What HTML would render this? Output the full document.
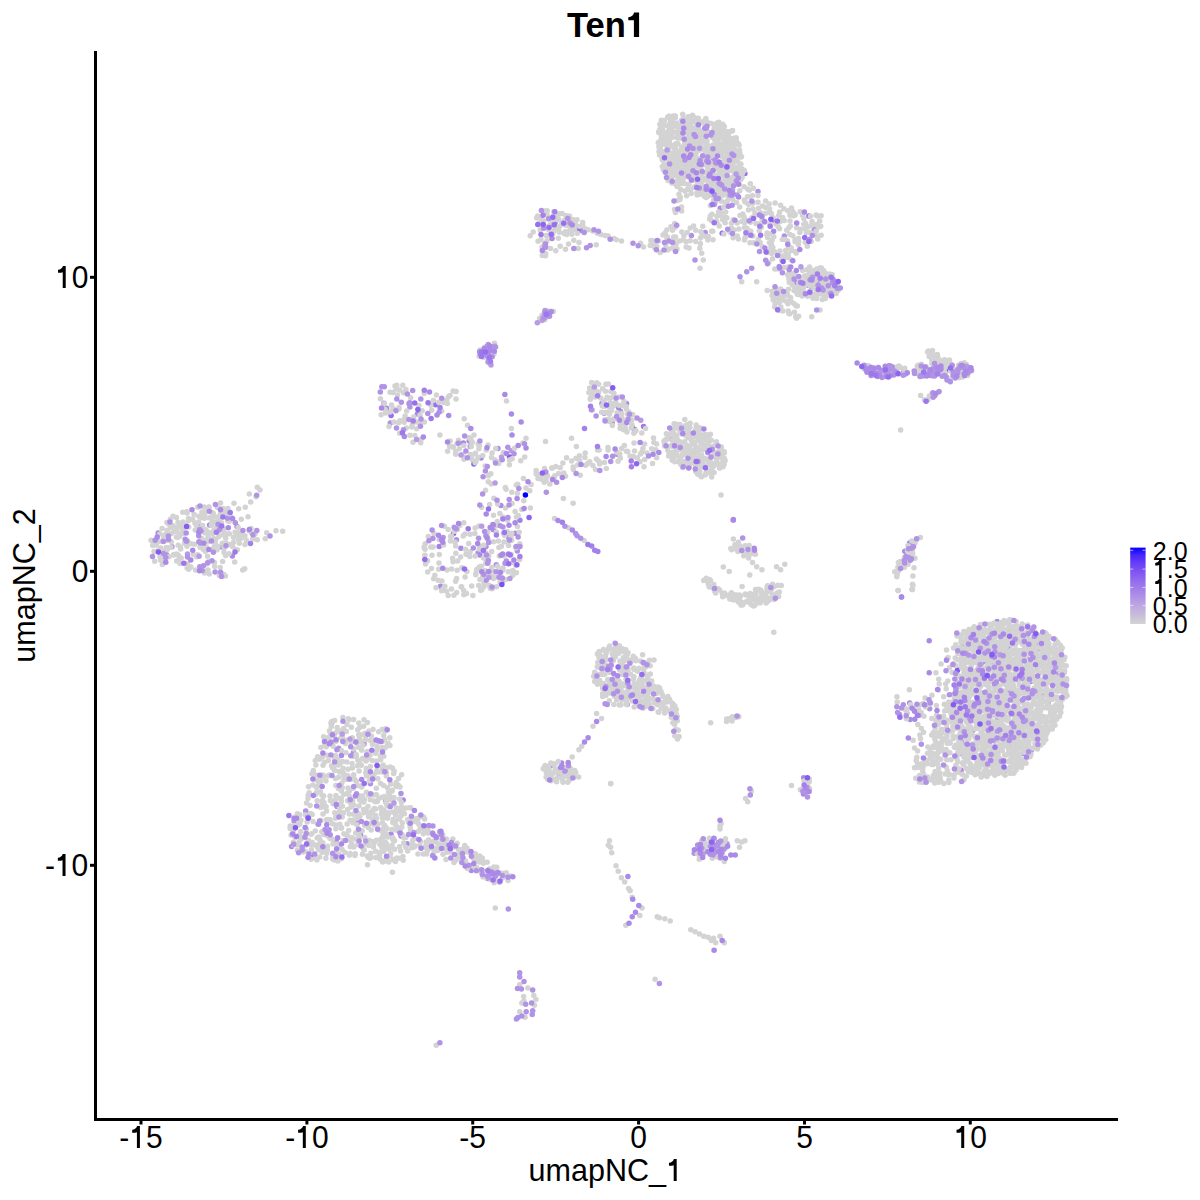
<!DOCTYPE html>
<html><head><meta charset="utf-8"><style>
html,body{margin:0;padding:0;background:#fff;width:1200px;height:1200px;overflow:hidden}
svg{display:block}
text{font-family:"Liberation Sans",sans-serif;fill:#000}
.one{fill-opacity:0}
</style></head><body>
<svg width="1200" height="1200" viewBox="0 0 1200 1200">
<rect width="1200" height="1200" fill="#fff"/>
<g fill="#b69ce3"><circle cx="499.6" cy="882.1" r="2.75"/><circle cx="172.0" cy="546.7" r="2.75"/><circle cx="501.5" cy="457.0" r="2.75"/><circle cx="511.2" cy="450.8" r="2.75"/><circle cx="707.9" cy="195.8" r="2.75"/><circle cx="905.6" cy="374.1" r="2.75"/><circle cx="968.9" cy="367.6" r="2.75"/></g><g fill="#b093e5"><circle cx="971.7" cy="732.0" r="2.75"/><circle cx="975.7" cy="674.3" r="2.75"/><circle cx="981.5" cy="633.9" r="2.75"/><circle cx="981.6" cy="698.1" r="2.75"/><circle cx="990.3" cy="652.2" r="2.75"/><circle cx="988.9" cy="708.5" r="2.75"/><circle cx="992.7" cy="664.6" r="2.75"/><circle cx="997.2" cy="652.3" r="2.75"/><circle cx="1003.8" cy="691.5" r="2.75"/><circle cx="1008.5" cy="631.5" r="2.75"/><circle cx="1010.4" cy="694.3" r="2.75"/><circle cx="1033.7" cy="690.0" r="2.75"/><circle cx="1031.3" cy="750.4" r="2.75"/><circle cx="1056.4" cy="673.6" r="2.75"/><circle cx="903.3" cy="704.8" r="2.75"/><circle cx="906.8" cy="713.1" r="2.75"/><circle cx="929.7" cy="708.7" r="2.75"/><circle cx="962.8" cy="644.2" r="2.75"/><circle cx="957.7" cy="669.8" r="2.75"/><circle cx="963.3" cy="693.2" r="2.75"/><circle cx="963.1" cy="739.3" r="2.75"/><circle cx="965.9" cy="672.9" r="2.75"/><circle cx="974.5" cy="672.2" r="2.75"/><circle cx="972.9" cy="730.2" r="2.75"/><circle cx="982.6" cy="662.2" r="2.75"/><circle cx="994.6" cy="686.1" r="2.75"/><circle cx="992.9" cy="710.4" r="2.75"/><circle cx="1002.5" cy="668.5" r="2.75"/><circle cx="1009.3" cy="691.1" r="2.75"/><circle cx="1023.5" cy="634.9" r="2.75"/><circle cx="1031.0" cy="681.5" r="2.75"/><circle cx="1035.6" cy="643.5" r="2.75"/><circle cx="294.2" cy="821.3" r="2.75"/><circle cx="338.6" cy="748.3" r="2.75"/><circle cx="353.5" cy="752.6" r="2.75"/><circle cx="357.5" cy="823.0" r="2.75"/><circle cx="364.1" cy="743.9" r="2.75"/><circle cx="370.4" cy="783.7" r="2.75"/><circle cx="383.1" cy="770.2" r="2.75"/><circle cx="385.6" cy="801.2" r="2.75"/><circle cx="401.0" cy="836.1" r="2.75"/><circle cx="488.1" cy="870.9" r="2.75"/><circle cx="305.7" cy="810.9" r="2.75"/><circle cx="331.5" cy="723.2" r="2.75"/><circle cx="487.5" cy="878.5" r="2.75"/><circle cx="166.6" cy="554.7" r="2.75"/><circle cx="197.3" cy="524.5" r="2.75"/><circle cx="199.8" cy="566.7" r="2.75"/><circle cx="215.1" cy="571.9" r="2.75"/><circle cx="221.6" cy="547.0" r="2.75"/><circle cx="225.2" cy="513.3" r="2.75"/><circle cx="390.3" cy="423.0" r="2.75"/><circle cx="401.3" cy="402.3" r="2.75"/><circle cx="412.7" cy="390.4" r="2.75"/><circle cx="409.9" cy="407.1" r="2.75"/><circle cx="469.1" cy="441.1" r="2.75"/><circle cx="507.8" cy="447.2" r="2.75"/><circle cx="514.0" cy="453.8" r="2.75"/><circle cx="456.5" cy="539.7" r="2.75"/><circle cx="502.0" cy="581.9" r="2.75"/><circle cx="508.5" cy="537.2" r="2.75"/><circle cx="478.6" cy="538.2" r="2.75"/><circle cx="478.0" cy="553.0" r="2.75"/><circle cx="486.0" cy="546.8" r="2.75"/><circle cx="496.3" cy="564.7" r="2.75"/><circle cx="506.3" cy="560.9" r="2.75"/><circle cx="517.3" cy="550.9" r="2.75"/><circle cx="616.9" cy="454.3" r="2.75"/><circle cx="601.9" cy="403.4" r="2.75"/><circle cx="612.2" cy="422.4" r="2.75"/><circle cx="620.4" cy="411.3" r="2.75"/><circle cx="634.7" cy="429.4" r="2.75"/><circle cx="581.1" cy="230.5" r="2.75"/><circle cx="714.5" cy="182.1" r="2.75"/><circle cx="720.4" cy="169.4" r="2.75"/><circle cx="732.5" cy="194.0" r="2.75"/><circle cx="758.0" cy="191.6" r="2.75"/><circle cx="784.3" cy="235.9" r="2.75"/><circle cx="814.3" cy="229.3" r="2.75"/><circle cx="691.4" cy="235.4" r="2.75"/><circle cx="705.2" cy="232.5" r="2.75"/><circle cx="820.0" cy="279.8" r="2.75"/><circle cx="818.8" cy="283.5" r="2.75"/><circle cx="827.1" cy="292.5" r="2.75"/><circle cx="813.1" cy="274.8" r="2.75"/><circle cx="811.7" cy="288.0" r="2.75"/><circle cx="823.9" cy="273.9" r="2.75"/><circle cx="827.4" cy="277.7" r="2.75"/><circle cx="827.1" cy="287.3" r="2.75"/><circle cx="825.9" cy="295.6" r="2.75"/><circle cx="881.7" cy="375.3" r="2.75"/><circle cx="903.7" cy="371.2" r="2.75"/><circle cx="922.2" cy="372.7" r="2.75"/><circle cx="925.1" cy="373.7" r="2.75"/><circle cx="930.3" cy="375.4" r="2.75"/><circle cx="945.5" cy="371.7" r="2.75"/><circle cx="947.1" cy="367.3" r="2.75"/><circle cx="962.1" cy="371.0" r="2.75"/><circle cx="914.0" cy="542.4" r="2.75"/><circle cx="911.8" cy="557.2" r="2.75"/><circle cx="627.2" cy="704.4" r="2.75"/><circle cx="551.3" cy="765.2" r="2.75"/><circle cx="563.6" cy="767.4" r="2.75"/><circle cx="566.9" cy="768.6" r="2.75"/><circle cx="694.2" cy="853.2" r="2.75"/><circle cx="710.3" cy="842.8" r="2.75"/><circle cx="726.9" cy="843.8" r="2.75"/><circle cx="489.6" cy="362.7" r="2.75"/></g><g fill="#aa89e7"><circle cx="964.5" cy="742.5" r="2.75"/><circle cx="989.2" cy="694.7" r="2.75"/><circle cx="997.1" cy="621.4" r="2.75"/><circle cx="1004.0" cy="772.0" r="2.75"/><circle cx="1008.0" cy="647.6" r="2.75"/><circle cx="1022.7" cy="753.4" r="2.75"/><circle cx="1037.0" cy="650.0" r="2.75"/><circle cx="1042.8" cy="695.5" r="2.75"/><circle cx="1048.2" cy="704.1" r="2.75"/><circle cx="961.1" cy="770.3" r="2.75"/><circle cx="909.7" cy="703.1" r="2.75"/><circle cx="910.2" cy="719.5" r="2.75"/><circle cx="969.6" cy="633.1" r="2.75"/><circle cx="972.7" cy="633.6" r="2.75"/><circle cx="988.0" cy="661.6" r="2.75"/><circle cx="994.9" cy="731.4" r="2.75"/><circle cx="1002.0" cy="706.7" r="2.75"/><circle cx="1001.4" cy="731.0" r="2.75"/><circle cx="1025.4" cy="648.0" r="2.75"/><circle cx="1025.2" cy="680.1" r="2.75"/><circle cx="291.6" cy="846.4" r="2.75"/><circle cx="337.0" cy="806.5" r="2.75"/><circle cx="336.0" cy="841.0" r="2.75"/><circle cx="389.1" cy="805.8" r="2.75"/><circle cx="391.0" cy="834.1" r="2.75"/><circle cx="403.2" cy="800.0" r="2.75"/><circle cx="407.0" cy="843.7" r="2.75"/><circle cx="471.3" cy="870.6" r="2.75"/><circle cx="158.2" cy="533.0" r="2.75"/><circle cx="209.6" cy="524.9" r="2.75"/><circle cx="232.4" cy="556.0" r="2.75"/><circle cx="237.0" cy="526.6" r="2.75"/><circle cx="383.9" cy="403.3" r="2.75"/><circle cx="386.6" cy="408.2" r="2.75"/><circle cx="417.4" cy="414.1" r="2.75"/><circle cx="463.4" cy="442.9" r="2.75"/><circle cx="470.3" cy="446.5" r="2.75"/><circle cx="481.1" cy="457.9" r="2.75"/><circle cx="497.9" cy="448.6" r="2.75"/><circle cx="500.9" cy="505.6" r="2.75"/><circle cx="517.1" cy="498.6" r="2.75"/><circle cx="440.5" cy="586.3" r="2.75"/><circle cx="460.9" cy="548.2" r="2.75"/><circle cx="479.9" cy="555.0" r="2.75"/><circle cx="493.3" cy="529.7" r="2.75"/><circle cx="515.2" cy="533.2" r="2.75"/><circle cx="604.2" cy="413.2" r="2.75"/><circle cx="618.5" cy="407.6" r="2.75"/><circle cx="626.5" cy="403.4" r="2.75"/><circle cx="545.8" cy="247.2" r="2.75"/><circle cx="555.2" cy="222.6" r="2.75"/><circle cx="683.2" cy="172.0" r="2.75"/><circle cx="711.8" cy="158.3" r="2.75"/><circle cx="713.3" cy="132.9" r="2.75"/><circle cx="742.4" cy="169.8" r="2.75"/><circle cx="690.5" cy="166.5" r="2.75"/><circle cx="708.9" cy="151.6" r="2.75"/><circle cx="720.3" cy="208.2" r="2.75"/><circle cx="772.9" cy="220.3" r="2.75"/><circle cx="773.6" cy="231.3" r="2.75"/><circle cx="795.6" cy="282.4" r="2.75"/><circle cx="808.1" cy="285.3" r="2.75"/><circle cx="821.5" cy="286.6" r="2.75"/><circle cx="833.7" cy="281.1" r="2.75"/><circle cx="881.6" cy="370.3" r="2.75"/><circle cx="895.8" cy="371.1" r="2.75"/><circle cx="946.0" cy="370.7" r="2.75"/><circle cx="946.4" cy="377.0" r="2.75"/><circle cx="754.2" cy="548.3" r="2.75"/><circle cx="904.8" cy="551.3" r="2.75"/><circle cx="909.6" cy="543.0" r="2.75"/><circle cx="559.2" cy="775.4" r="2.75"/><circle cx="561.6" cy="763.0" r="2.75"/><circle cx="803.7" cy="777.8" r="2.75"/><circle cx="803.5" cy="794.1" r="2.75"/><circle cx="544.9" cy="318.0" r="2.75"/></g><g fill="#a480ea"><circle cx="997.3" cy="717.6" r="2.75"/><circle cx="977.2" cy="670.2" r="2.75"/><circle cx="995.2" cy="726.3" r="2.75"/><circle cx="1008.6" cy="745.5" r="2.75"/><circle cx="360.5" cy="835.1" r="2.75"/><circle cx="495.6" cy="872.9" r="2.75"/><circle cx="519.9" cy="520.2" r="2.75"/><circle cx="439.2" cy="546.5" r="2.75"/><circle cx="632.5" cy="427.5" r="2.75"/></g><g fill="#9d77ec"><circle cx="1003.6" cy="666.1" r="2.75"/><circle cx="643.6" cy="426.5" r="2.75"/><circle cx="671.4" cy="438.4" r="2.75"/><circle cx="808.8" cy="216.0" r="2.75"/><circle cx="888.9" cy="373.3" r="2.75"/></g><g fill="#966eee"><circle cx="1001.2" cy="730.5" r="2.75"/><circle cx="1020.3" cy="662.3" r="2.75"/><circle cx="391.1" cy="415.4" r="2.75"/><circle cx="435.4" cy="404.7" r="2.75"/><circle cx="578.1" cy="229.7" r="2.75"/><circle cx="744.9" cy="173.5" r="2.75"/><circle cx="722.2" cy="233.2" r="2.75"/><circle cx="941.9" cy="370.5" r="2.75"/></g><g fill="#8e65f0"><circle cx="473.9" cy="464.0" r="2.75"/></g><g fill="#855bf2"><circle cx="959.8" cy="753.6" r="2.75"/><circle cx="957.3" cy="670.6" r="2.75"/><circle cx="313.8" cy="856.7" r="2.75"/><circle cx="509.5" cy="456.9" r="2.75"/><circle cx="453.5" cy="533.5" r="2.75"/><circle cx="947.8" cy="369.8" r="2.75"/><circle cx="719.7" cy="845.5" r="2.75"/></g>
<g fill="#d3d3d3"><circle cx="952.1" cy="702.8" r="2.75"/><circle cx="952.9" cy="704.7" r="2.75"/><circle cx="952.6" cy="709.6" r="2.75"/><circle cx="951.7" cy="710.4" r="2.75"/><circle cx="955.1" cy="693.2" r="2.75"/><circle cx="954.9" cy="695.4" r="2.75"/><circle cx="954.3" cy="699.1" r="2.75"/><circle cx="953.5" cy="706.3" r="2.75"/><circle cx="955.4" cy="708.5" r="2.75"/><circle cx="954.3" cy="711.0" r="2.75"/><circle cx="955.0" cy="714.8" r="2.75"/><circle cx="954.4" cy="717.2" r="2.75"/><circle cx="953.8" cy="720.6" r="2.75"/><circle cx="958.7" cy="675.5" r="2.75"/><circle cx="957.3" cy="681.9" r="2.75"/><circle cx="956.1" cy="686.9" r="2.75"/><circle cx="958.9" cy="693.8" r="2.75"/><circle cx="956.3" cy="699.1" r="2.75"/><circle cx="958.1" cy="701.8" r="2.75"/><circle cx="958.9" cy="706.4" r="2.75"/><circle cx="957.5" cy="712.3" r="2.75"/><circle cx="957.7" cy="715.0" r="2.75"/><circle cx="957.2" cy="719.3" r="2.75"/><circle cx="956.2" cy="724.5" r="2.75"/><circle cx="956.5" cy="727.6" r="2.75"/><circle cx="956.2" cy="728.3" r="2.75"/><circle cx="957.6" cy="736.4" r="2.75"/><circle cx="959.0" cy="740.8" r="2.75"/><circle cx="960.8" cy="635.0" r="2.75"/><circle cx="961.1" cy="638.2" r="2.75"/><circle cx="961.6" cy="640.3" r="2.75"/><circle cx="961.0" cy="642.1" r="2.75"/><circle cx="960.7" cy="646.9" r="2.75"/><circle cx="961.2" cy="648.7" r="2.75"/><circle cx="961.5" cy="653.6" r="2.75"/><circle cx="961.9" cy="656.8" r="2.75"/><circle cx="961.1" cy="661.8" r="2.75"/><circle cx="961.1" cy="665.0" r="2.75"/><circle cx="961.8" cy="668.1" r="2.75"/><circle cx="960.2" cy="676.7" r="2.75"/><circle cx="960.0" cy="682.6" r="2.75"/><circle cx="961.0" cy="684.6" r="2.75"/><circle cx="959.1" cy="686.8" r="2.75"/><circle cx="961.7" cy="691.9" r="2.75"/><circle cx="959.6" cy="696.2" r="2.75"/><circle cx="959.4" cy="700.7" r="2.75"/><circle cx="960.8" cy="704.4" r="2.75"/><circle cx="960.9" cy="708.0" r="2.75"/><circle cx="960.8" cy="712.6" r="2.75"/><circle cx="961.7" cy="714.4" r="2.75"/><circle cx="961.0" cy="718.2" r="2.75"/><circle cx="960.8" cy="721.7" r="2.75"/><circle cx="961.8" cy="727.8" r="2.75"/><circle cx="961.2" cy="730.2" r="2.75"/><circle cx="960.3" cy="732.8" r="2.75"/><circle cx="960.6" cy="743.0" r="2.75"/><circle cx="961.6" cy="744.9" r="2.75"/><circle cx="959.1" cy="747.1" r="2.75"/><circle cx="959.5" cy="749.9" r="2.75"/><circle cx="960.5" cy="752.2" r="2.75"/><circle cx="963.9" cy="631.5" r="2.75"/><circle cx="964.9" cy="633.9" r="2.75"/><circle cx="962.0" cy="640.3" r="2.75"/><circle cx="964.3" cy="642.3" r="2.75"/><circle cx="962.2" cy="656.0" r="2.75"/><circle cx="963.5" cy="656.5" r="2.75"/><circle cx="962.8" cy="661.6" r="2.75"/><circle cx="963.6" cy="662.7" r="2.75"/><circle cx="964.1" cy="667.7" r="2.75"/><circle cx="964.7" cy="669.6" r="2.75"/><circle cx="964.0" cy="672.4" r="2.75"/><circle cx="964.5" cy="675.5" r="2.75"/><circle cx="962.9" cy="678.5" r="2.75"/><circle cx="964.6" cy="682.6" r="2.75"/><circle cx="964.1" cy="686.9" r="2.75"/><circle cx="964.7" cy="692.1" r="2.75"/><circle cx="962.0" cy="702.7" r="2.75"/><circle cx="963.1" cy="706.8" r="2.75"/><circle cx="962.9" cy="708.3" r="2.75"/><circle cx="962.4" cy="712.0" r="2.75"/><circle cx="964.8" cy="715.1" r="2.75"/><circle cx="962.4" cy="717.8" r="2.75"/><circle cx="962.0" cy="726.2" r="2.75"/><circle cx="963.3" cy="730.3" r="2.75"/><circle cx="963.8" cy="732.9" r="2.75"/><circle cx="964.7" cy="734.7" r="2.75"/><circle cx="963.6" cy="737.9" r="2.75"/><circle cx="963.2" cy="749.8" r="2.75"/><circle cx="964.1" cy="754.4" r="2.75"/><circle cx="963.9" cy="757.0" r="2.75"/><circle cx="963.9" cy="762.2" r="2.75"/><circle cx="967.1" cy="632.1" r="2.75"/><circle cx="967.2" cy="633.8" r="2.75"/><circle cx="966.6" cy="638.2" r="2.75"/><circle cx="966.5" cy="639.6" r="2.75"/><circle cx="966.5" cy="643.7" r="2.75"/><circle cx="966.0" cy="644.8" r="2.75"/><circle cx="965.8" cy="649.3" r="2.75"/><circle cx="966.4" cy="651.0" r="2.75"/><circle cx="967.0" cy="655.0" r="2.75"/><circle cx="965.1" cy="657.0" r="2.75"/><circle cx="965.5" cy="660.7" r="2.75"/><circle cx="966.5" cy="662.6" r="2.75"/><circle cx="965.0" cy="667.8" r="2.75"/><circle cx="965.9" cy="669.7" r="2.75"/><circle cx="966.8" cy="671.6" r="2.75"/><circle cx="967.1" cy="674.5" r="2.75"/><circle cx="966.6" cy="680.6" r="2.75"/><circle cx="967.8" cy="684.2" r="2.75"/><circle cx="966.3" cy="689.2" r="2.75"/><circle cx="965.3" cy="689.4" r="2.75"/><circle cx="965.2" cy="692.4" r="2.75"/><circle cx="966.4" cy="696.4" r="2.75"/><circle cx="965.0" cy="700.4" r="2.75"/><circle cx="967.6" cy="708.7" r="2.75"/><circle cx="966.6" cy="714.0" r="2.75"/><circle cx="965.3" cy="719.1" r="2.75"/><circle cx="966.6" cy="721.8" r="2.75"/><circle cx="967.3" cy="722.2" r="2.75"/><circle cx="965.5" cy="729.1" r="2.75"/><circle cx="967.0" cy="733.7" r="2.75"/><circle cx="967.7" cy="736.1" r="2.75"/><circle cx="967.7" cy="738.6" r="2.75"/><circle cx="966.4" cy="741.2" r="2.75"/><circle cx="965.5" cy="747.8" r="2.75"/><circle cx="966.2" cy="749.5" r="2.75"/><circle cx="965.2" cy="753.5" r="2.75"/><circle cx="967.3" cy="755.7" r="2.75"/><circle cx="965.5" cy="760.5" r="2.75"/><circle cx="965.3" cy="761.7" r="2.75"/><circle cx="966.0" cy="768.3" r="2.75"/><circle cx="969.1" cy="629.5" r="2.75"/><circle cx="970.7" cy="634.2" r="2.75"/><circle cx="968.8" cy="637.4" r="2.75"/><circle cx="969.0" cy="638.5" r="2.75"/><circle cx="970.4" cy="647.3" r="2.75"/><circle cx="968.6" cy="648.9" r="2.75"/><circle cx="968.9" cy="658.3" r="2.75"/><circle cx="970.0" cy="662.1" r="2.75"/><circle cx="970.7" cy="667.7" r="2.75"/><circle cx="968.7" cy="669.0" r="2.75"/><circle cx="968.6" cy="672.7" r="2.75"/><circle cx="970.8" cy="676.7" r="2.75"/><circle cx="969.9" cy="680.3" r="2.75"/><circle cx="970.1" cy="682.1" r="2.75"/><circle cx="969.1" cy="689.2" r="2.75"/><circle cx="968.0" cy="692.3" r="2.75"/><circle cx="969.0" cy="693.0" r="2.75"/><circle cx="969.5" cy="696.7" r="2.75"/><circle cx="968.6" cy="700.7" r="2.75"/><circle cx="969.2" cy="703.4" r="2.75"/><circle cx="970.1" cy="704.9" r="2.75"/><circle cx="970.2" cy="707.9" r="2.75"/><circle cx="970.0" cy="713.1" r="2.75"/><circle cx="969.8" cy="715.6" r="2.75"/><circle cx="969.1" cy="719.9" r="2.75"/><circle cx="968.3" cy="724.4" r="2.75"/><circle cx="970.6" cy="727.1" r="2.75"/><circle cx="969.8" cy="729.5" r="2.75"/><circle cx="970.6" cy="732.9" r="2.75"/><circle cx="968.5" cy="735.0" r="2.75"/><circle cx="968.7" cy="739.0" r="2.75"/><circle cx="969.5" cy="745.9" r="2.75"/><circle cx="970.1" cy="750.9" r="2.75"/><circle cx="969.7" cy="754.1" r="2.75"/><circle cx="968.7" cy="757.1" r="2.75"/><circle cx="968.2" cy="759.3" r="2.75"/><circle cx="970.1" cy="763.8" r="2.75"/><circle cx="970.9" cy="765.2" r="2.75"/><circle cx="968.2" cy="769.3" r="2.75"/><circle cx="968.3" cy="771.3" r="2.75"/><circle cx="973.6" cy="628.1" r="2.75"/><circle cx="971.5" cy="632.2" r="2.75"/><circle cx="972.6" cy="638.6" r="2.75"/><circle cx="972.8" cy="641.7" r="2.75"/><circle cx="973.9" cy="646.6" r="2.75"/><circle cx="973.0" cy="647.8" r="2.75"/><circle cx="972.8" cy="650.6" r="2.75"/><circle cx="972.2" cy="656.0" r="2.75"/><circle cx="971.8" cy="656.4" r="2.75"/><circle cx="973.0" cy="660.9" r="2.75"/><circle cx="972.6" cy="663.2" r="2.75"/><circle cx="971.2" cy="665.4" r="2.75"/><circle cx="973.2" cy="672.7" r="2.75"/><circle cx="971.6" cy="675.2" r="2.75"/><circle cx="971.9" cy="679.9" r="2.75"/><circle cx="971.4" cy="682.4" r="2.75"/><circle cx="971.9" cy="685.9" r="2.75"/><circle cx="971.7" cy="689.1" r="2.75"/><circle cx="973.0" cy="691.1" r="2.75"/><circle cx="973.4" cy="694.1" r="2.75"/><circle cx="972.8" cy="702.3" r="2.75"/><circle cx="973.3" cy="706.3" r="2.75"/><circle cx="971.3" cy="707.7" r="2.75"/><circle cx="971.5" cy="710.9" r="2.75"/><circle cx="973.9" cy="713.5" r="2.75"/><circle cx="971.7" cy="720.7" r="2.75"/><circle cx="971.7" cy="735.0" r="2.75"/><circle cx="972.3" cy="743.9" r="2.75"/><circle cx="973.5" cy="750.6" r="2.75"/><circle cx="973.5" cy="754.0" r="2.75"/><circle cx="971.8" cy="757.5" r="2.75"/><circle cx="971.1" cy="766.6" r="2.75"/><circle cx="972.2" cy="770.0" r="2.75"/><circle cx="971.5" cy="772.5" r="2.75"/><circle cx="974.2" cy="626.7" r="2.75"/><circle cx="976.7" cy="630.2" r="2.75"/><circle cx="975.6" cy="632.5" r="2.75"/><circle cx="975.1" cy="635.9" r="2.75"/><circle cx="976.5" cy="642.7" r="2.75"/><circle cx="975.5" cy="646.2" r="2.75"/><circle cx="975.6" cy="649.0" r="2.75"/><circle cx="976.4" cy="650.4" r="2.75"/><circle cx="974.5" cy="655.6" r="2.75"/><circle cx="974.4" cy="657.4" r="2.75"/><circle cx="974.7" cy="662.3" r="2.75"/><circle cx="976.8" cy="662.7" r="2.75"/><circle cx="975.4" cy="670.9" r="2.75"/><circle cx="974.5" cy="675.6" r="2.75"/><circle cx="974.9" cy="677.9" r="2.75"/><circle cx="975.9" cy="683.9" r="2.75"/><circle cx="976.8" cy="689.2" r="2.75"/><circle cx="974.3" cy="692.1" r="2.75"/><circle cx="975.9" cy="692.3" r="2.75"/><circle cx="975.1" cy="706.7" r="2.75"/><circle cx="976.8" cy="708.0" r="2.75"/><circle cx="976.8" cy="710.3" r="2.75"/><circle cx="975.1" cy="714.8" r="2.75"/><circle cx="974.9" cy="720.3" r="2.75"/><circle cx="975.9" cy="722.3" r="2.75"/><circle cx="976.5" cy="726.8" r="2.75"/><circle cx="974.9" cy="728.9" r="2.75"/><circle cx="975.1" cy="736.6" r="2.75"/><circle cx="975.0" cy="737.5" r="2.75"/><circle cx="976.3" cy="741.4" r="2.75"/><circle cx="975.5" cy="746.0" r="2.75"/><circle cx="975.3" cy="746.7" r="2.75"/><circle cx="976.9" cy="749.2" r="2.75"/><circle cx="975.1" cy="752.2" r="2.75"/><circle cx="976.4" cy="756.5" r="2.75"/><circle cx="976.9" cy="763.8" r="2.75"/><circle cx="975.9" cy="765.8" r="2.75"/><circle cx="974.1" cy="768.9" r="2.75"/><circle cx="976.8" cy="772.0" r="2.75"/><circle cx="975.1" cy="774.8" r="2.75"/><circle cx="977.1" cy="634.2" r="2.75"/><circle cx="978.2" cy="636.6" r="2.75"/><circle cx="977.0" cy="641.1" r="2.75"/><circle cx="978.9" cy="643.8" r="2.75"/><circle cx="979.1" cy="645.5" r="2.75"/><circle cx="979.2" cy="648.6" r="2.75"/><circle cx="978.5" cy="657.9" r="2.75"/><circle cx="977.5" cy="660.0" r="2.75"/><circle cx="979.5" cy="664.1" r="2.75"/><circle cx="978.2" cy="667.8" r="2.75"/><circle cx="978.3" cy="672.6" r="2.75"/><circle cx="979.2" cy="677.0" r="2.75"/><circle cx="977.7" cy="679.5" r="2.75"/><circle cx="977.0" cy="682.5" r="2.75"/><circle cx="977.7" cy="688.5" r="2.75"/><circle cx="978.5" cy="689.3" r="2.75"/><circle cx="979.5" cy="696.6" r="2.75"/><circle cx="979.9" cy="698.6" r="2.75"/><circle cx="978.0" cy="701.3" r="2.75"/><circle cx="977.6" cy="706.8" r="2.75"/><circle cx="978.3" cy="708.9" r="2.75"/><circle cx="979.2" cy="714.5" r="2.75"/><circle cx="977.4" cy="717.4" r="2.75"/><circle cx="977.9" cy="721.5" r="2.75"/><circle cx="978.0" cy="725.4" r="2.75"/><circle cx="977.8" cy="728.2" r="2.75"/><circle cx="977.0" cy="736.3" r="2.75"/><circle cx="977.9" cy="744.1" r="2.75"/><circle cx="977.3" cy="748.9" r="2.75"/><circle cx="979.7" cy="755.6" r="2.75"/><circle cx="978.7" cy="759.6" r="2.75"/><circle cx="977.1" cy="761.4" r="2.75"/><circle cx="978.2" cy="765.5" r="2.75"/><circle cx="979.3" cy="768.1" r="2.75"/><circle cx="977.7" cy="772.9" r="2.75"/><circle cx="979.3" cy="773.3" r="2.75"/><circle cx="980.5" cy="624.6" r="2.75"/><circle cx="980.5" cy="628.5" r="2.75"/><circle cx="980.1" cy="631.5" r="2.75"/><circle cx="980.0" cy="636.0" r="2.75"/><circle cx="982.6" cy="639.2" r="2.75"/><circle cx="982.7" cy="642.4" r="2.75"/><circle cx="981.6" cy="646.1" r="2.75"/><circle cx="981.6" cy="650.4" r="2.75"/><circle cx="982.1" cy="650.6" r="2.75"/><circle cx="982.5" cy="654.7" r="2.75"/><circle cx="981.0" cy="656.8" r="2.75"/><circle cx="980.8" cy="660.5" r="2.75"/><circle cx="980.5" cy="665.3" r="2.75"/><circle cx="982.8" cy="668.1" r="2.75"/><circle cx="980.1" cy="673.5" r="2.75"/><circle cx="980.7" cy="676.4" r="2.75"/><circle cx="981.9" cy="678.8" r="2.75"/><circle cx="982.0" cy="681.1" r="2.75"/><circle cx="980.6" cy="686.4" r="2.75"/><circle cx="980.2" cy="691.9" r="2.75"/><circle cx="982.8" cy="693.2" r="2.75"/><circle cx="981.6" cy="700.2" r="2.75"/><circle cx="981.1" cy="701.5" r="2.75"/><circle cx="981.7" cy="705.8" r="2.75"/><circle cx="980.4" cy="711.6" r="2.75"/><circle cx="980.6" cy="718.5" r="2.75"/><circle cx="982.9" cy="719.9" r="2.75"/><circle cx="981.6" cy="725.3" r="2.75"/><circle cx="981.0" cy="732.6" r="2.75"/><circle cx="982.9" cy="734.8" r="2.75"/><circle cx="981.0" cy="737.4" r="2.75"/><circle cx="980.2" cy="740.9" r="2.75"/><circle cx="982.1" cy="743.9" r="2.75"/><circle cx="982.2" cy="746.8" r="2.75"/><circle cx="982.3" cy="750.6" r="2.75"/><circle cx="982.9" cy="754.7" r="2.75"/><circle cx="982.5" cy="757.1" r="2.75"/><circle cx="982.0" cy="760.2" r="2.75"/><circle cx="981.6" cy="764.3" r="2.75"/><circle cx="980.4" cy="774.2" r="2.75"/><circle cx="981.2" cy="776.9" r="2.75"/><circle cx="984.9" cy="629.4" r="2.75"/><circle cx="983.3" cy="634.9" r="2.75"/><circle cx="984.0" cy="637.4" r="2.75"/><circle cx="985.8" cy="643.4" r="2.75"/><circle cx="983.0" cy="646.9" r="2.75"/><circle cx="984.2" cy="647.7" r="2.75"/><circle cx="985.2" cy="656.3" r="2.75"/><circle cx="984.4" cy="658.3" r="2.75"/><circle cx="983.9" cy="659.6" r="2.75"/><circle cx="985.7" cy="671.1" r="2.75"/><circle cx="985.4" cy="675.3" r="2.75"/><circle cx="983.9" cy="677.4" r="2.75"/><circle cx="983.8" cy="680.5" r="2.75"/><circle cx="985.5" cy="684.5" r="2.75"/><circle cx="985.6" cy="692.4" r="2.75"/><circle cx="983.8" cy="695.9" r="2.75"/><circle cx="984.7" cy="698.4" r="2.75"/><circle cx="983.2" cy="703.0" r="2.75"/><circle cx="985.7" cy="705.5" r="2.75"/><circle cx="984.1" cy="709.7" r="2.75"/><circle cx="983.7" cy="710.6" r="2.75"/><circle cx="984.6" cy="716.1" r="2.75"/><circle cx="985.3" cy="717.3" r="2.75"/><circle cx="983.6" cy="721.2" r="2.75"/><circle cx="983.4" cy="723.7" r="2.75"/><circle cx="985.1" cy="728.0" r="2.75"/><circle cx="983.4" cy="729.8" r="2.75"/><circle cx="984.4" cy="736.5" r="2.75"/><circle cx="983.3" cy="739.7" r="2.75"/><circle cx="983.0" cy="740.7" r="2.75"/><circle cx="985.2" cy="744.1" r="2.75"/><circle cx="982.9" cy="747.4" r="2.75"/><circle cx="985.2" cy="751.3" r="2.75"/><circle cx="983.5" cy="754.2" r="2.75"/><circle cx="983.2" cy="757.5" r="2.75"/><circle cx="983.7" cy="760.7" r="2.75"/><circle cx="985.8" cy="762.2" r="2.75"/><circle cx="985.4" cy="767.0" r="2.75"/><circle cx="984.2" cy="771.4" r="2.75"/><circle cx="983.2" cy="775.6" r="2.75"/><circle cx="988.9" cy="624.3" r="2.75"/><circle cx="986.2" cy="631.8" r="2.75"/><circle cx="988.1" cy="632.7" r="2.75"/><circle cx="987.5" cy="639.7" r="2.75"/><circle cx="986.5" cy="645.0" r="2.75"/><circle cx="988.7" cy="653.6" r="2.75"/><circle cx="987.4" cy="657.7" r="2.75"/><circle cx="987.3" cy="659.7" r="2.75"/><circle cx="988.0" cy="664.4" r="2.75"/><circle cx="987.0" cy="666.9" r="2.75"/><circle cx="988.6" cy="670.9" r="2.75"/><circle cx="987.9" cy="672.0" r="2.75"/><circle cx="987.8" cy="683.1" r="2.75"/><circle cx="987.6" cy="685.2" r="2.75"/><circle cx="988.9" cy="687.7" r="2.75"/><circle cx="987.6" cy="691.2" r="2.75"/><circle cx="987.6" cy="695.7" r="2.75"/><circle cx="986.4" cy="700.4" r="2.75"/><circle cx="988.7" cy="701.7" r="2.75"/><circle cx="987.6" cy="706.5" r="2.75"/><circle cx="986.4" cy="709.6" r="2.75"/><circle cx="988.4" cy="712.5" r="2.75"/><circle cx="987.0" cy="715.8" r="2.75"/><circle cx="987.3" cy="721.5" r="2.75"/><circle cx="987.9" cy="726.2" r="2.75"/><circle cx="987.4" cy="734.5" r="2.75"/><circle cx="986.9" cy="738.2" r="2.75"/><circle cx="987.7" cy="740.4" r="2.75"/><circle cx="987.2" cy="746.7" r="2.75"/><circle cx="987.5" cy="752.6" r="2.75"/><circle cx="987.5" cy="756.1" r="2.75"/><circle cx="986.6" cy="760.4" r="2.75"/><circle cx="986.2" cy="768.8" r="2.75"/><circle cx="986.6" cy="771.8" r="2.75"/><circle cx="988.5" cy="774.0" r="2.75"/><circle cx="987.0" cy="776.6" r="2.75"/><circle cx="991.8" cy="626.2" r="2.75"/><circle cx="990.1" cy="628.9" r="2.75"/><circle cx="988.9" cy="630.7" r="2.75"/><circle cx="991.8" cy="633.5" r="2.75"/><circle cx="990.2" cy="637.7" r="2.75"/><circle cx="989.3" cy="640.3" r="2.75"/><circle cx="991.5" cy="641.7" r="2.75"/><circle cx="991.3" cy="645.0" r="2.75"/><circle cx="989.7" cy="648.1" r="2.75"/><circle cx="989.9" cy="656.2" r="2.75"/><circle cx="990.1" cy="657.5" r="2.75"/><circle cx="990.3" cy="661.0" r="2.75"/><circle cx="989.6" cy="665.4" r="2.75"/><circle cx="991.3" cy="666.2" r="2.75"/><circle cx="990.9" cy="668.7" r="2.75"/><circle cx="989.0" cy="676.4" r="2.75"/><circle cx="991.0" cy="678.7" r="2.75"/><circle cx="990.1" cy="681.8" r="2.75"/><circle cx="989.0" cy="687.0" r="2.75"/><circle cx="989.4" cy="691.7" r="2.75"/><circle cx="991.4" cy="696.6" r="2.75"/><circle cx="990.9" cy="698.8" r="2.75"/><circle cx="990.3" cy="704.0" r="2.75"/><circle cx="989.5" cy="712.4" r="2.75"/><circle cx="989.1" cy="714.0" r="2.75"/><circle cx="990.3" cy="716.9" r="2.75"/><circle cx="989.5" cy="720.7" r="2.75"/><circle cx="990.2" cy="722.2" r="2.75"/><circle cx="991.4" cy="726.3" r="2.75"/><circle cx="989.9" cy="730.5" r="2.75"/><circle cx="989.6" cy="733.9" r="2.75"/><circle cx="989.7" cy="736.9" r="2.75"/><circle cx="989.2" cy="742.9" r="2.75"/><circle cx="989.4" cy="745.6" r="2.75"/><circle cx="990.2" cy="746.4" r="2.75"/><circle cx="990.8" cy="751.6" r="2.75"/><circle cx="990.9" cy="754.9" r="2.75"/><circle cx="989.7" cy="757.8" r="2.75"/><circle cx="989.1" cy="762.4" r="2.75"/><circle cx="991.2" cy="766.0" r="2.75"/><circle cx="991.3" cy="771.5" r="2.75"/><circle cx="989.9" cy="773.3" r="2.75"/><circle cx="994.0" cy="622.9" r="2.75"/><circle cx="992.5" cy="624.1" r="2.75"/><circle cx="992.7" cy="631.8" r="2.75"/><circle cx="994.5" cy="633.6" r="2.75"/><circle cx="992.8" cy="638.1" r="2.75"/><circle cx="992.2" cy="639.0" r="2.75"/><circle cx="992.7" cy="644.3" r="2.75"/><circle cx="994.8" cy="644.9" r="2.75"/><circle cx="992.9" cy="650.3" r="2.75"/><circle cx="993.1" cy="660.8" r="2.75"/><circle cx="992.6" cy="666.6" r="2.75"/><circle cx="994.7" cy="670.2" r="2.75"/><circle cx="994.0" cy="672.7" r="2.75"/><circle cx="992.9" cy="676.3" r="2.75"/><circle cx="992.2" cy="680.0" r="2.75"/><circle cx="992.5" cy="681.0" r="2.75"/><circle cx="994.0" cy="686.5" r="2.75"/><circle cx="993.5" cy="691.3" r="2.75"/><circle cx="992.6" cy="694.4" r="2.75"/><circle cx="993.9" cy="697.4" r="2.75"/><circle cx="993.7" cy="699.2" r="2.75"/><circle cx="992.2" cy="703.2" r="2.75"/><circle cx="992.6" cy="705.4" r="2.75"/><circle cx="994.1" cy="714.9" r="2.75"/><circle cx="993.2" cy="721.8" r="2.75"/><circle cx="992.9" cy="723.1" r="2.75"/><circle cx="993.5" cy="727.8" r="2.75"/><circle cx="994.2" cy="729.3" r="2.75"/><circle cx="994.3" cy="733.2" r="2.75"/><circle cx="992.4" cy="734.8" r="2.75"/><circle cx="994.7" cy="740.0" r="2.75"/><circle cx="994.9" cy="747.3" r="2.75"/><circle cx="994.6" cy="749.4" r="2.75"/><circle cx="994.1" cy="753.9" r="2.75"/><circle cx="992.3" cy="755.6" r="2.75"/><circle cx="993.5" cy="760.2" r="2.75"/><circle cx="994.5" cy="763.3" r="2.75"/><circle cx="993.0" cy="766.8" r="2.75"/><circle cx="993.7" cy="769.5" r="2.75"/><circle cx="993.3" cy="772.1" r="2.75"/><circle cx="994.8" cy="775.3" r="2.75"/><circle cx="997.3" cy="624.2" r="2.75"/><circle cx="997.6" cy="627.1" r="2.75"/><circle cx="995.6" cy="630.3" r="2.75"/><circle cx="996.9" cy="634.9" r="2.75"/><circle cx="996.0" cy="636.3" r="2.75"/><circle cx="994.9" cy="641.2" r="2.75"/><circle cx="995.9" cy="642.2" r="2.75"/><circle cx="995.4" cy="650.0" r="2.75"/><circle cx="997.5" cy="655.7" r="2.75"/><circle cx="997.2" cy="659.3" r="2.75"/><circle cx="996.2" cy="662.2" r="2.75"/><circle cx="996.2" cy="663.4" r="2.75"/><circle cx="997.7" cy="666.8" r="2.75"/><circle cx="995.8" cy="669.1" r="2.75"/><circle cx="995.3" cy="674.0" r="2.75"/><circle cx="997.0" cy="675.2" r="2.75"/><circle cx="995.7" cy="678.7" r="2.75"/><circle cx="996.5" cy="680.4" r="2.75"/><circle cx="996.6" cy="683.6" r="2.75"/><circle cx="996.4" cy="688.5" r="2.75"/><circle cx="997.4" cy="691.3" r="2.75"/><circle cx="995.2" cy="700.9" r="2.75"/><circle cx="997.3" cy="702.0" r="2.75"/><circle cx="996.9" cy="705.5" r="2.75"/><circle cx="997.3" cy="707.8" r="2.75"/><circle cx="997.7" cy="711.3" r="2.75"/><circle cx="995.8" cy="716.1" r="2.75"/><circle cx="996.5" cy="722.1" r="2.75"/><circle cx="995.4" cy="722.7" r="2.75"/><circle cx="997.8" cy="725.3" r="2.75"/><circle cx="997.4" cy="729.8" r="2.75"/><circle cx="995.3" cy="737.1" r="2.75"/><circle cx="997.5" cy="740.3" r="2.75"/><circle cx="995.2" cy="745.6" r="2.75"/><circle cx="997.2" cy="746.5" r="2.75"/><circle cx="995.8" cy="749.2" r="2.75"/><circle cx="996.1" cy="753.7" r="2.75"/><circle cx="996.9" cy="758.6" r="2.75"/><circle cx="995.9" cy="761.6" r="2.75"/><circle cx="996.9" cy="765.0" r="2.75"/><circle cx="996.0" cy="772.0" r="2.75"/><circle cx="995.6" cy="774.3" r="2.75"/><circle cx="1000.1" cy="625.3" r="2.75"/><circle cx="1000.1" cy="629.1" r="2.75"/><circle cx="999.3" cy="630.2" r="2.75"/><circle cx="1000.4" cy="636.5" r="2.75"/><circle cx="1000.4" cy="641.0" r="2.75"/><circle cx="999.3" cy="642.4" r="2.75"/><circle cx="999.4" cy="646.5" r="2.75"/><circle cx="998.0" cy="649.9" r="2.75"/><circle cx="999.6" cy="653.4" r="2.75"/><circle cx="1000.3" cy="659.1" r="2.75"/><circle cx="999.9" cy="661.3" r="2.75"/><circle cx="1000.4" cy="665.9" r="2.75"/><circle cx="1000.0" cy="671.4" r="2.75"/><circle cx="1000.3" cy="675.9" r="2.75"/><circle cx="998.2" cy="685.6" r="2.75"/><circle cx="999.6" cy="688.3" r="2.75"/><circle cx="999.0" cy="690.2" r="2.75"/><circle cx="1000.6" cy="694.4" r="2.75"/><circle cx="999.7" cy="696.0" r="2.75"/><circle cx="998.4" cy="700.2" r="2.75"/><circle cx="1000.5" cy="702.9" r="2.75"/><circle cx="999.6" cy="708.5" r="2.75"/><circle cx="998.1" cy="712.4" r="2.75"/><circle cx="999.4" cy="713.5" r="2.75"/><circle cx="999.7" cy="717.3" r="2.75"/><circle cx="1000.4" cy="722.6" r="2.75"/><circle cx="998.8" cy="727.7" r="2.75"/><circle cx="999.6" cy="732.1" r="2.75"/><circle cx="1000.2" cy="735.5" r="2.75"/><circle cx="999.0" cy="737.8" r="2.75"/><circle cx="998.2" cy="740.2" r="2.75"/><circle cx="1000.4" cy="745.0" r="2.75"/><circle cx="998.1" cy="746.7" r="2.75"/><circle cx="998.9" cy="749.8" r="2.75"/><circle cx="998.1" cy="754.3" r="2.75"/><circle cx="1000.2" cy="758.8" r="2.75"/><circle cx="999.5" cy="762.2" r="2.75"/><circle cx="999.7" cy="765.5" r="2.75"/><circle cx="998.6" cy="768.2" r="2.75"/><circle cx="999.4" cy="772.6" r="2.75"/><circle cx="998.2" cy="773.5" r="2.75"/><circle cx="1001.1" cy="622.4" r="2.75"/><circle cx="1001.8" cy="627.4" r="2.75"/><circle cx="1001.6" cy="629.5" r="2.75"/><circle cx="1002.1" cy="632.7" r="2.75"/><circle cx="1001.0" cy="636.7" r="2.75"/><circle cx="1002.3" cy="641.8" r="2.75"/><circle cx="1002.8" cy="645.4" r="2.75"/><circle cx="1002.3" cy="649.8" r="2.75"/><circle cx="1002.9" cy="651.8" r="2.75"/><circle cx="1001.5" cy="658.1" r="2.75"/><circle cx="1002.9" cy="660.9" r="2.75"/><circle cx="1003.4" cy="664.9" r="2.75"/><circle cx="1002.2" cy="671.4" r="2.75"/><circle cx="1002.7" cy="678.5" r="2.75"/><circle cx="1002.9" cy="683.8" r="2.75"/><circle cx="1001.5" cy="693.4" r="2.75"/><circle cx="1002.0" cy="697.1" r="2.75"/><circle cx="1001.2" cy="698.6" r="2.75"/><circle cx="1001.2" cy="703.7" r="2.75"/><circle cx="1003.1" cy="705.9" r="2.75"/><circle cx="1001.1" cy="710.2" r="2.75"/><circle cx="1001.9" cy="713.0" r="2.75"/><circle cx="1000.9" cy="713.6" r="2.75"/><circle cx="1001.9" cy="717.9" r="2.75"/><circle cx="1002.1" cy="720.6" r="2.75"/><circle cx="1001.4" cy="724.3" r="2.75"/><circle cx="1003.8" cy="726.0" r="2.75"/><circle cx="1003.8" cy="732.4" r="2.75"/><circle cx="1002.3" cy="736.2" r="2.75"/><circle cx="1003.3" cy="738.2" r="2.75"/><circle cx="1003.8" cy="742.4" r="2.75"/><circle cx="1001.4" cy="745.5" r="2.75"/><circle cx="1001.2" cy="748.0" r="2.75"/><circle cx="1002.3" cy="750.8" r="2.75"/><circle cx="1002.1" cy="765.4" r="2.75"/><circle cx="1000.9" cy="769.2" r="2.75"/><circle cx="1002.1" cy="771.9" r="2.75"/><circle cx="1002.6" cy="773.1" r="2.75"/><circle cx="1004.2" cy="620.4" r="2.75"/><circle cx="1006.7" cy="623.1" r="2.75"/><circle cx="1004.2" cy="623.7" r="2.75"/><circle cx="1006.6" cy="629.3" r="2.75"/><circle cx="1006.1" cy="634.7" r="2.75"/><circle cx="1006.2" cy="636.0" r="2.75"/><circle cx="1005.0" cy="639.8" r="2.75"/><circle cx="1006.5" cy="643.5" r="2.75"/><circle cx="1006.2" cy="647.1" r="2.75"/><circle cx="1004.6" cy="650.2" r="2.75"/><circle cx="1004.1" cy="653.3" r="2.75"/><circle cx="1004.2" cy="654.9" r="2.75"/><circle cx="1005.5" cy="658.2" r="2.75"/><circle cx="1004.6" cy="665.1" r="2.75"/><circle cx="1004.3" cy="667.3" r="2.75"/><circle cx="1006.6" cy="668.9" r="2.75"/><circle cx="1004.1" cy="673.5" r="2.75"/><circle cx="1004.9" cy="679.0" r="2.75"/><circle cx="1006.4" cy="682.0" r="2.75"/><circle cx="1005.7" cy="684.8" r="2.75"/><circle cx="1005.0" cy="691.1" r="2.75"/><circle cx="1006.5" cy="694.5" r="2.75"/><circle cx="1006.3" cy="696.8" r="2.75"/><circle cx="1004.6" cy="698.8" r="2.75"/><circle cx="1004.5" cy="701.3" r="2.75"/><circle cx="1003.9" cy="705.0" r="2.75"/><circle cx="1004.8" cy="709.3" r="2.75"/><circle cx="1004.9" cy="711.7" r="2.75"/><circle cx="1004.9" cy="715.1" r="2.75"/><circle cx="1004.9" cy="716.9" r="2.75"/><circle cx="1006.4" cy="719.9" r="2.75"/><circle cx="1004.6" cy="728.1" r="2.75"/><circle cx="1006.1" cy="731.0" r="2.75"/><circle cx="1004.1" cy="733.6" r="2.75"/><circle cx="1005.2" cy="742.9" r="2.75"/><circle cx="1004.9" cy="746.1" r="2.75"/><circle cx="1004.7" cy="754.9" r="2.75"/><circle cx="1006.0" cy="755.1" r="2.75"/><circle cx="1004.4" cy="760.4" r="2.75"/><circle cx="1004.3" cy="762.1" r="2.75"/><circle cx="1006.7" cy="769.7" r="2.75"/><circle cx="1005.1" cy="775.2" r="2.75"/><circle cx="1009.6" cy="619.8" r="2.75"/><circle cx="1009.0" cy="622.9" r="2.75"/><circle cx="1009.1" cy="624.4" r="2.75"/><circle cx="1009.7" cy="627.3" r="2.75"/><circle cx="1008.7" cy="633.4" r="2.75"/><circle cx="1007.8" cy="635.9" r="2.75"/><circle cx="1008.2" cy="641.1" r="2.75"/><circle cx="1008.3" cy="643.7" r="2.75"/><circle cx="1009.0" cy="651.6" r="2.75"/><circle cx="1007.5" cy="653.8" r="2.75"/><circle cx="1009.6" cy="656.5" r="2.75"/><circle cx="1007.9" cy="660.8" r="2.75"/><circle cx="1009.3" cy="663.0" r="2.75"/><circle cx="1007.7" cy="665.4" r="2.75"/><circle cx="1008.4" cy="669.6" r="2.75"/><circle cx="1006.9" cy="673.7" r="2.75"/><circle cx="1008.6" cy="675.9" r="2.75"/><circle cx="1009.8" cy="680.2" r="2.75"/><circle cx="1008.5" cy="680.4" r="2.75"/><circle cx="1008.0" cy="686.1" r="2.75"/><circle cx="1007.8" cy="688.2" r="2.75"/><circle cx="1007.0" cy="694.9" r="2.75"/><circle cx="1006.9" cy="695.9" r="2.75"/><circle cx="1007.3" cy="701.4" r="2.75"/><circle cx="1008.2" cy="706.9" r="2.75"/><circle cx="1008.4" cy="709.3" r="2.75"/><circle cx="1008.6" cy="710.9" r="2.75"/><circle cx="1008.4" cy="717.4" r="2.75"/><circle cx="1008.1" cy="721.0" r="2.75"/><circle cx="1008.3" cy="727.7" r="2.75"/><circle cx="1008.2" cy="730.6" r="2.75"/><circle cx="1008.8" cy="735.9" r="2.75"/><circle cx="1007.5" cy="738.8" r="2.75"/><circle cx="1007.8" cy="744.0" r="2.75"/><circle cx="1008.6" cy="748.5" r="2.75"/><circle cx="1008.8" cy="751.7" r="2.75"/><circle cx="1008.6" cy="753.1" r="2.75"/><circle cx="1009.0" cy="761.1" r="2.75"/><circle cx="1007.9" cy="761.6" r="2.75"/><circle cx="1009.5" cy="769.9" r="2.75"/><circle cx="1008.4" cy="770.6" r="2.75"/><circle cx="1011.3" cy="620.3" r="2.75"/><circle cx="1010.1" cy="626.1" r="2.75"/><circle cx="1011.1" cy="627.0" r="2.75"/><circle cx="1012.1" cy="630.9" r="2.75"/><circle cx="1011.5" cy="633.3" r="2.75"/><circle cx="1011.4" cy="640.4" r="2.75"/><circle cx="1012.4" cy="643.7" r="2.75"/><circle cx="1011.5" cy="644.4" r="2.75"/><circle cx="1011.5" cy="649.7" r="2.75"/><circle cx="1011.5" cy="653.3" r="2.75"/><circle cx="1009.8" cy="655.5" r="2.75"/><circle cx="1010.0" cy="658.2" r="2.75"/><circle cx="1011.8" cy="660.6" r="2.75"/><circle cx="1012.8" cy="663.1" r="2.75"/><circle cx="1012.3" cy="666.0" r="2.75"/><circle cx="1011.2" cy="668.4" r="2.75"/><circle cx="1009.9" cy="674.1" r="2.75"/><circle cx="1010.7" cy="676.9" r="2.75"/><circle cx="1012.3" cy="677.8" r="2.75"/><circle cx="1010.2" cy="681.7" r="2.75"/><circle cx="1010.7" cy="687.7" r="2.75"/><circle cx="1012.1" cy="692.2" r="2.75"/><circle cx="1009.9" cy="697.0" r="2.75"/><circle cx="1010.7" cy="707.2" r="2.75"/><circle cx="1009.9" cy="709.2" r="2.75"/><circle cx="1011.7" cy="721.9" r="2.75"/><circle cx="1012.1" cy="724.3" r="2.75"/><circle cx="1011.4" cy="727.8" r="2.75"/><circle cx="1010.5" cy="736.2" r="2.75"/><circle cx="1012.1" cy="740.0" r="2.75"/><circle cx="1012.7" cy="743.7" r="2.75"/><circle cx="1012.7" cy="747.8" r="2.75"/><circle cx="1010.0" cy="750.0" r="2.75"/><circle cx="1011.4" cy="752.5" r="2.75"/><circle cx="1011.1" cy="756.0" r="2.75"/><circle cx="1011.0" cy="759.0" r="2.75"/><circle cx="1010.8" cy="761.5" r="2.75"/><circle cx="1010.3" cy="766.8" r="2.75"/><circle cx="1010.3" cy="767.2" r="2.75"/><circle cx="1010.2" cy="773.6" r="2.75"/><circle cx="1015.1" cy="626.2" r="2.75"/><circle cx="1013.4" cy="630.6" r="2.75"/><circle cx="1015.5" cy="634.8" r="2.75"/><circle cx="1015.0" cy="637.2" r="2.75"/><circle cx="1015.5" cy="644.4" r="2.75"/><circle cx="1015.6" cy="649.5" r="2.75"/><circle cx="1015.0" cy="652.4" r="2.75"/><circle cx="1013.9" cy="653.6" r="2.75"/><circle cx="1014.6" cy="659.0" r="2.75"/><circle cx="1015.1" cy="661.1" r="2.75"/><circle cx="1014.8" cy="664.0" r="2.75"/><circle cx="1014.0" cy="665.6" r="2.75"/><circle cx="1014.2" cy="669.1" r="2.75"/><circle cx="1015.6" cy="672.2" r="2.75"/><circle cx="1014.1" cy="675.3" r="2.75"/><circle cx="1015.3" cy="677.5" r="2.75"/><circle cx="1012.8" cy="680.7" r="2.75"/><circle cx="1013.2" cy="684.4" r="2.75"/><circle cx="1014.1" cy="688.1" r="2.75"/><circle cx="1015.6" cy="692.3" r="2.75"/><circle cx="1012.9" cy="694.9" r="2.75"/><circle cx="1013.2" cy="696.7" r="2.75"/><circle cx="1013.2" cy="700.4" r="2.75"/><circle cx="1014.8" cy="703.8" r="2.75"/><circle cx="1015.1" cy="706.9" r="2.75"/><circle cx="1014.8" cy="709.0" r="2.75"/><circle cx="1014.0" cy="710.9" r="2.75"/><circle cx="1015.5" cy="714.6" r="2.75"/><circle cx="1014.7" cy="718.5" r="2.75"/><circle cx="1015.4" cy="720.2" r="2.75"/><circle cx="1015.0" cy="723.1" r="2.75"/><circle cx="1015.7" cy="726.7" r="2.75"/><circle cx="1014.2" cy="729.8" r="2.75"/><circle cx="1013.3" cy="736.6" r="2.75"/><circle cx="1014.4" cy="740.3" r="2.75"/><circle cx="1013.6" cy="745.2" r="2.75"/><circle cx="1015.2" cy="748.0" r="2.75"/><circle cx="1015.4" cy="749.5" r="2.75"/><circle cx="1013.0" cy="756.6" r="2.75"/><circle cx="1015.5" cy="758.6" r="2.75"/><circle cx="1014.5" cy="763.4" r="2.75"/><circle cx="1014.6" cy="765.7" r="2.75"/><circle cx="1014.3" cy="767.9" r="2.75"/><circle cx="1014.0" cy="772.9" r="2.75"/><circle cx="1013.3" cy="773.2" r="2.75"/><circle cx="1016.1" cy="621.6" r="2.75"/><circle cx="1017.5" cy="626.2" r="2.75"/><circle cx="1017.3" cy="629.7" r="2.75"/><circle cx="1016.2" cy="632.6" r="2.75"/><circle cx="1017.3" cy="638.0" r="2.75"/><circle cx="1016.1" cy="641.4" r="2.75"/><circle cx="1016.4" cy="642.6" r="2.75"/><circle cx="1018.3" cy="650.4" r="2.75"/><circle cx="1016.9" cy="652.7" r="2.75"/><circle cx="1018.3" cy="654.5" r="2.75"/><circle cx="1016.3" cy="658.6" r="2.75"/><circle cx="1017.4" cy="661.4" r="2.75"/><circle cx="1017.7" cy="664.2" r="2.75"/><circle cx="1015.9" cy="667.1" r="2.75"/><circle cx="1018.5" cy="673.5" r="2.75"/><circle cx="1017.8" cy="677.2" r="2.75"/><circle cx="1018.4" cy="680.7" r="2.75"/><circle cx="1016.1" cy="691.3" r="2.75"/><circle cx="1017.4" cy="695.1" r="2.75"/><circle cx="1018.2" cy="695.6" r="2.75"/><circle cx="1016.9" cy="699.4" r="2.75"/><circle cx="1017.9" cy="703.4" r="2.75"/><circle cx="1017.9" cy="706.8" r="2.75"/><circle cx="1016.8" cy="707.4" r="2.75"/><circle cx="1018.4" cy="711.8" r="2.75"/><circle cx="1018.3" cy="715.3" r="2.75"/><circle cx="1016.6" cy="718.5" r="2.75"/><circle cx="1016.1" cy="721.4" r="2.75"/><circle cx="1018.3" cy="724.1" r="2.75"/><circle cx="1016.4" cy="725.9" r="2.75"/><circle cx="1017.0" cy="728.2" r="2.75"/><circle cx="1016.1" cy="733.8" r="2.75"/><circle cx="1017.7" cy="734.7" r="2.75"/><circle cx="1016.2" cy="738.2" r="2.75"/><circle cx="1015.8" cy="741.3" r="2.75"/><circle cx="1016.0" cy="744.2" r="2.75"/><circle cx="1017.4" cy="746.5" r="2.75"/><circle cx="1016.7" cy="749.9" r="2.75"/><circle cx="1016.4" cy="752.7" r="2.75"/><circle cx="1017.3" cy="756.6" r="2.75"/><circle cx="1018.3" cy="760.7" r="2.75"/><circle cx="1015.9" cy="762.6" r="2.75"/><circle cx="1016.1" cy="770.0" r="2.75"/><circle cx="1021.4" cy="626.3" r="2.75"/><circle cx="1019.5" cy="631.7" r="2.75"/><circle cx="1021.4" cy="634.8" r="2.75"/><circle cx="1021.2" cy="637.7" r="2.75"/><circle cx="1018.8" cy="640.3" r="2.75"/><circle cx="1021.8" cy="642.9" r="2.75"/><circle cx="1020.9" cy="650.4" r="2.75"/><circle cx="1021.7" cy="651.1" r="2.75"/><circle cx="1019.2" cy="656.1" r="2.75"/><circle cx="1020.6" cy="656.5" r="2.75"/><circle cx="1020.0" cy="659.8" r="2.75"/><circle cx="1020.5" cy="662.5" r="2.75"/><circle cx="1021.4" cy="666.5" r="2.75"/><circle cx="1021.1" cy="668.5" r="2.75"/><circle cx="1021.4" cy="675.9" r="2.75"/><circle cx="1019.2" cy="684.9" r="2.75"/><circle cx="1019.1" cy="690.0" r="2.75"/><circle cx="1019.3" cy="694.3" r="2.75"/><circle cx="1021.3" cy="701.2" r="2.75"/><circle cx="1019.8" cy="701.5" r="2.75"/><circle cx="1021.5" cy="709.0" r="2.75"/><circle cx="1021.3" cy="715.0" r="2.75"/><circle cx="1019.0" cy="720.8" r="2.75"/><circle cx="1019.0" cy="722.5" r="2.75"/><circle cx="1018.8" cy="728.7" r="2.75"/><circle cx="1019.6" cy="732.9" r="2.75"/><circle cx="1019.3" cy="736.2" r="2.75"/><circle cx="1019.2" cy="741.5" r="2.75"/><circle cx="1021.2" cy="745.6" r="2.75"/><circle cx="1020.7" cy="747.9" r="2.75"/><circle cx="1019.8" cy="754.1" r="2.75"/><circle cx="1019.5" cy="756.0" r="2.75"/><circle cx="1020.1" cy="758.7" r="2.75"/><circle cx="1019.2" cy="762.9" r="2.75"/><circle cx="1018.9" cy="766.6" r="2.75"/><circle cx="1021.5" cy="767.5" r="2.75"/><circle cx="1022.2" cy="623.9" r="2.75"/><circle cx="1022.3" cy="628.0" r="2.75"/><circle cx="1022.0" cy="631.7" r="2.75"/><circle cx="1022.9" cy="637.2" r="2.75"/><circle cx="1024.2" cy="641.8" r="2.75"/><circle cx="1023.0" cy="644.6" r="2.75"/><circle cx="1024.6" cy="650.0" r="2.75"/><circle cx="1022.6" cy="652.8" r="2.75"/><circle cx="1023.0" cy="658.0" r="2.75"/><circle cx="1022.3" cy="667.6" r="2.75"/><circle cx="1023.3" cy="673.6" r="2.75"/><circle cx="1023.6" cy="677.2" r="2.75"/><circle cx="1023.7" cy="680.6" r="2.75"/><circle cx="1022.8" cy="685.6" r="2.75"/><circle cx="1023.9" cy="688.2" r="2.75"/><circle cx="1023.2" cy="690.4" r="2.75"/><circle cx="1022.7" cy="693.1" r="2.75"/><circle cx="1024.0" cy="698.2" r="2.75"/><circle cx="1024.0" cy="704.0" r="2.75"/><circle cx="1024.6" cy="707.1" r="2.75"/><circle cx="1024.6" cy="711.0" r="2.75"/><circle cx="1023.9" cy="714.8" r="2.75"/><circle cx="1022.7" cy="719.1" r="2.75"/><circle cx="1023.6" cy="721.4" r="2.75"/><circle cx="1022.7" cy="726.1" r="2.75"/><circle cx="1022.7" cy="728.3" r="2.75"/><circle cx="1024.0" cy="732.2" r="2.75"/><circle cx="1024.1" cy="739.3" r="2.75"/><circle cx="1023.3" cy="742.7" r="2.75"/><circle cx="1023.4" cy="748.1" r="2.75"/><circle cx="1022.6" cy="750.4" r="2.75"/><circle cx="1023.8" cy="760.5" r="2.75"/><circle cx="1023.1" cy="762.6" r="2.75"/><circle cx="1022.1" cy="764.4" r="2.75"/><circle cx="1027.7" cy="624.9" r="2.75"/><circle cx="1027.4" cy="631.7" r="2.75"/><circle cx="1027.7" cy="632.7" r="2.75"/><circle cx="1025.7" cy="637.0" r="2.75"/><circle cx="1025.8" cy="639.4" r="2.75"/><circle cx="1027.1" cy="642.6" r="2.75"/><circle cx="1026.1" cy="647.2" r="2.75"/><circle cx="1026.6" cy="651.6" r="2.75"/><circle cx="1026.4" cy="657.0" r="2.75"/><circle cx="1027.5" cy="664.2" r="2.75"/><circle cx="1025.5" cy="666.7" r="2.75"/><circle cx="1025.7" cy="669.4" r="2.75"/><circle cx="1025.6" cy="671.9" r="2.75"/><circle cx="1026.1" cy="675.9" r="2.75"/><circle cx="1026.5" cy="677.9" r="2.75"/><circle cx="1027.0" cy="681.6" r="2.75"/><circle cx="1025.0" cy="683.7" r="2.75"/><circle cx="1026.6" cy="686.5" r="2.75"/><circle cx="1027.1" cy="689.7" r="2.75"/><circle cx="1024.8" cy="692.8" r="2.75"/><circle cx="1027.5" cy="697.2" r="2.75"/><circle cx="1027.4" cy="703.9" r="2.75"/><circle cx="1025.1" cy="706.4" r="2.75"/><circle cx="1025.9" cy="707.5" r="2.75"/><circle cx="1027.3" cy="711.3" r="2.75"/><circle cx="1026.6" cy="713.6" r="2.75"/><circle cx="1027.0" cy="717.5" r="2.75"/><circle cx="1024.9" cy="723.6" r="2.75"/><circle cx="1027.2" cy="727.6" r="2.75"/><circle cx="1025.1" cy="733.4" r="2.75"/><circle cx="1026.1" cy="734.7" r="2.75"/><circle cx="1027.1" cy="737.5" r="2.75"/><circle cx="1026.2" cy="741.9" r="2.75"/><circle cx="1026.8" cy="743.8" r="2.75"/><circle cx="1027.5" cy="747.1" r="2.75"/><circle cx="1027.1" cy="750.1" r="2.75"/><circle cx="1025.0" cy="752.7" r="2.75"/><circle cx="1026.2" cy="758.2" r="2.75"/><circle cx="1026.0" cy="763.3" r="2.75"/><circle cx="1029.7" cy="628.6" r="2.75"/><circle cx="1029.6" cy="632.2" r="2.75"/><circle cx="1028.0" cy="638.3" r="2.75"/><circle cx="1029.5" cy="642.0" r="2.75"/><circle cx="1029.3" cy="645.1" r="2.75"/><circle cx="1030.6" cy="649.4" r="2.75"/><circle cx="1030.4" cy="653.1" r="2.75"/><circle cx="1030.4" cy="662.2" r="2.75"/><circle cx="1028.9" cy="665.3" r="2.75"/><circle cx="1028.4" cy="667.9" r="2.75"/><circle cx="1029.8" cy="669.1" r="2.75"/><circle cx="1029.9" cy="673.8" r="2.75"/><circle cx="1028.5" cy="675.5" r="2.75"/><circle cx="1028.2" cy="680.8" r="2.75"/><circle cx="1028.0" cy="685.7" r="2.75"/><circle cx="1029.4" cy="692.9" r="2.75"/><circle cx="1029.6" cy="706.9" r="2.75"/><circle cx="1028.4" cy="713.1" r="2.75"/><circle cx="1028.1" cy="713.3" r="2.75"/><circle cx="1028.5" cy="718.9" r="2.75"/><circle cx="1029.9" cy="720.8" r="2.75"/><circle cx="1029.4" cy="724.2" r="2.75"/><circle cx="1029.4" cy="729.7" r="2.75"/><circle cx="1029.5" cy="731.4" r="2.75"/><circle cx="1030.3" cy="735.4" r="2.75"/><circle cx="1028.8" cy="741.4" r="2.75"/><circle cx="1028.7" cy="744.0" r="2.75"/><circle cx="1029.9" cy="747.9" r="2.75"/><circle cx="1028.8" cy="752.8" r="2.75"/><circle cx="1030.0" cy="756.7" r="2.75"/><circle cx="1032.3" cy="628.3" r="2.75"/><circle cx="1033.5" cy="638.3" r="2.75"/><circle cx="1032.2" cy="640.6" r="2.75"/><circle cx="1033.4" cy="643.4" r="2.75"/><circle cx="1031.8" cy="645.4" r="2.75"/><circle cx="1031.1" cy="648.9" r="2.75"/><circle cx="1032.7" cy="653.0" r="2.75"/><circle cx="1032.0" cy="655.0" r="2.75"/><circle cx="1032.1" cy="664.1" r="2.75"/><circle cx="1031.6" cy="665.8" r="2.75"/><circle cx="1031.3" cy="669.4" r="2.75"/><circle cx="1031.3" cy="673.9" r="2.75"/><circle cx="1032.7" cy="675.5" r="2.75"/><circle cx="1031.1" cy="677.9" r="2.75"/><circle cx="1031.6" cy="693.4" r="2.75"/><circle cx="1031.3" cy="697.3" r="2.75"/><circle cx="1032.9" cy="703.2" r="2.75"/><circle cx="1031.3" cy="706.4" r="2.75"/><circle cx="1030.8" cy="708.2" r="2.75"/><circle cx="1032.8" cy="712.9" r="2.75"/><circle cx="1030.8" cy="714.0" r="2.75"/><circle cx="1033.5" cy="716.9" r="2.75"/><circle cx="1032.2" cy="721.7" r="2.75"/><circle cx="1031.2" cy="727.0" r="2.75"/><circle cx="1033.2" cy="728.4" r="2.75"/><circle cx="1033.2" cy="731.3" r="2.75"/><circle cx="1032.3" cy="735.3" r="2.75"/><circle cx="1033.0" cy="738.7" r="2.75"/><circle cx="1033.0" cy="748.2" r="2.75"/><circle cx="1030.9" cy="754.4" r="2.75"/><circle cx="1034.8" cy="631.7" r="2.75"/><circle cx="1036.5" cy="635.2" r="2.75"/><circle cx="1034.5" cy="635.5" r="2.75"/><circle cx="1036.6" cy="640.3" r="2.75"/><circle cx="1034.9" cy="642.5" r="2.75"/><circle cx="1035.0" cy="647.3" r="2.75"/><circle cx="1035.8" cy="649.1" r="2.75"/><circle cx="1034.3" cy="653.1" r="2.75"/><circle cx="1034.8" cy="653.4" r="2.75"/><circle cx="1035.0" cy="658.8" r="2.75"/><circle cx="1035.9" cy="660.5" r="2.75"/><circle cx="1034.2" cy="664.5" r="2.75"/><circle cx="1035.5" cy="670.8" r="2.75"/><circle cx="1035.7" cy="676.6" r="2.75"/><circle cx="1035.0" cy="679.6" r="2.75"/><circle cx="1034.2" cy="681.1" r="2.75"/><circle cx="1036.6" cy="684.3" r="2.75"/><circle cx="1034.2" cy="688.0" r="2.75"/><circle cx="1034.4" cy="692.8" r="2.75"/><circle cx="1034.7" cy="697.0" r="2.75"/><circle cx="1033.9" cy="699.6" r="2.75"/><circle cx="1035.0" cy="703.2" r="2.75"/><circle cx="1036.7" cy="704.9" r="2.75"/><circle cx="1036.3" cy="710.8" r="2.75"/><circle cx="1035.1" cy="714.4" r="2.75"/><circle cx="1036.2" cy="718.7" r="2.75"/><circle cx="1035.2" cy="726.7" r="2.75"/><circle cx="1036.7" cy="731.2" r="2.75"/><circle cx="1036.6" cy="735.1" r="2.75"/><circle cx="1035.6" cy="739.2" r="2.75"/><circle cx="1035.0" cy="743.7" r="2.75"/><circle cx="1034.3" cy="748.0" r="2.75"/><circle cx="1037.5" cy="634.7" r="2.75"/><circle cx="1037.7" cy="638.1" r="2.75"/><circle cx="1038.4" cy="640.0" r="2.75"/><circle cx="1038.4" cy="646.9" r="2.75"/><circle cx="1037.0" cy="652.9" r="2.75"/><circle cx="1037.3" cy="655.9" r="2.75"/><circle cx="1037.3" cy="657.4" r="2.75"/><circle cx="1038.2" cy="661.7" r="2.75"/><circle cx="1036.9" cy="664.7" r="2.75"/><circle cx="1038.7" cy="666.4" r="2.75"/><circle cx="1037.0" cy="669.9" r="2.75"/><circle cx="1039.6" cy="672.2" r="2.75"/><circle cx="1037.5" cy="678.1" r="2.75"/><circle cx="1039.2" cy="681.4" r="2.75"/><circle cx="1038.6" cy="685.1" r="2.75"/><circle cx="1039.5" cy="687.0" r="2.75"/><circle cx="1038.5" cy="691.9" r="2.75"/><circle cx="1038.3" cy="693.9" r="2.75"/><circle cx="1039.5" cy="698.2" r="2.75"/><circle cx="1037.0" cy="702.9" r="2.75"/><circle cx="1038.0" cy="709.0" r="2.75"/><circle cx="1038.1" cy="712.9" r="2.75"/><circle cx="1038.0" cy="716.2" r="2.75"/><circle cx="1037.5" cy="718.4" r="2.75"/><circle cx="1037.4" cy="724.7" r="2.75"/><circle cx="1039.0" cy="726.7" r="2.75"/><circle cx="1038.9" cy="729.4" r="2.75"/><circle cx="1039.6" cy="736.0" r="2.75"/><circle cx="1038.0" cy="740.2" r="2.75"/><circle cx="1037.5" cy="748.9" r="2.75"/><circle cx="1041.7" cy="635.3" r="2.75"/><circle cx="1040.6" cy="636.1" r="2.75"/><circle cx="1041.5" cy="639.0" r="2.75"/><circle cx="1040.7" cy="647.7" r="2.75"/><circle cx="1042.6" cy="650.4" r="2.75"/><circle cx="1041.7" cy="654.8" r="2.75"/><circle cx="1042.4" cy="658.4" r="2.75"/><circle cx="1042.7" cy="660.0" r="2.75"/><circle cx="1041.4" cy="663.9" r="2.75"/><circle cx="1042.1" cy="666.7" r="2.75"/><circle cx="1039.9" cy="672.9" r="2.75"/><circle cx="1040.2" cy="680.2" r="2.75"/><circle cx="1042.4" cy="681.9" r="2.75"/><circle cx="1040.4" cy="685.2" r="2.75"/><circle cx="1040.9" cy="689.1" r="2.75"/><circle cx="1042.1" cy="690.9" r="2.75"/><circle cx="1039.8" cy="692.9" r="2.75"/><circle cx="1042.6" cy="697.6" r="2.75"/><circle cx="1041.3" cy="700.4" r="2.75"/><circle cx="1042.4" cy="701.8" r="2.75"/><circle cx="1040.7" cy="704.8" r="2.75"/><circle cx="1040.5" cy="710.9" r="2.75"/><circle cx="1040.3" cy="715.2" r="2.75"/><circle cx="1040.7" cy="716.7" r="2.75"/><circle cx="1040.2" cy="721.8" r="2.75"/><circle cx="1039.8" cy="722.7" r="2.75"/><circle cx="1042.1" cy="727.6" r="2.75"/><circle cx="1041.6" cy="732.4" r="2.75"/><circle cx="1040.8" cy="735.1" r="2.75"/><circle cx="1042.2" cy="738.0" r="2.75"/><circle cx="1040.7" cy="745.3" r="2.75"/><circle cx="1045.1" cy="632.8" r="2.75"/><circle cx="1044.9" cy="637.0" r="2.75"/><circle cx="1044.9" cy="641.2" r="2.75"/><circle cx="1045.0" cy="642.4" r="2.75"/><circle cx="1045.2" cy="646.1" r="2.75"/><circle cx="1043.4" cy="650.0" r="2.75"/><circle cx="1042.9" cy="653.4" r="2.75"/><circle cx="1044.5" cy="654.6" r="2.75"/><circle cx="1043.6" cy="662.9" r="2.75"/><circle cx="1043.5" cy="666.1" r="2.75"/><circle cx="1043.4" cy="670.7" r="2.75"/><circle cx="1044.9" cy="673.9" r="2.75"/><circle cx="1043.6" cy="678.8" r="2.75"/><circle cx="1043.5" cy="682.1" r="2.75"/><circle cx="1045.5" cy="692.6" r="2.75"/><circle cx="1045.0" cy="701.6" r="2.75"/><circle cx="1043.2" cy="707.0" r="2.75"/><circle cx="1044.6" cy="707.8" r="2.75"/><circle cx="1043.6" cy="716.4" r="2.75"/><circle cx="1042.9" cy="721.5" r="2.75"/><circle cx="1045.3" cy="722.9" r="2.75"/><circle cx="1044.7" cy="731.0" r="2.75"/><circle cx="1044.9" cy="733.5" r="2.75"/><circle cx="1043.5" cy="739.9" r="2.75"/><circle cx="1043.4" cy="742.8" r="2.75"/><circle cx="1046.2" cy="633.6" r="2.75"/><circle cx="1048.6" cy="638.2" r="2.75"/><circle cx="1047.1" cy="638.9" r="2.75"/><circle cx="1046.7" cy="650.3" r="2.75"/><circle cx="1046.1" cy="651.9" r="2.75"/><circle cx="1048.2" cy="654.6" r="2.75"/><circle cx="1047.9" cy="657.5" r="2.75"/><circle cx="1047.3" cy="660.0" r="2.75"/><circle cx="1048.6" cy="664.4" r="2.75"/><circle cx="1047.5" cy="667.5" r="2.75"/><circle cx="1048.0" cy="671.2" r="2.75"/><circle cx="1048.1" cy="674.2" r="2.75"/><circle cx="1048.3" cy="676.9" r="2.75"/><circle cx="1047.1" cy="680.1" r="2.75"/><circle cx="1046.0" cy="683.8" r="2.75"/><circle cx="1046.4" cy="687.9" r="2.75"/><circle cx="1048.6" cy="691.5" r="2.75"/><circle cx="1046.9" cy="692.8" r="2.75"/><circle cx="1046.8" cy="695.6" r="2.75"/><circle cx="1047.7" cy="700.4" r="2.75"/><circle cx="1048.2" cy="705.0" r="2.75"/><circle cx="1047.9" cy="708.1" r="2.75"/><circle cx="1046.1" cy="717.2" r="2.75"/><circle cx="1048.1" cy="721.4" r="2.75"/><circle cx="1045.8" cy="722.6" r="2.75"/><circle cx="1046.4" cy="725.4" r="2.75"/><circle cx="1047.0" cy="730.0" r="2.75"/><circle cx="1047.4" cy="732.3" r="2.75"/><circle cx="1046.0" cy="735.0" r="2.75"/><circle cx="1045.8" cy="739.4" r="2.75"/><circle cx="1048.8" cy="636.3" r="2.75"/><circle cx="1048.9" cy="643.5" r="2.75"/><circle cx="1049.3" cy="647.4" r="2.75"/><circle cx="1051.0" cy="651.7" r="2.75"/><circle cx="1050.5" cy="659.3" r="2.75"/><circle cx="1051.2" cy="662.3" r="2.75"/><circle cx="1051.2" cy="665.5" r="2.75"/><circle cx="1051.6" cy="669.0" r="2.75"/><circle cx="1049.7" cy="673.2" r="2.75"/><circle cx="1051.4" cy="680.1" r="2.75"/><circle cx="1049.3" cy="682.6" r="2.75"/><circle cx="1049.8" cy="690.9" r="2.75"/><circle cx="1049.6" cy="697.4" r="2.75"/><circle cx="1049.7" cy="707.1" r="2.75"/><circle cx="1050.9" cy="707.6" r="2.75"/><circle cx="1050.6" cy="711.2" r="2.75"/><circle cx="1050.1" cy="715.0" r="2.75"/><circle cx="1051.6" cy="717.2" r="2.75"/><circle cx="1051.3" cy="722.0" r="2.75"/><circle cx="1048.9" cy="727.3" r="2.75"/><circle cx="1049.8" cy="729.1" r="2.75"/><circle cx="1052.2" cy="648.5" r="2.75"/><circle cx="1052.9" cy="652.8" r="2.75"/><circle cx="1054.1" cy="655.1" r="2.75"/><circle cx="1054.5" cy="658.6" r="2.75"/><circle cx="1054.0" cy="662.1" r="2.75"/><circle cx="1054.0" cy="670.0" r="2.75"/><circle cx="1052.9" cy="675.6" r="2.75"/><circle cx="1052.9" cy="677.4" r="2.75"/><circle cx="1051.8" cy="680.7" r="2.75"/><circle cx="1053.2" cy="689.9" r="2.75"/><circle cx="1051.9" cy="694.5" r="2.75"/><circle cx="1054.6" cy="697.8" r="2.75"/><circle cx="1051.8" cy="699.4" r="2.75"/><circle cx="1053.4" cy="707.0" r="2.75"/><circle cx="1053.8" cy="709.7" r="2.75"/><circle cx="1053.8" cy="712.8" r="2.75"/><circle cx="1054.5" cy="714.2" r="2.75"/><circle cx="1054.5" cy="719.1" r="2.75"/><circle cx="1054.4" cy="721.0" r="2.75"/><circle cx="1052.7" cy="723.5" r="2.75"/><circle cx="1051.9" cy="727.1" r="2.75"/><circle cx="1052.3" cy="728.9" r="2.75"/><circle cx="1055.5" cy="639.6" r="2.75"/><circle cx="1056.2" cy="643.3" r="2.75"/><circle cx="1055.0" cy="645.1" r="2.75"/><circle cx="1056.9" cy="649.7" r="2.75"/><circle cx="1057.4" cy="652.6" r="2.75"/><circle cx="1055.2" cy="653.7" r="2.75"/><circle cx="1057.5" cy="657.3" r="2.75"/><circle cx="1057.5" cy="662.6" r="2.75"/><circle cx="1054.7" cy="669.4" r="2.75"/><circle cx="1054.9" cy="676.5" r="2.75"/><circle cx="1055.5" cy="681.0" r="2.75"/><circle cx="1055.7" cy="683.9" r="2.75"/><circle cx="1055.8" cy="690.8" r="2.75"/><circle cx="1055.9" cy="697.1" r="2.75"/><circle cx="1057.1" cy="699.4" r="2.75"/><circle cx="1056.0" cy="704.8" r="2.75"/><circle cx="1057.0" cy="708.1" r="2.75"/><circle cx="1055.9" cy="710.4" r="2.75"/><circle cx="1056.7" cy="719.0" r="2.75"/><circle cx="1055.8" cy="719.7" r="2.75"/><circle cx="1054.9" cy="725.3" r="2.75"/><circle cx="1057.7" cy="642.3" r="2.75"/><circle cx="1060.3" cy="645.3" r="2.75"/><circle cx="1059.2" cy="649.7" r="2.75"/><circle cx="1058.5" cy="650.4" r="2.75"/><circle cx="1059.4" cy="655.2" r="2.75"/><circle cx="1060.4" cy="659.2" r="2.75"/><circle cx="1058.4" cy="661.5" r="2.75"/><circle cx="1059.6" cy="663.9" r="2.75"/><circle cx="1059.5" cy="667.2" r="2.75"/><circle cx="1059.9" cy="669.0" r="2.75"/><circle cx="1060.3" cy="671.7" r="2.75"/><circle cx="1059.9" cy="676.9" r="2.75"/><circle cx="1059.0" cy="679.3" r="2.75"/><circle cx="1058.0" cy="682.9" r="2.75"/><circle cx="1060.5" cy="686.3" r="2.75"/><circle cx="1058.0" cy="688.2" r="2.75"/><circle cx="1058.0" cy="691.3" r="2.75"/><circle cx="1057.9" cy="697.5" r="2.75"/><circle cx="1059.8" cy="700.1" r="2.75"/><circle cx="1060.6" cy="703.5" r="2.75"/><circle cx="1060.6" cy="707.0" r="2.75"/><circle cx="1060.2" cy="708.4" r="2.75"/><circle cx="1060.1" cy="710.5" r="2.75"/><circle cx="1059.5" cy="716.3" r="2.75"/><circle cx="1062.2" cy="648.1" r="2.75"/><circle cx="1061.1" cy="650.4" r="2.75"/><circle cx="1062.1" cy="657.8" r="2.75"/><circle cx="1061.9" cy="661.3" r="2.75"/><circle cx="1062.7" cy="665.3" r="2.75"/><circle cx="1063.5" cy="671.0" r="2.75"/><circle cx="1061.8" cy="672.2" r="2.75"/><circle cx="1062.3" cy="679.2" r="2.75"/><circle cx="1063.6" cy="681.4" r="2.75"/><circle cx="1061.2" cy="689.0" r="2.75"/><circle cx="1062.1" cy="690.5" r="2.75"/><circle cx="1063.2" cy="692.5" r="2.75"/><circle cx="1062.3" cy="699.5" r="2.75"/><circle cx="1061.5" cy="706.5" r="2.75"/><circle cx="1060.9" cy="707.7" r="2.75"/><circle cx="1060.8" cy="712.5" r="2.75"/><circle cx="1064.8" cy="657.3" r="2.75"/><circle cx="1064.0" cy="659.8" r="2.75"/><circle cx="1066.2" cy="665.8" r="2.75"/><circle cx="1064.6" cy="670.7" r="2.75"/><circle cx="1064.4" cy="672.6" r="2.75"/><circle cx="1066.4" cy="678.4" r="2.75"/><circle cx="1066.2" cy="681.6" r="2.75"/><circle cx="1065.3" cy="687.6" r="2.75"/><circle cx="1065.8" cy="689.9" r="2.75"/><circle cx="1066.0" cy="693.8" r="2.75"/><circle cx="1065.4" cy="696.9" r="2.75"/><circle cx="1066.8" cy="679.6" r="2.75"/><circle cx="1067.0" cy="695.7" r="2.75"/><circle cx="914.5" cy="767.8" r="2.75"/><circle cx="916.2" cy="760.5" r="2.75"/><circle cx="917.6" cy="763.7" r="2.75"/><circle cx="917.0" cy="767.5" r="2.75"/><circle cx="915.7" cy="778.3" r="2.75"/><circle cx="921.4" cy="764.3" r="2.75"/><circle cx="918.8" cy="767.2" r="2.75"/><circle cx="919.5" cy="775.6" r="2.75"/><circle cx="920.5" cy="780.1" r="2.75"/><circle cx="919.3" cy="782.0" r="2.75"/><circle cx="924.8" cy="763.0" r="2.75"/><circle cx="922.5" cy="763.6" r="2.75"/><circle cx="923.1" cy="767.3" r="2.75"/><circle cx="922.6" cy="770.7" r="2.75"/><circle cx="923.5" cy="774.1" r="2.75"/><circle cx="922.6" cy="782.6" r="2.75"/><circle cx="927.8" cy="747.1" r="2.75"/><circle cx="927.5" cy="753.2" r="2.75"/><circle cx="926.3" cy="760.0" r="2.75"/><circle cx="927.3" cy="763.7" r="2.75"/><circle cx="927.7" cy="777.1" r="2.75"/><circle cx="927.9" cy="778.8" r="2.75"/><circle cx="931.7" cy="735.0" r="2.75"/><circle cx="930.2" cy="748.7" r="2.75"/><circle cx="931.1" cy="752.7" r="2.75"/><circle cx="930.0" cy="754.7" r="2.75"/><circle cx="930.4" cy="759.0" r="2.75"/><circle cx="931.7" cy="764.6" r="2.75"/><circle cx="931.2" cy="780.1" r="2.75"/><circle cx="935.2" cy="728.1" r="2.75"/><circle cx="933.4" cy="732.4" r="2.75"/><circle cx="933.4" cy="735.4" r="2.75"/><circle cx="934.8" cy="739.3" r="2.75"/><circle cx="933.2" cy="746.0" r="2.75"/><circle cx="934.4" cy="747.4" r="2.75"/><circle cx="933.7" cy="753.7" r="2.75"/><circle cx="932.1" cy="756.7" r="2.75"/><circle cx="932.8" cy="761.9" r="2.75"/><circle cx="933.3" cy="764.5" r="2.75"/><circle cx="935.1" cy="771.4" r="2.75"/><circle cx="933.4" cy="775.5" r="2.75"/><circle cx="932.9" cy="777.9" r="2.75"/><circle cx="934.8" cy="783.1" r="2.75"/><circle cx="937.9" cy="718.9" r="2.75"/><circle cx="938.0" cy="724.5" r="2.75"/><circle cx="938.0" cy="732.8" r="2.75"/><circle cx="938.7" cy="736.3" r="2.75"/><circle cx="935.8" cy="742.0" r="2.75"/><circle cx="938.2" cy="744.2" r="2.75"/><circle cx="938.2" cy="748.3" r="2.75"/><circle cx="938.2" cy="751.8" r="2.75"/><circle cx="937.1" cy="755.1" r="2.75"/><circle cx="937.5" cy="757.4" r="2.75"/><circle cx="935.6" cy="761.0" r="2.75"/><circle cx="937.5" cy="763.6" r="2.75"/><circle cx="938.7" cy="767.8" r="2.75"/><circle cx="937.8" cy="772.2" r="2.75"/><circle cx="935.8" cy="776.4" r="2.75"/><circle cx="937.6" cy="780.5" r="2.75"/><circle cx="938.9" cy="782.3" r="2.75"/><circle cx="941.6" cy="716.8" r="2.75"/><circle cx="939.1" cy="722.9" r="2.75"/><circle cx="941.3" cy="729.3" r="2.75"/><circle cx="941.6" cy="733.2" r="2.75"/><circle cx="940.4" cy="736.2" r="2.75"/><circle cx="941.6" cy="742.1" r="2.75"/><circle cx="941.2" cy="745.5" r="2.75"/><circle cx="942.3" cy="749.3" r="2.75"/><circle cx="939.3" cy="751.5" r="2.75"/><circle cx="940.8" cy="759.3" r="2.75"/><circle cx="939.9" cy="772.9" r="2.75"/><circle cx="939.4" cy="773.8" r="2.75"/><circle cx="940.1" cy="777.4" r="2.75"/><circle cx="940.6" cy="780.8" r="2.75"/><circle cx="944.6" cy="711.0" r="2.75"/><circle cx="943.6" cy="716.3" r="2.75"/><circle cx="942.4" cy="721.0" r="2.75"/><circle cx="945.3" cy="729.0" r="2.75"/><circle cx="944.6" cy="729.8" r="2.75"/><circle cx="943.0" cy="738.7" r="2.75"/><circle cx="944.1" cy="739.8" r="2.75"/><circle cx="943.5" cy="750.9" r="2.75"/><circle cx="945.2" cy="774.1" r="2.75"/><circle cx="943.9" cy="783.4" r="2.75"/><circle cx="948.5" cy="707.8" r="2.75"/><circle cx="946.7" cy="710.6" r="2.75"/><circle cx="947.2" cy="720.3" r="2.75"/><circle cx="946.9" cy="724.1" r="2.75"/><circle cx="946.6" cy="727.9" r="2.75"/><circle cx="946.8" cy="734.5" r="2.75"/><circle cx="947.0" cy="737.0" r="2.75"/><circle cx="948.6" cy="741.9" r="2.75"/><circle cx="947.2" cy="743.3" r="2.75"/><circle cx="946.1" cy="749.6" r="2.75"/><circle cx="946.7" cy="753.9" r="2.75"/><circle cx="946.8" cy="759.7" r="2.75"/><circle cx="946.2" cy="766.9" r="2.75"/><circle cx="947.4" cy="770.8" r="2.75"/><circle cx="948.5" cy="774.7" r="2.75"/><circle cx="948.8" cy="780.0" r="2.75"/><circle cx="948.8" cy="782.4" r="2.75"/><circle cx="949.4" cy="706.9" r="2.75"/><circle cx="949.5" cy="710.5" r="2.75"/><circle cx="951.0" cy="713.8" r="2.75"/><circle cx="951.8" cy="716.8" r="2.75"/><circle cx="952.1" cy="719.7" r="2.75"/><circle cx="952.1" cy="722.3" r="2.75"/><circle cx="949.3" cy="731.7" r="2.75"/><circle cx="949.9" cy="741.9" r="2.75"/><circle cx="950.1" cy="743.2" r="2.75"/><circle cx="949.9" cy="752.8" r="2.75"/><circle cx="951.0" cy="759.8" r="2.75"/><circle cx="949.4" cy="774.4" r="2.75"/><circle cx="952.8" cy="726.8" r="2.75"/><circle cx="952.7" cy="730.8" r="2.75"/><circle cx="953.1" cy="735.9" r="2.75"/><circle cx="953.4" cy="738.4" r="2.75"/><circle cx="955.8" cy="745.1" r="2.75"/><circle cx="954.4" cy="747.3" r="2.75"/><circle cx="955.9" cy="765.2" r="2.75"/><circle cx="954.0" cy="775.0" r="2.75"/><circle cx="953.9" cy="778.1" r="2.75"/><circle cx="956.6" cy="748.1" r="2.75"/><circle cx="957.8" cy="752.7" r="2.75"/><circle cx="958.1" cy="754.5" r="2.75"/><circle cx="957.0" cy="759.1" r="2.75"/><circle cx="957.7" cy="761.8" r="2.75"/><circle cx="958.8" cy="768.7" r="2.75"/><circle cx="957.7" cy="772.2" r="2.75"/><circle cx="962.4" cy="763.0" r="2.75"/><circle cx="962.1" cy="774.3" r="2.75"/><circle cx="963.5" cy="764.7" r="2.75"/><circle cx="966.3" cy="776.1" r="2.75"/><circle cx="964.0" cy="779.8" r="2.75"/><circle cx="913.1" cy="740.2" r="2.75"/><circle cx="917.8" cy="724.5" r="2.75"/><circle cx="919.9" cy="734.9" r="2.75"/><circle cx="914.5" cy="748.0" r="2.75"/><circle cx="917.6" cy="750.9" r="2.75"/><circle cx="916.8" cy="757.2" r="2.75"/><circle cx="926.0" cy="704.9" r="2.75"/><circle cx="924.0" cy="716.2" r="2.75"/><circle cx="921.4" cy="728.6" r="2.75"/><circle cx="923.5" cy="732.2" r="2.75"/><circle cx="920.5" cy="738.7" r="2.75"/><circle cx="931.9" cy="695.2" r="2.75"/><circle cx="930.5" cy="703.1" r="2.75"/><circle cx="931.8" cy="718.4" r="2.75"/><circle cx="935.9" cy="672.8" r="2.75"/><circle cx="936.4" cy="705.4" r="2.75"/><circle cx="936.6" cy="715.3" r="2.75"/><circle cx="935.8" cy="720.2" r="2.75"/><circle cx="941.1" cy="663.9" r="2.75"/><circle cx="938.7" cy="679.3" r="2.75"/><circle cx="939.2" cy="684.1" r="2.75"/><circle cx="938.4" cy="690.0" r="2.75"/><circle cx="943.7" cy="696.8" r="2.75"/><circle cx="944.3" cy="704.3" r="2.75"/><circle cx="946.5" cy="650.0" r="2.75"/><circle cx="948.1" cy="657.5" r="2.75"/><circle cx="947.1" cy="658.5" r="2.75"/><circle cx="949.6" cy="667.4" r="2.75"/><circle cx="947.8" cy="681.1" r="2.75"/><circle cx="945.6" cy="684.0" r="2.75"/><circle cx="946.2" cy="688.8" r="2.75"/><circle cx="948.8" cy="702.1" r="2.75"/><circle cx="946.9" cy="706.8" r="2.75"/><circle cx="955.8" cy="644.7" r="2.75"/><circle cx="953.5" cy="648.1" r="2.75"/><circle cx="955.2" cy="657.9" r="2.75"/><circle cx="953.7" cy="663.5" r="2.75"/><circle cx="955.6" cy="665.5" r="2.75"/><circle cx="952.1" cy="672.2" r="2.75"/><circle cx="952.3" cy="694.4" r="2.75"/><circle cx="957.0" cy="636.1" r="2.75"/><circle cx="957.6" cy="648.4" r="2.75"/><circle cx="957.9" cy="653.4" r="2.75"/><circle cx="958.1" cy="659.8" r="2.75"/><circle cx="897.2" cy="701.9" r="2.75"/><circle cx="905.8" cy="710.3" r="2.75"/><circle cx="906.5" cy="713.1" r="2.75"/><circle cx="906.4" cy="718.8" r="2.75"/><circle cx="906.8" cy="709.1" r="2.75"/><circle cx="910.6" cy="704.4" r="2.75"/><circle cx="913.9" cy="708.4" r="2.75"/><circle cx="920.8" cy="704.7" r="2.75"/><circle cx="918.7" cy="709.7" r="2.75"/><circle cx="917.6" cy="713.8" r="2.75"/><circle cx="923.1" cy="703.6" r="2.75"/><circle cx="921.2" cy="712.4" r="2.75"/><circle cx="925.1" cy="698.1" r="2.75"/><circle cx="925.5" cy="706.9" r="2.75"/><circle cx="928.7" cy="704.6" r="2.75"/><circle cx="290.2" cy="826.0" r="2.75"/><circle cx="290.2" cy="828.4" r="2.75"/><circle cx="291.1" cy="835.1" r="2.75"/><circle cx="294.6" cy="817.3" r="2.75"/><circle cx="294.5" cy="825.5" r="2.75"/><circle cx="293.2" cy="831.5" r="2.75"/><circle cx="295.1" cy="837.3" r="2.75"/><circle cx="293.4" cy="842.2" r="2.75"/><circle cx="293.5" cy="844.9" r="2.75"/><circle cx="297.3" cy="813.8" r="2.75"/><circle cx="298.8" cy="822.3" r="2.75"/><circle cx="298.7" cy="825.0" r="2.75"/><circle cx="299.3" cy="835.3" r="2.75"/><circle cx="299.0" cy="842.2" r="2.75"/><circle cx="297.4" cy="845.1" r="2.75"/><circle cx="297.4" cy="850.2" r="2.75"/><circle cx="299.8" cy="814.7" r="2.75"/><circle cx="300.9" cy="820.0" r="2.75"/><circle cx="300.4" cy="820.9" r="2.75"/><circle cx="299.7" cy="824.3" r="2.75"/><circle cx="300.7" cy="831.4" r="2.75"/><circle cx="300.0" cy="837.8" r="2.75"/><circle cx="300.9" cy="839.2" r="2.75"/><circle cx="303.3" cy="852.0" r="2.75"/><circle cx="306.5" cy="803.0" r="2.75"/><circle cx="305.5" cy="815.0" r="2.75"/><circle cx="307.1" cy="822.0" r="2.75"/><circle cx="306.3" cy="829.2" r="2.75"/><circle cx="304.7" cy="836.4" r="2.75"/><circle cx="307.2" cy="842.8" r="2.75"/><circle cx="306.2" cy="844.9" r="2.75"/><circle cx="305.2" cy="851.2" r="2.75"/><circle cx="308.5" cy="786.8" r="2.75"/><circle cx="309.2" cy="792.8" r="2.75"/><circle cx="308.2" cy="795.0" r="2.75"/><circle cx="308.0" cy="798.4" r="2.75"/><circle cx="310.1" cy="805.4" r="2.75"/><circle cx="310.4" cy="813.4" r="2.75"/><circle cx="308.8" cy="817.8" r="2.75"/><circle cx="310.8" cy="834.2" r="2.75"/><circle cx="308.6" cy="840.6" r="2.75"/><circle cx="310.7" cy="844.4" r="2.75"/><circle cx="313.4" cy="770.5" r="2.75"/><circle cx="311.9" cy="773.8" r="2.75"/><circle cx="313.0" cy="784.9" r="2.75"/><circle cx="312.1" cy="814.5" r="2.75"/><circle cx="313.0" cy="821.5" r="2.75"/><circle cx="311.8" cy="833.7" r="2.75"/><circle cx="312.1" cy="842.5" r="2.75"/><circle cx="313.4" cy="844.8" r="2.75"/><circle cx="311.3" cy="849.8" r="2.75"/><circle cx="311.2" cy="859.2" r="2.75"/><circle cx="317.6" cy="756.8" r="2.75"/><circle cx="315.3" cy="760.6" r="2.75"/><circle cx="315.9" cy="765.1" r="2.75"/><circle cx="316.2" cy="775.1" r="2.75"/><circle cx="317.3" cy="780.4" r="2.75"/><circle cx="317.2" cy="786.2" r="2.75"/><circle cx="316.7" cy="787.6" r="2.75"/><circle cx="316.3" cy="792.7" r="2.75"/><circle cx="315.9" cy="794.3" r="2.75"/><circle cx="317.2" cy="800.8" r="2.75"/><circle cx="317.5" cy="824.0" r="2.75"/><circle cx="315.3" cy="830.9" r="2.75"/><circle cx="317.2" cy="837.9" r="2.75"/><circle cx="315.1" cy="845.1" r="2.75"/><circle cx="317.8" cy="847.6" r="2.75"/><circle cx="315.5" cy="857.0" r="2.75"/><circle cx="316.9" cy="859.9" r="2.75"/><circle cx="320.9" cy="747.5" r="2.75"/><circle cx="319.5" cy="759.3" r="2.75"/><circle cx="320.1" cy="776.0" r="2.75"/><circle cx="320.4" cy="781.4" r="2.75"/><circle cx="319.1" cy="784.9" r="2.75"/><circle cx="320.4" cy="791.8" r="2.75"/><circle cx="322.1" cy="795.3" r="2.75"/><circle cx="322.1" cy="803.2" r="2.75"/><circle cx="320.5" cy="807.5" r="2.75"/><circle cx="321.0" cy="820.4" r="2.75"/><circle cx="321.8" cy="831.7" r="2.75"/><circle cx="318.7" cy="837.1" r="2.75"/><circle cx="320.0" cy="839.7" r="2.75"/><circle cx="319.6" cy="843.7" r="2.75"/><circle cx="318.8" cy="849.8" r="2.75"/><circle cx="322.1" cy="852.2" r="2.75"/><circle cx="319.7" cy="856.9" r="2.75"/><circle cx="323.6" cy="736.8" r="2.75"/><circle cx="325.0" cy="738.1" r="2.75"/><circle cx="325.0" cy="744.8" r="2.75"/><circle cx="322.5" cy="757.0" r="2.75"/><circle cx="324.5" cy="762.3" r="2.75"/><circle cx="323.0" cy="765.2" r="2.75"/><circle cx="322.8" cy="775.1" r="2.75"/><circle cx="322.7" cy="777.1" r="2.75"/><circle cx="325.9" cy="780.9" r="2.75"/><circle cx="323.6" cy="796.1" r="2.75"/><circle cx="322.6" cy="800.5" r="2.75"/><circle cx="324.0" cy="802.7" r="2.75"/><circle cx="324.3" cy="807.0" r="2.75"/><circle cx="323.0" cy="814.1" r="2.75"/><circle cx="323.7" cy="834.6" r="2.75"/><circle cx="322.7" cy="842.7" r="2.75"/><circle cx="324.4" cy="850.8" r="2.75"/><circle cx="325.9" cy="858.3" r="2.75"/><circle cx="329.4" cy="730.9" r="2.75"/><circle cx="329.3" cy="737.1" r="2.75"/><circle cx="327.3" cy="741.3" r="2.75"/><circle cx="326.6" cy="743.8" r="2.75"/><circle cx="326.3" cy="746.7" r="2.75"/><circle cx="327.3" cy="755.2" r="2.75"/><circle cx="328.4" cy="760.5" r="2.75"/><circle cx="329.4" cy="775.1" r="2.75"/><circle cx="327.5" cy="776.0" r="2.75"/><circle cx="326.1" cy="806.7" r="2.75"/><circle cx="326.6" cy="811.1" r="2.75"/><circle cx="326.8" cy="819.4" r="2.75"/><circle cx="327.1" cy="820.9" r="2.75"/><circle cx="327.4" cy="835.8" r="2.75"/><circle cx="327.5" cy="846.3" r="2.75"/><circle cx="327.4" cy="849.9" r="2.75"/><circle cx="326.7" cy="853.5" r="2.75"/><circle cx="331.8" cy="721.6" r="2.75"/><circle cx="331.1" cy="722.7" r="2.75"/><circle cx="331.2" cy="726.7" r="2.75"/><circle cx="331.1" cy="733.3" r="2.75"/><circle cx="330.5" cy="735.5" r="2.75"/><circle cx="331.5" cy="743.6" r="2.75"/><circle cx="333.1" cy="746.2" r="2.75"/><circle cx="331.6" cy="765.8" r="2.75"/><circle cx="332.6" cy="767.9" r="2.75"/><circle cx="330.0" cy="796.1" r="2.75"/><circle cx="330.4" cy="800.5" r="2.75"/><circle cx="333.1" cy="803.8" r="2.75"/><circle cx="330.1" cy="819.7" r="2.75"/><circle cx="332.6" cy="823.7" r="2.75"/><circle cx="330.1" cy="838.6" r="2.75"/><circle cx="332.6" cy="839.3" r="2.75"/><circle cx="333.0" cy="844.0" r="2.75"/><circle cx="332.8" cy="856.1" r="2.75"/><circle cx="332.9" cy="859.2" r="2.75"/><circle cx="334.6" cy="720.5" r="2.75"/><circle cx="337.1" cy="727.6" r="2.75"/><circle cx="336.1" cy="732.5" r="2.75"/><circle cx="334.2" cy="735.4" r="2.75"/><circle cx="336.2" cy="741.2" r="2.75"/><circle cx="335.3" cy="755.5" r="2.75"/><circle cx="334.3" cy="757.9" r="2.75"/><circle cx="333.8" cy="767.4" r="2.75"/><circle cx="334.7" cy="770.6" r="2.75"/><circle cx="335.5" cy="778.5" r="2.75"/><circle cx="335.8" cy="785.5" r="2.75"/><circle cx="335.9" cy="795.5" r="2.75"/><circle cx="335.1" cy="799.8" r="2.75"/><circle cx="334.7" cy="812.8" r="2.75"/><circle cx="336.1" cy="814.7" r="2.75"/><circle cx="335.5" cy="818.3" r="2.75"/><circle cx="335.9" cy="825.1" r="2.75"/><circle cx="335.9" cy="828.7" r="2.75"/><circle cx="336.3" cy="844.0" r="2.75"/><circle cx="336.4" cy="854.1" r="2.75"/><circle cx="334.5" cy="859.9" r="2.75"/><circle cx="340.1" cy="730.9" r="2.75"/><circle cx="340.7" cy="738.1" r="2.75"/><circle cx="337.8" cy="759.7" r="2.75"/><circle cx="340.1" cy="763.4" r="2.75"/><circle cx="338.3" cy="765.1" r="2.75"/><circle cx="339.1" cy="771.5" r="2.75"/><circle cx="340.2" cy="772.1" r="2.75"/><circle cx="338.5" cy="777.2" r="2.75"/><circle cx="338.4" cy="788.5" r="2.75"/><circle cx="337.8" cy="797.9" r="2.75"/><circle cx="337.4" cy="804.7" r="2.75"/><circle cx="339.5" cy="807.3" r="2.75"/><circle cx="339.7" cy="811.3" r="2.75"/><circle cx="337.9" cy="815.8" r="2.75"/><circle cx="339.7" cy="824.2" r="2.75"/><circle cx="337.5" cy="845.4" r="2.75"/><circle cx="338.3" cy="847.0" r="2.75"/><circle cx="338.9" cy="854.3" r="2.75"/><circle cx="337.8" cy="861.0" r="2.75"/><circle cx="342.9" cy="717.5" r="2.75"/><circle cx="343.6" cy="728.6" r="2.75"/><circle cx="342.6" cy="731.7" r="2.75"/><circle cx="342.1" cy="736.5" r="2.75"/><circle cx="342.5" cy="738.1" r="2.75"/><circle cx="341.4" cy="750.6" r="2.75"/><circle cx="342.7" cy="761.6" r="2.75"/><circle cx="343.1" cy="768.2" r="2.75"/><circle cx="343.6" cy="773.5" r="2.75"/><circle cx="343.9" cy="776.4" r="2.75"/><circle cx="344.0" cy="779.8" r="2.75"/><circle cx="341.7" cy="783.3" r="2.75"/><circle cx="342.2" cy="787.8" r="2.75"/><circle cx="341.4" cy="791.0" r="2.75"/><circle cx="343.7" cy="794.5" r="2.75"/><circle cx="341.2" cy="798.3" r="2.75"/><circle cx="341.3" cy="801.6" r="2.75"/><circle cx="342.4" cy="806.2" r="2.75"/><circle cx="343.5" cy="812.8" r="2.75"/><circle cx="342.6" cy="813.3" r="2.75"/><circle cx="342.2" cy="817.0" r="2.75"/><circle cx="341.6" cy="827.7" r="2.75"/><circle cx="341.2" cy="828.2" r="2.75"/><circle cx="343.9" cy="833.7" r="2.75"/><circle cx="343.0" cy="840.7" r="2.75"/><circle cx="342.1" cy="849.4" r="2.75"/><circle cx="341.5" cy="858.7" r="2.75"/><circle cx="348.4" cy="718.7" r="2.75"/><circle cx="347.0" cy="724.6" r="2.75"/><circle cx="346.3" cy="731.6" r="2.75"/><circle cx="346.1" cy="740.3" r="2.75"/><circle cx="345.5" cy="743.5" r="2.75"/><circle cx="346.0" cy="752.8" r="2.75"/><circle cx="346.8" cy="762.1" r="2.75"/><circle cx="348.0" cy="769.3" r="2.75"/><circle cx="347.9" cy="775.7" r="2.75"/><circle cx="346.8" cy="779.2" r="2.75"/><circle cx="348.0" cy="787.9" r="2.75"/><circle cx="346.9" cy="793.4" r="2.75"/><circle cx="347.6" cy="800.7" r="2.75"/><circle cx="347.6" cy="809.5" r="2.75"/><circle cx="347.1" cy="824.0" r="2.75"/><circle cx="345.8" cy="834.5" r="2.75"/><circle cx="347.9" cy="835.9" r="2.75"/><circle cx="345.0" cy="852.5" r="2.75"/><circle cx="349.1" cy="719.8" r="2.75"/><circle cx="351.4" cy="727.3" r="2.75"/><circle cx="352.3" cy="737.7" r="2.75"/><circle cx="351.2" cy="742.3" r="2.75"/><circle cx="352.0" cy="763.4" r="2.75"/><circle cx="352.3" cy="768.1" r="2.75"/><circle cx="350.3" cy="779.3" r="2.75"/><circle cx="349.3" cy="791.2" r="2.75"/><circle cx="349.7" cy="796.5" r="2.75"/><circle cx="350.3" cy="802.4" r="2.75"/><circle cx="351.0" cy="807.3" r="2.75"/><circle cx="349.3" cy="814.1" r="2.75"/><circle cx="350.1" cy="820.3" r="2.75"/><circle cx="348.7" cy="830.5" r="2.75"/><circle cx="352.2" cy="837.8" r="2.75"/><circle cx="350.7" cy="840.7" r="2.75"/><circle cx="351.7" cy="843.7" r="2.75"/><circle cx="350.2" cy="846.8" r="2.75"/><circle cx="350.1" cy="853.4" r="2.75"/><circle cx="349.4" cy="855.2" r="2.75"/><circle cx="353.6" cy="719.4" r="2.75"/><circle cx="354.7" cy="741.4" r="2.75"/><circle cx="353.9" cy="748.9" r="2.75"/><circle cx="356.0" cy="754.4" r="2.75"/><circle cx="353.6" cy="756.5" r="2.75"/><circle cx="353.7" cy="774.8" r="2.75"/><circle cx="353.8" cy="778.6" r="2.75"/><circle cx="354.8" cy="779.7" r="2.75"/><circle cx="353.2" cy="788.3" r="2.75"/><circle cx="352.6" cy="800.7" r="2.75"/><circle cx="353.8" cy="804.9" r="2.75"/><circle cx="353.5" cy="814.2" r="2.75"/><circle cx="353.6" cy="819.9" r="2.75"/><circle cx="352.9" cy="822.8" r="2.75"/><circle cx="355.7" cy="833.0" r="2.75"/><circle cx="355.9" cy="839.2" r="2.75"/><circle cx="352.9" cy="846.4" r="2.75"/><circle cx="353.9" cy="847.0" r="2.75"/><circle cx="355.2" cy="853.7" r="2.75"/><circle cx="354.9" cy="855.5" r="2.75"/><circle cx="358.8" cy="723.1" r="2.75"/><circle cx="357.7" cy="729.8" r="2.75"/><circle cx="358.7" cy="734.8" r="2.75"/><circle cx="359.4" cy="738.8" r="2.75"/><circle cx="356.8" cy="743.3" r="2.75"/><circle cx="358.7" cy="747.2" r="2.75"/><circle cx="356.4" cy="756.0" r="2.75"/><circle cx="357.8" cy="760.0" r="2.75"/><circle cx="359.5" cy="763.1" r="2.75"/><circle cx="357.4" cy="765.8" r="2.75"/><circle cx="359.1" cy="770.9" r="2.75"/><circle cx="356.4" cy="781.2" r="2.75"/><circle cx="357.0" cy="785.6" r="2.75"/><circle cx="359.5" cy="796.1" r="2.75"/><circle cx="359.5" cy="799.8" r="2.75"/><circle cx="359.0" cy="806.1" r="2.75"/><circle cx="358.5" cy="813.6" r="2.75"/><circle cx="357.4" cy="817.4" r="2.75"/><circle cx="356.9" cy="824.7" r="2.75"/><circle cx="358.7" cy="834.3" r="2.75"/><circle cx="359.5" cy="836.7" r="2.75"/><circle cx="357.8" cy="844.4" r="2.75"/><circle cx="363.6" cy="726.2" r="2.75"/><circle cx="359.9" cy="727.2" r="2.75"/><circle cx="360.9" cy="734.8" r="2.75"/><circle cx="361.0" cy="741.8" r="2.75"/><circle cx="363.0" cy="745.3" r="2.75"/><circle cx="361.7" cy="750.2" r="2.75"/><circle cx="362.6" cy="758.5" r="2.75"/><circle cx="361.4" cy="765.3" r="2.75"/><circle cx="360.2" cy="786.1" r="2.75"/><circle cx="361.8" cy="786.9" r="2.75"/><circle cx="362.3" cy="795.9" r="2.75"/><circle cx="361.4" cy="801.6" r="2.75"/><circle cx="363.6" cy="809.4" r="2.75"/><circle cx="359.9" cy="816.2" r="2.75"/><circle cx="362.1" cy="830.8" r="2.75"/><circle cx="363.2" cy="848.7" r="2.75"/><circle cx="362.4" cy="854.2" r="2.75"/><circle cx="364.0" cy="719.7" r="2.75"/><circle cx="365.0" cy="733.2" r="2.75"/><circle cx="365.6" cy="735.8" r="2.75"/><circle cx="365.4" cy="739.5" r="2.75"/><circle cx="367.1" cy="751.6" r="2.75"/><circle cx="365.5" cy="759.9" r="2.75"/><circle cx="366.1" cy="760.9" r="2.75"/><circle cx="366.3" cy="768.5" r="2.75"/><circle cx="365.7" cy="772.4" r="2.75"/><circle cx="366.5" cy="775.8" r="2.75"/><circle cx="366.4" cy="792.3" r="2.75"/><circle cx="364.3" cy="799.4" r="2.75"/><circle cx="363.8" cy="801.9" r="2.75"/><circle cx="365.8" cy="809.0" r="2.75"/><circle cx="364.1" cy="812.8" r="2.75"/><circle cx="364.6" cy="825.2" r="2.75"/><circle cx="364.8" cy="837.5" r="2.75"/><circle cx="366.2" cy="844.1" r="2.75"/><circle cx="364.2" cy="850.0" r="2.75"/><circle cx="367.2" cy="856.1" r="2.75"/><circle cx="367.4" cy="722.4" r="2.75"/><circle cx="368.9" cy="731.0" r="2.75"/><circle cx="370.2" cy="740.4" r="2.75"/><circle cx="370.0" cy="755.0" r="2.75"/><circle cx="368.6" cy="758.3" r="2.75"/><circle cx="370.4" cy="766.4" r="2.75"/><circle cx="367.7" cy="768.7" r="2.75"/><circle cx="369.7" cy="776.8" r="2.75"/><circle cx="369.3" cy="780.8" r="2.75"/><circle cx="368.5" cy="795.3" r="2.75"/><circle cx="370.3" cy="799.8" r="2.75"/><circle cx="368.0" cy="806.4" r="2.75"/><circle cx="368.0" cy="812.2" r="2.75"/><circle cx="369.2" cy="815.8" r="2.75"/><circle cx="368.6" cy="816.8" r="2.75"/><circle cx="370.9" cy="823.2" r="2.75"/><circle cx="368.4" cy="827.6" r="2.75"/><circle cx="369.4" cy="840.4" r="2.75"/><circle cx="368.9" cy="845.5" r="2.75"/><circle cx="370.9" cy="853.3" r="2.75"/><circle cx="368.4" cy="857.6" r="2.75"/><circle cx="369.6" cy="858.2" r="2.75"/><circle cx="373.0" cy="729.5" r="2.75"/><circle cx="371.4" cy="736.1" r="2.75"/><circle cx="374.5" cy="741.1" r="2.75"/><circle cx="372.5" cy="744.3" r="2.75"/><circle cx="372.3" cy="760.6" r="2.75"/><circle cx="374.0" cy="774.6" r="2.75"/><circle cx="373.7" cy="795.1" r="2.75"/><circle cx="374.6" cy="800.9" r="2.75"/><circle cx="374.3" cy="808.5" r="2.75"/><circle cx="372.6" cy="810.5" r="2.75"/><circle cx="371.1" cy="813.1" r="2.75"/><circle cx="372.6" cy="819.2" r="2.75"/><circle cx="374.4" cy="825.0" r="2.75"/><circle cx="371.2" cy="830.1" r="2.75"/><circle cx="372.9" cy="841.8" r="2.75"/><circle cx="374.2" cy="843.0" r="2.75"/><circle cx="373.4" cy="847.1" r="2.75"/><circle cx="371.2" cy="857.5" r="2.75"/><circle cx="378.5" cy="741.9" r="2.75"/><circle cx="377.1" cy="746.6" r="2.75"/><circle cx="376.7" cy="750.5" r="2.75"/><circle cx="375.5" cy="753.2" r="2.75"/><circle cx="376.7" cy="761.0" r="2.75"/><circle cx="376.8" cy="770.5" r="2.75"/><circle cx="378.3" cy="772.0" r="2.75"/><circle cx="377.8" cy="778.7" r="2.75"/><circle cx="376.3" cy="788.2" r="2.75"/><circle cx="376.4" cy="794.8" r="2.75"/><circle cx="377.3" cy="801.5" r="2.75"/><circle cx="375.5" cy="801.7" r="2.75"/><circle cx="375.6" cy="808.9" r="2.75"/><circle cx="375.2" cy="815.2" r="2.75"/><circle cx="376.3" cy="817.9" r="2.75"/><circle cx="376.8" cy="822.7" r="2.75"/><circle cx="377.8" cy="824.5" r="2.75"/><circle cx="376.3" cy="840.2" r="2.75"/><circle cx="375.7" cy="851.3" r="2.75"/><circle cx="376.0" cy="857.6" r="2.75"/><circle cx="382.1" cy="729.5" r="2.75"/><circle cx="378.7" cy="731.8" r="2.75"/><circle cx="382.2" cy="747.5" r="2.75"/><circle cx="381.8" cy="749.3" r="2.75"/><circle cx="380.3" cy="755.7" r="2.75"/><circle cx="380.6" cy="759.8" r="2.75"/><circle cx="381.3" cy="766.6" r="2.75"/><circle cx="382.4" cy="771.9" r="2.75"/><circle cx="380.6" cy="783.6" r="2.75"/><circle cx="382.0" cy="797.2" r="2.75"/><circle cx="378.9" cy="798.4" r="2.75"/><circle cx="380.8" cy="807.6" r="2.75"/><circle cx="381.3" cy="809.4" r="2.75"/><circle cx="381.2" cy="814.2" r="2.75"/><circle cx="382.3" cy="818.3" r="2.75"/><circle cx="379.2" cy="829.9" r="2.75"/><circle cx="382.2" cy="837.5" r="2.75"/><circle cx="380.2" cy="839.7" r="2.75"/><circle cx="380.0" cy="844.4" r="2.75"/><circle cx="381.8" cy="847.2" r="2.75"/><circle cx="380.4" cy="852.3" r="2.75"/><circle cx="379.4" cy="855.3" r="2.75"/><circle cx="380.2" cy="859.2" r="2.75"/><circle cx="385.7" cy="728.8" r="2.75"/><circle cx="385.2" cy="730.9" r="2.75"/><circle cx="383.7" cy="735.4" r="2.75"/><circle cx="384.5" cy="739.6" r="2.75"/><circle cx="382.4" cy="741.5" r="2.75"/><circle cx="384.8" cy="748.1" r="2.75"/><circle cx="383.8" cy="756.3" r="2.75"/><circle cx="383.2" cy="764.9" r="2.75"/><circle cx="383.7" cy="785.6" r="2.75"/><circle cx="384.8" cy="796.6" r="2.75"/><circle cx="385.8" cy="802.4" r="2.75"/><circle cx="384.0" cy="809.9" r="2.75"/><circle cx="383.7" cy="814.4" r="2.75"/><circle cx="383.5" cy="818.1" r="2.75"/><circle cx="382.5" cy="823.1" r="2.75"/><circle cx="384.8" cy="825.5" r="2.75"/><circle cx="383.3" cy="828.6" r="2.75"/><circle cx="382.9" cy="832.8" r="2.75"/><circle cx="383.4" cy="837.3" r="2.75"/><circle cx="385.1" cy="842.0" r="2.75"/><circle cx="384.2" cy="843.4" r="2.75"/><circle cx="385.1" cy="847.9" r="2.75"/><circle cx="383.9" cy="851.3" r="2.75"/><circle cx="385.3" cy="860.6" r="2.75"/><circle cx="382.7" cy="861.9" r="2.75"/><circle cx="389.8" cy="737.8" r="2.75"/><circle cx="388.1" cy="743.2" r="2.75"/><circle cx="387.1" cy="746.1" r="2.75"/><circle cx="386.2" cy="767.7" r="2.75"/><circle cx="386.5" cy="772.4" r="2.75"/><circle cx="386.3" cy="776.0" r="2.75"/><circle cx="387.4" cy="787.8" r="2.75"/><circle cx="388.6" cy="792.2" r="2.75"/><circle cx="389.7" cy="795.9" r="2.75"/><circle cx="386.7" cy="800.3" r="2.75"/><circle cx="387.0" cy="805.4" r="2.75"/><circle cx="388.0" cy="812.5" r="2.75"/><circle cx="388.3" cy="815.0" r="2.75"/><circle cx="387.5" cy="818.2" r="2.75"/><circle cx="386.9" cy="828.6" r="2.75"/><circle cx="386.3" cy="833.7" r="2.75"/><circle cx="388.0" cy="837.1" r="2.75"/><circle cx="386.4" cy="843.7" r="2.75"/><circle cx="389.1" cy="849.0" r="2.75"/><circle cx="387.1" cy="861.1" r="2.75"/><circle cx="388.7" cy="862.0" r="2.75"/><circle cx="389.9" cy="745.5" r="2.75"/><circle cx="390.2" cy="767.0" r="2.75"/><circle cx="392.3" cy="768.0" r="2.75"/><circle cx="390.7" cy="783.9" r="2.75"/><circle cx="392.2" cy="790.2" r="2.75"/><circle cx="391.8" cy="791.2" r="2.75"/><circle cx="390.1" cy="799.4" r="2.75"/><circle cx="392.8" cy="804.6" r="2.75"/><circle cx="392.9" cy="812.0" r="2.75"/><circle cx="393.1" cy="819.6" r="2.75"/><circle cx="392.8" cy="822.4" r="2.75"/><circle cx="392.0" cy="829.5" r="2.75"/><circle cx="392.8" cy="837.7" r="2.75"/><circle cx="392.9" cy="839.5" r="2.75"/><circle cx="392.1" cy="845.1" r="2.75"/><circle cx="390.3" cy="847.3" r="2.75"/><circle cx="390.7" cy="853.5" r="2.75"/><circle cx="390.1" cy="856.4" r="2.75"/><circle cx="393.2" cy="859.8" r="2.75"/><circle cx="394.1" cy="771.0" r="2.75"/><circle cx="393.7" cy="773.4" r="2.75"/><circle cx="396.1" cy="782.6" r="2.75"/><circle cx="395.9" cy="785.4" r="2.75"/><circle cx="396.3" cy="786.6" r="2.75"/><circle cx="393.9" cy="797.4" r="2.75"/><circle cx="393.8" cy="798.4" r="2.75"/><circle cx="396.5" cy="808.0" r="2.75"/><circle cx="396.1" cy="812.2" r="2.75"/><circle cx="395.6" cy="815.1" r="2.75"/><circle cx="395.4" cy="820.3" r="2.75"/><circle cx="395.7" cy="820.8" r="2.75"/><circle cx="395.8" cy="825.3" r="2.75"/><circle cx="396.4" cy="830.2" r="2.75"/><circle cx="394.6" cy="840.8" r="2.75"/><circle cx="394.7" cy="849.2" r="2.75"/><circle cx="396.7" cy="858.0" r="2.75"/><circle cx="395.5" cy="861.4" r="2.75"/><circle cx="398.5" cy="778.6" r="2.75"/><circle cx="398.1" cy="785.1" r="2.75"/><circle cx="400.0" cy="787.1" r="2.75"/><circle cx="399.7" cy="799.0" r="2.75"/><circle cx="400.5" cy="808.9" r="2.75"/><circle cx="400.7" cy="811.5" r="2.75"/><circle cx="400.7" cy="816.3" r="2.75"/><circle cx="399.5" cy="819.0" r="2.75"/><circle cx="397.5" cy="827.2" r="2.75"/><circle cx="400.1" cy="830.3" r="2.75"/><circle cx="399.6" cy="846.7" r="2.75"/><circle cx="400.6" cy="851.0" r="2.75"/><circle cx="399.5" cy="858.3" r="2.75"/><circle cx="401.6" cy="774.8" r="2.75"/><circle cx="401.5" cy="802.4" r="2.75"/><circle cx="401.6" cy="807.1" r="2.75"/><circle cx="403.2" cy="812.3" r="2.75"/><circle cx="404.5" cy="813.7" r="2.75"/><circle cx="402.3" cy="822.7" r="2.75"/><circle cx="401.8" cy="827.0" r="2.75"/><circle cx="402.0" cy="834.4" r="2.75"/><circle cx="404.0" cy="837.8" r="2.75"/><circle cx="403.7" cy="843.1" r="2.75"/><circle cx="402.9" cy="856.4" r="2.75"/><circle cx="406.0" cy="808.0" r="2.75"/><circle cx="407.7" cy="819.4" r="2.75"/><circle cx="408.7" cy="822.6" r="2.75"/><circle cx="405.9" cy="837.6" r="2.75"/><circle cx="405.8" cy="847.3" r="2.75"/><circle cx="407.6" cy="850.9" r="2.75"/><circle cx="410.5" cy="807.8" r="2.75"/><circle cx="409.0" cy="819.9" r="2.75"/><circle cx="410.0" cy="826.0" r="2.75"/><circle cx="410.4" cy="829.0" r="2.75"/><circle cx="409.5" cy="833.8" r="2.75"/><circle cx="412.1" cy="842.5" r="2.75"/><circle cx="412.1" cy="846.6" r="2.75"/><circle cx="411.4" cy="847.8" r="2.75"/><circle cx="416.2" cy="818.8" r="2.75"/><circle cx="415.0" cy="820.8" r="2.75"/><circle cx="415.4" cy="838.5" r="2.75"/><circle cx="412.8" cy="840.1" r="2.75"/><circle cx="414.9" cy="845.8" r="2.75"/><circle cx="414.2" cy="847.0" r="2.75"/><circle cx="418.6" cy="817.9" r="2.75"/><circle cx="417.8" cy="822.8" r="2.75"/><circle cx="419.2" cy="824.8" r="2.75"/><circle cx="418.2" cy="831.5" r="2.75"/><circle cx="418.0" cy="854.0" r="2.75"/><circle cx="423.6" cy="817.1" r="2.75"/><circle cx="420.9" cy="827.8" r="2.75"/><circle cx="420.2" cy="828.9" r="2.75"/><circle cx="423.3" cy="833.7" r="2.75"/><circle cx="420.5" cy="841.4" r="2.75"/><circle cx="423.3" cy="854.1" r="2.75"/><circle cx="424.6" cy="819.0" r="2.75"/><circle cx="427.3" cy="827.1" r="2.75"/><circle cx="424.9" cy="830.1" r="2.75"/><circle cx="426.2" cy="841.9" r="2.75"/><circle cx="426.4" cy="845.0" r="2.75"/><circle cx="426.2" cy="847.7" r="2.75"/><circle cx="426.5" cy="854.0" r="2.75"/><circle cx="428.7" cy="825.7" r="2.75"/><circle cx="428.0" cy="829.7" r="2.75"/><circle cx="428.5" cy="832.9" r="2.75"/><circle cx="430.0" cy="842.8" r="2.75"/><circle cx="429.3" cy="845.6" r="2.75"/><circle cx="428.8" cy="848.5" r="2.75"/><circle cx="433.0" cy="841.5" r="2.75"/><circle cx="433.9" cy="849.9" r="2.75"/><circle cx="433.2" cy="854.2" r="2.75"/><circle cx="437.0" cy="843.1" r="2.75"/><circle cx="437.9" cy="850.4" r="2.75"/><circle cx="435.1" cy="850.8" r="2.75"/><circle cx="441.7" cy="839.6" r="2.75"/><circle cx="440.1" cy="844.7" r="2.75"/><circle cx="442.7" cy="834.6" r="2.75"/><circle cx="444.8" cy="843.2" r="2.75"/><circle cx="444.2" cy="847.4" r="2.75"/><circle cx="443.0" cy="854.3" r="2.75"/><circle cx="446.0" cy="859.6" r="2.75"/><circle cx="446.5" cy="839.0" r="2.75"/><circle cx="447.0" cy="846.1" r="2.75"/><circle cx="446.7" cy="850.3" r="2.75"/><circle cx="452.8" cy="838.9" r="2.75"/><circle cx="453.1" cy="847.2" r="2.75"/><circle cx="450.5" cy="851.9" r="2.75"/><circle cx="457.1" cy="843.3" r="2.75"/><circle cx="456.0" cy="860.0" r="2.75"/><circle cx="454.0" cy="862.4" r="2.75"/><circle cx="458.5" cy="849.4" r="2.75"/><circle cx="460.1" cy="855.8" r="2.75"/><circle cx="459.6" cy="858.0" r="2.75"/><circle cx="464.8" cy="845.6" r="2.75"/><circle cx="462.6" cy="849.2" r="2.75"/><circle cx="463.4" cy="861.3" r="2.75"/><circle cx="467.0" cy="848.2" r="2.75"/><circle cx="465.7" cy="861.1" r="2.75"/><circle cx="467.3" cy="868.4" r="2.75"/><circle cx="470.4" cy="852.8" r="2.75"/><circle cx="470.3" cy="865.8" r="2.75"/><circle cx="475.2" cy="853.7" r="2.75"/><circle cx="475.1" cy="867.9" r="2.75"/><circle cx="477.9" cy="856.5" r="2.75"/><circle cx="477.6" cy="859.8" r="2.75"/><circle cx="479.5" cy="862.1" r="2.75"/><circle cx="479.1" cy="870.0" r="2.75"/><circle cx="482.2" cy="857.9" r="2.75"/><circle cx="482.5" cy="859.5" r="2.75"/><circle cx="483.4" cy="863.2" r="2.75"/><circle cx="483.2" cy="871.5" r="2.75"/><circle cx="487.2" cy="862.3" r="2.75"/><circle cx="486.7" cy="877.4" r="2.75"/><circle cx="489.6" cy="868.7" r="2.75"/><circle cx="493.9" cy="867.0" r="2.75"/><circle cx="491.9" cy="869.9" r="2.75"/><circle cx="494.7" cy="880.1" r="2.75"/><circle cx="496.8" cy="867.3" r="2.75"/><circle cx="495.5" cy="873.4" r="2.75"/><circle cx="495.2" cy="881.2" r="2.75"/><circle cx="506.2" cy="872.7" r="2.75"/><circle cx="503.7" cy="875.5" r="2.75"/><circle cx="510.2" cy="876.1" r="2.75"/><circle cx="508.1" cy="880.4" r="2.75"/><circle cx="498.2" cy="873.2" r="2.75"/><circle cx="409.5" cy="807.7" r="2.75"/><circle cx="411.9" cy="820.5" r="2.75"/><circle cx="413.1" cy="821.6" r="2.75"/><circle cx="417.2" cy="821.1" r="2.75"/><circle cx="419.7" cy="845.6" r="2.75"/><circle cx="426.0" cy="831.1" r="2.75"/><circle cx="427.1" cy="832.8" r="2.75"/><circle cx="428.7" cy="839.7" r="2.75"/><circle cx="425.5" cy="846.3" r="2.75"/><circle cx="427.3" cy="851.1" r="2.75"/><circle cx="431.5" cy="845.2" r="2.75"/><circle cx="431.1" cy="847.0" r="2.75"/><circle cx="436.4" cy="848.4" r="2.75"/><circle cx="439.5" cy="832.0" r="2.75"/><circle cx="442.4" cy="836.9" r="2.75"/><circle cx="447.2" cy="852.3" r="2.75"/><circle cx="459.4" cy="850.2" r="2.75"/><circle cx="457.1" cy="855.3" r="2.75"/><circle cx="463.3" cy="849.4" r="2.75"/><circle cx="463.9" cy="861.4" r="2.75"/><circle cx="466.0" cy="851.4" r="2.75"/><circle cx="467.8" cy="852.1" r="2.75"/><circle cx="473.4" cy="858.6" r="2.75"/><circle cx="479.7" cy="855.9" r="2.75"/><circle cx="477.3" cy="859.7" r="2.75"/><circle cx="476.6" cy="867.4" r="2.75"/><circle cx="481.2" cy="871.9" r="2.75"/><circle cx="483.0" cy="877.0" r="2.75"/><circle cx="495.3" cy="867.4" r="2.75"/><circle cx="490.7" cy="879.5" r="2.75"/><circle cx="494.1" cy="882.7" r="2.75"/><circle cx="502.3" cy="873.3" r="2.75"/><circle cx="502.4" cy="877.9" r="2.75"/><circle cx="151.1" cy="540.3" r="2.75"/><circle cx="152.4" cy="540.9" r="2.75"/><circle cx="152.7" cy="545.6" r="2.75"/><circle cx="154.2" cy="551.6" r="2.75"/><circle cx="155.6" cy="544.0" r="2.75"/><circle cx="156.3" cy="545.1" r="2.75"/><circle cx="157.7" cy="550.8" r="2.75"/><circle cx="154.4" cy="551.7" r="2.75"/><circle cx="154.7" cy="561.2" r="2.75"/><circle cx="159.8" cy="534.1" r="2.75"/><circle cx="159.0" cy="541.6" r="2.75"/><circle cx="160.6" cy="547.9" r="2.75"/><circle cx="160.0" cy="556.7" r="2.75"/><circle cx="160.7" cy="560.2" r="2.75"/><circle cx="162.1" cy="528.6" r="2.75"/><circle cx="164.0" cy="535.6" r="2.75"/><circle cx="163.3" cy="539.1" r="2.75"/><circle cx="162.8" cy="551.3" r="2.75"/><circle cx="162.1" cy="558.2" r="2.75"/><circle cx="161.9" cy="558.8" r="2.75"/><circle cx="162.4" cy="564.6" r="2.75"/><circle cx="166.9" cy="522.4" r="2.75"/><circle cx="167.1" cy="530.2" r="2.75"/><circle cx="165.5" cy="534.4" r="2.75"/><circle cx="165.7" cy="540.7" r="2.75"/><circle cx="166.2" cy="547.5" r="2.75"/><circle cx="167.2" cy="549.5" r="2.75"/><circle cx="170.4" cy="519.2" r="2.75"/><circle cx="168.9" cy="524.2" r="2.75"/><circle cx="170.8" cy="527.4" r="2.75"/><circle cx="171.3" cy="533.4" r="2.75"/><circle cx="171.3" cy="541.7" r="2.75"/><circle cx="170.6" cy="547.2" r="2.75"/><circle cx="169.1" cy="556.7" r="2.75"/><circle cx="173.0" cy="516.2" r="2.75"/><circle cx="173.1" cy="525.8" r="2.75"/><circle cx="174.1" cy="531.5" r="2.75"/><circle cx="174.0" cy="554.4" r="2.75"/><circle cx="173.7" cy="555.1" r="2.75"/><circle cx="176.4" cy="517.6" r="2.75"/><circle cx="178.1" cy="522.3" r="2.75"/><circle cx="178.7" cy="526.7" r="2.75"/><circle cx="176.3" cy="527.5" r="2.75"/><circle cx="176.8" cy="531.7" r="2.75"/><circle cx="176.4" cy="537.1" r="2.75"/><circle cx="177.5" cy="537.6" r="2.75"/><circle cx="178.2" cy="545.2" r="2.75"/><circle cx="176.8" cy="554.0" r="2.75"/><circle cx="178.5" cy="555.5" r="2.75"/><circle cx="176.6" cy="561.1" r="2.75"/><circle cx="180.4" cy="525.5" r="2.75"/><circle cx="181.8" cy="528.2" r="2.75"/><circle cx="181.0" cy="533.4" r="2.75"/><circle cx="179.5" cy="536.4" r="2.75"/><circle cx="180.4" cy="547.0" r="2.75"/><circle cx="180.7" cy="549.0" r="2.75"/><circle cx="181.2" cy="557.9" r="2.75"/><circle cx="179.0" cy="559.9" r="2.75"/><circle cx="180.0" cy="563.4" r="2.75"/><circle cx="182.7" cy="512.2" r="2.75"/><circle cx="183.1" cy="522.1" r="2.75"/><circle cx="186.0" cy="525.2" r="2.75"/><circle cx="183.1" cy="529.2" r="2.75"/><circle cx="183.1" cy="533.7" r="2.75"/><circle cx="184.6" cy="543.3" r="2.75"/><circle cx="186.6" cy="511.8" r="2.75"/><circle cx="187.1" cy="513.0" r="2.75"/><circle cx="188.5" cy="518.4" r="2.75"/><circle cx="188.5" cy="520.8" r="2.75"/><circle cx="188.7" cy="527.0" r="2.75"/><circle cx="187.6" cy="540.8" r="2.75"/><circle cx="187.0" cy="546.2" r="2.75"/><circle cx="187.5" cy="563.7" r="2.75"/><circle cx="187.1" cy="567.9" r="2.75"/><circle cx="188.7" cy="569.3" r="2.75"/><circle cx="192.6" cy="519.3" r="2.75"/><circle cx="191.0" cy="543.7" r="2.75"/><circle cx="190.8" cy="567.1" r="2.75"/><circle cx="194.1" cy="514.5" r="2.75"/><circle cx="194.9" cy="523.1" r="2.75"/><circle cx="196.4" cy="525.2" r="2.75"/><circle cx="195.2" cy="530.1" r="2.75"/><circle cx="194.6" cy="544.2" r="2.75"/><circle cx="193.3" cy="554.5" r="2.75"/><circle cx="196.5" cy="556.7" r="2.75"/><circle cx="195.6" cy="570.1" r="2.75"/><circle cx="197.7" cy="507.3" r="2.75"/><circle cx="198.8" cy="516.2" r="2.75"/><circle cx="198.6" cy="522.1" r="2.75"/><circle cx="200.0" cy="547.2" r="2.75"/><circle cx="197.6" cy="554.8" r="2.75"/><circle cx="201.9" cy="511.9" r="2.75"/><circle cx="203.6" cy="514.2" r="2.75"/><circle cx="201.2" cy="517.6" r="2.75"/><circle cx="202.6" cy="525.6" r="2.75"/><circle cx="203.3" cy="529.7" r="2.75"/><circle cx="201.7" cy="538.5" r="2.75"/><circle cx="200.6" cy="545.7" r="2.75"/><circle cx="203.2" cy="549.2" r="2.75"/><circle cx="204.2" cy="507.0" r="2.75"/><circle cx="206.7" cy="511.3" r="2.75"/><circle cx="204.7" cy="513.7" r="2.75"/><circle cx="204.4" cy="518.2" r="2.75"/><circle cx="206.0" cy="529.7" r="2.75"/><circle cx="204.7" cy="532.8" r="2.75"/><circle cx="206.6" cy="540.0" r="2.75"/><circle cx="206.7" cy="547.8" r="2.75"/><circle cx="205.4" cy="551.2" r="2.75"/><circle cx="206.8" cy="564.0" r="2.75"/><circle cx="206.9" cy="570.9" r="2.75"/><circle cx="204.5" cy="573.1" r="2.75"/><circle cx="209.0" cy="506.9" r="2.75"/><circle cx="208.9" cy="517.7" r="2.75"/><circle cx="209.2" cy="532.4" r="2.75"/><circle cx="208.2" cy="536.4" r="2.75"/><circle cx="207.8" cy="539.2" r="2.75"/><circle cx="207.7" cy="542.0" r="2.75"/><circle cx="207.6" cy="556.3" r="2.75"/><circle cx="208.8" cy="561.6" r="2.75"/><circle cx="208.0" cy="570.0" r="2.75"/><circle cx="209.2" cy="574.0" r="2.75"/><circle cx="211.5" cy="512.5" r="2.75"/><circle cx="213.2" cy="513.2" r="2.75"/><circle cx="212.6" cy="517.6" r="2.75"/><circle cx="212.0" cy="522.0" r="2.75"/><circle cx="211.4" cy="525.2" r="2.75"/><circle cx="214.0" cy="530.1" r="2.75"/><circle cx="212.9" cy="533.6" r="2.75"/><circle cx="213.5" cy="538.5" r="2.75"/><circle cx="214.1" cy="547.0" r="2.75"/><circle cx="213.9" cy="548.6" r="2.75"/><circle cx="217.5" cy="507.5" r="2.75"/><circle cx="216.0" cy="517.0" r="2.75"/><circle cx="216.0" cy="522.3" r="2.75"/><circle cx="217.2" cy="525.7" r="2.75"/><circle cx="216.4" cy="527.4" r="2.75"/><circle cx="215.8" cy="539.3" r="2.75"/><circle cx="215.4" cy="542.9" r="2.75"/><circle cx="215.2" cy="544.7" r="2.75"/><circle cx="217.1" cy="549.8" r="2.75"/><circle cx="214.4" cy="562.4" r="2.75"/><circle cx="214.7" cy="566.4" r="2.75"/><circle cx="220.5" cy="503.0" r="2.75"/><circle cx="221.2" cy="508.8" r="2.75"/><circle cx="220.3" cy="514.2" r="2.75"/><circle cx="218.6" cy="519.4" r="2.75"/><circle cx="219.3" cy="523.0" r="2.75"/><circle cx="218.0" cy="532.5" r="2.75"/><circle cx="218.9" cy="536.6" r="2.75"/><circle cx="217.9" cy="546.4" r="2.75"/><circle cx="220.2" cy="567.4" r="2.75"/><circle cx="219.4" cy="575.4" r="2.75"/><circle cx="223.0" cy="508.6" r="2.75"/><circle cx="221.8" cy="510.1" r="2.75"/><circle cx="224.8" cy="513.7" r="2.75"/><circle cx="221.5" cy="522.7" r="2.75"/><circle cx="223.8" cy="529.1" r="2.75"/><circle cx="224.1" cy="533.3" r="2.75"/><circle cx="223.4" cy="534.7" r="2.75"/><circle cx="222.3" cy="543.3" r="2.75"/><circle cx="224.1" cy="548.0" r="2.75"/><circle cx="224.0" cy="552.3" r="2.75"/><circle cx="222.6" cy="561.4" r="2.75"/><circle cx="223.9" cy="574.6" r="2.75"/><circle cx="227.8" cy="508.5" r="2.75"/><circle cx="227.5" cy="509.7" r="2.75"/><circle cx="227.9" cy="521.0" r="2.75"/><circle cx="226.5" cy="534.0" r="2.75"/><circle cx="225.7" cy="538.2" r="2.75"/><circle cx="226.1" cy="543.3" r="2.75"/><circle cx="225.6" cy="555.6" r="2.75"/><circle cx="225.4" cy="576.0" r="2.75"/><circle cx="230.9" cy="517.1" r="2.75"/><circle cx="229.5" cy="521.3" r="2.75"/><circle cx="229.3" cy="533.8" r="2.75"/><circle cx="229.3" cy="544.4" r="2.75"/><circle cx="229.0" cy="553.7" r="2.75"/><circle cx="235.1" cy="532.3" r="2.75"/><circle cx="233.5" cy="537.3" r="2.75"/><circle cx="233.6" cy="542.3" r="2.75"/><circle cx="232.5" cy="546.6" r="2.75"/><circle cx="235.3" cy="549.2" r="2.75"/><circle cx="238.2" cy="527.5" r="2.75"/><circle cx="238.6" cy="532.7" r="2.75"/><circle cx="237.9" cy="534.6" r="2.75"/><circle cx="238.5" cy="539.2" r="2.75"/><circle cx="237.3" cy="549.8" r="2.75"/><circle cx="240.8" cy="533.4" r="2.75"/><circle cx="241.3" cy="538.3" r="2.75"/><circle cx="239.3" cy="543.2" r="2.75"/><circle cx="244.9" cy="535.8" r="2.75"/><circle cx="245.0" cy="544.6" r="2.75"/><circle cx="249.2" cy="530.9" r="2.75"/><circle cx="246.6" cy="540.6" r="2.75"/><circle cx="251.0" cy="528.5" r="2.75"/><circle cx="251.4" cy="532.6" r="2.75"/><circle cx="252.8" cy="538.7" r="2.75"/><circle cx="255.1" cy="533.7" r="2.75"/><circle cx="254.6" cy="533.9" r="2.75"/><circle cx="254.3" cy="538.7" r="2.75"/><circle cx="257.3" cy="539.7" r="2.75"/><circle cx="380.4" cy="398.7" r="2.75"/><circle cx="381.1" cy="414.8" r="2.75"/><circle cx="384.1" cy="403.7" r="2.75"/><circle cx="385.1" cy="409.5" r="2.75"/><circle cx="385.6" cy="412.9" r="2.75"/><circle cx="390.1" cy="392.3" r="2.75"/><circle cx="391.5" cy="404.9" r="2.75"/><circle cx="390.1" cy="411.9" r="2.75"/><circle cx="389.0" cy="426.5" r="2.75"/><circle cx="395.0" cy="385.9" r="2.75"/><circle cx="396.0" cy="389.0" r="2.75"/><circle cx="393.0" cy="392.4" r="2.75"/><circle cx="393.2" cy="408.5" r="2.75"/><circle cx="394.0" cy="422.1" r="2.75"/><circle cx="396.8" cy="385.3" r="2.75"/><circle cx="399.6" cy="390.0" r="2.75"/><circle cx="397.5" cy="395.0" r="2.75"/><circle cx="399.0" cy="407.4" r="2.75"/><circle cx="398.8" cy="409.1" r="2.75"/><circle cx="399.8" cy="420.8" r="2.75"/><circle cx="398.7" cy="422.7" r="2.75"/><circle cx="399.7" cy="433.3" r="2.75"/><circle cx="402.8" cy="385.3" r="2.75"/><circle cx="403.4" cy="392.8" r="2.75"/><circle cx="405.1" cy="416.1" r="2.75"/><circle cx="404.0" cy="419.4" r="2.75"/><circle cx="404.1" cy="422.2" r="2.75"/><circle cx="405.9" cy="389.4" r="2.75"/><circle cx="406.7" cy="411.1" r="2.75"/><circle cx="406.3" cy="428.0" r="2.75"/><circle cx="410.6" cy="397.7" r="2.75"/><circle cx="412.1" cy="424.8" r="2.75"/><circle cx="411.8" cy="427.0" r="2.75"/><circle cx="409.9" cy="435.2" r="2.75"/><circle cx="413.0" cy="442.3" r="2.75"/><circle cx="413.8" cy="417.0" r="2.75"/><circle cx="416.5" cy="421.9" r="2.75"/><circle cx="416.7" cy="428.7" r="2.75"/><circle cx="414.8" cy="435.6" r="2.75"/><circle cx="418.9" cy="405.6" r="2.75"/><circle cx="422.1" cy="410.7" r="2.75"/><circle cx="420.0" cy="415.3" r="2.75"/><circle cx="419.7" cy="423.5" r="2.75"/><circle cx="421.0" cy="439.6" r="2.75"/><circle cx="420.7" cy="442.7" r="2.75"/><circle cx="424.2" cy="393.5" r="2.75"/><circle cx="424.3" cy="422.0" r="2.75"/><circle cx="433.3" cy="400.6" r="2.75"/><circle cx="430.8" cy="405.3" r="2.75"/><circle cx="431.7" cy="410.2" r="2.75"/><circle cx="436.4" cy="394.9" r="2.75"/><circle cx="438.6" cy="402.2" r="2.75"/><circle cx="443.5" cy="402.5" r="2.75"/><circle cx="441.7" cy="410.9" r="2.75"/><circle cx="446.8" cy="399.8" r="2.75"/><circle cx="447.3" cy="403.5" r="2.75"/><circle cx="450.0" cy="395.6" r="2.75"/><circle cx="448.4" cy="396.7" r="2.75"/><circle cx="453.1" cy="391.1" r="2.75"/><circle cx="456.1" cy="391.6" r="2.75"/><circle cx="456.0" cy="398.9" r="2.75"/><circle cx="447.6" cy="451.2" r="2.75"/><circle cx="450.2" cy="441.1" r="2.75"/><circle cx="452.4" cy="447.1" r="2.75"/><circle cx="457.1" cy="443.6" r="2.75"/><circle cx="453.4" cy="447.0" r="2.75"/><circle cx="455.7" cy="451.4" r="2.75"/><circle cx="455.7" cy="454.2" r="2.75"/><circle cx="458.5" cy="440.2" r="2.75"/><circle cx="459.3" cy="448.8" r="2.75"/><circle cx="463.9" cy="445.5" r="2.75"/><circle cx="462.8" cy="454.4" r="2.75"/><circle cx="463.9" cy="459.2" r="2.75"/><circle cx="469.1" cy="437.5" r="2.75"/><circle cx="470.3" cy="454.6" r="2.75"/><circle cx="471.0" cy="439.5" r="2.75"/><circle cx="472.3" cy="442.3" r="2.75"/><circle cx="471.3" cy="446.4" r="2.75"/><circle cx="472.1" cy="455.1" r="2.75"/><circle cx="472.1" cy="459.4" r="2.75"/><circle cx="478.1" cy="444.1" r="2.75"/><circle cx="478.9" cy="448.8" r="2.75"/><circle cx="475.3" cy="453.2" r="2.75"/><circle cx="478.0" cy="457.2" r="2.75"/><circle cx="476.1" cy="461.2" r="2.75"/><circle cx="475.2" cy="462.7" r="2.75"/><circle cx="479.4" cy="445.5" r="2.75"/><circle cx="482.8" cy="455.5" r="2.75"/><circle cx="486.3" cy="450.1" r="2.75"/><circle cx="485.2" cy="466.1" r="2.75"/><circle cx="488.0" cy="444.9" r="2.75"/><circle cx="492.1" cy="453.0" r="2.75"/><circle cx="491.5" cy="457.5" r="2.75"/><circle cx="495.8" cy="448.4" r="2.75"/><circle cx="494.8" cy="459.7" r="2.75"/><circle cx="498.6" cy="461.8" r="2.75"/><circle cx="498.7" cy="463.6" r="2.75"/><circle cx="503.4" cy="452.6" r="2.75"/><circle cx="509.4" cy="459.9" r="2.75"/><circle cx="509.4" cy="464.8" r="2.75"/><circle cx="512.1" cy="458.7" r="2.75"/><circle cx="514.6" cy="448.2" r="2.75"/><circle cx="520.8" cy="460.7" r="2.75"/><circle cx="524.7" cy="457.0" r="2.75"/><circle cx="485.5" cy="490.2" r="2.75"/><circle cx="488.4" cy="475.8" r="2.75"/><circle cx="488.3" cy="481.8" r="2.75"/><circle cx="490.8" cy="473.8" r="2.75"/><circle cx="491.2" cy="484.1" r="2.75"/><circle cx="481.7" cy="507.4" r="2.75"/><circle cx="493.9" cy="498.2" r="2.75"/><circle cx="489.6" cy="504.4" r="2.75"/><circle cx="493.5" cy="515.3" r="2.75"/><circle cx="497.7" cy="503.9" r="2.75"/><circle cx="499.9" cy="513.4" r="2.75"/><circle cx="497.3" cy="521.6" r="2.75"/><circle cx="505.3" cy="487.5" r="2.75"/><circle cx="505.6" cy="507.9" r="2.75"/><circle cx="502.9" cy="516.9" r="2.75"/><circle cx="506.1" cy="489.3" r="2.75"/><circle cx="507.6" cy="520.3" r="2.75"/><circle cx="516.3" cy="485.1" r="2.75"/><circle cx="511.8" cy="492.3" r="2.75"/><circle cx="512.0" cy="503.4" r="2.75"/><circle cx="515.1" cy="511.6" r="2.75"/><circle cx="516.4" cy="516.9" r="2.75"/><circle cx="517.7" cy="484.2" r="2.75"/><circle cx="517.3" cy="493.4" r="2.75"/><circle cx="521.8" cy="509.5" r="2.75"/><circle cx="518.2" cy="515.4" r="2.75"/><circle cx="517.4" cy="526.6" r="2.75"/><circle cx="523.4" cy="478.4" r="2.75"/><circle cx="526.0" cy="488.1" r="2.75"/><circle cx="523.8" cy="500.7" r="2.75"/><circle cx="531.1" cy="484.6" r="2.75"/><circle cx="529.8" cy="490.7" r="2.75"/><circle cx="530.4" cy="508.0" r="2.75"/><circle cx="539.6" cy="474.8" r="2.75"/><circle cx="544.6" cy="475.2" r="2.75"/><circle cx="544.2" cy="482.2" r="2.75"/><circle cx="547.6" cy="475.9" r="2.75"/><circle cx="549.8" cy="484.1" r="2.75"/><circle cx="551.7" cy="468.0" r="2.75"/><circle cx="553.8" cy="478.6" r="2.75"/><circle cx="564.1" cy="475.3" r="2.75"/><circle cx="425.2" cy="543.7" r="2.75"/><circle cx="424.1" cy="547.3" r="2.75"/><circle cx="425.0" cy="549.3" r="2.75"/><circle cx="424.9" cy="555.2" r="2.75"/><circle cx="425.5" cy="563.9" r="2.75"/><circle cx="428.3" cy="536.5" r="2.75"/><circle cx="430.8" cy="547.0" r="2.75"/><circle cx="427.6" cy="560.8" r="2.75"/><circle cx="431.5" cy="568.4" r="2.75"/><circle cx="427.7" cy="571.9" r="2.75"/><circle cx="434.0" cy="533.4" r="2.75"/><circle cx="433.1" cy="546.9" r="2.75"/><circle cx="432.0" cy="555.2" r="2.75"/><circle cx="434.9" cy="575.2" r="2.75"/><circle cx="433.6" cy="578.7" r="2.75"/><circle cx="436.0" cy="587.8" r="2.75"/><circle cx="439.2" cy="539.8" r="2.75"/><circle cx="439.3" cy="554.4" r="2.75"/><circle cx="439.0" cy="563.0" r="2.75"/><circle cx="438.7" cy="569.3" r="2.75"/><circle cx="438.2" cy="580.3" r="2.75"/><circle cx="441.6" cy="590.8" r="2.75"/><circle cx="444.5" cy="526.3" r="2.75"/><circle cx="443.6" cy="545.0" r="2.75"/><circle cx="441.9" cy="580.9" r="2.75"/><circle cx="444.8" cy="586.3" r="2.75"/><circle cx="443.0" cy="588.9" r="2.75"/><circle cx="448.1" cy="529.5" r="2.75"/><circle cx="450.5" cy="536.5" r="2.75"/><circle cx="450.4" cy="540.9" r="2.75"/><circle cx="446.8" cy="570.1" r="2.75"/><circle cx="446.6" cy="591.2" r="2.75"/><circle cx="448.2" cy="595.4" r="2.75"/><circle cx="454.1" cy="531.4" r="2.75"/><circle cx="451.6" cy="536.3" r="2.75"/><circle cx="455.0" cy="542.3" r="2.75"/><circle cx="455.7" cy="546.1" r="2.75"/><circle cx="455.8" cy="553.2" r="2.75"/><circle cx="452.6" cy="558.2" r="2.75"/><circle cx="453.0" cy="561.7" r="2.75"/><circle cx="451.5" cy="568.9" r="2.75"/><circle cx="455.6" cy="581.2" r="2.75"/><circle cx="451.5" cy="589.0" r="2.75"/><circle cx="453.9" cy="595.3" r="2.75"/><circle cx="459.8" cy="525.5" r="2.75"/><circle cx="457.4" cy="529.5" r="2.75"/><circle cx="460.6" cy="556.9" r="2.75"/><circle cx="457.6" cy="561.0" r="2.75"/><circle cx="457.1" cy="570.2" r="2.75"/><circle cx="456.6" cy="578.6" r="2.75"/><circle cx="461.2" cy="586.9" r="2.75"/><circle cx="456.7" cy="592.6" r="2.75"/><circle cx="463.8" cy="522.8" r="2.75"/><circle cx="465.0" cy="533.9" r="2.75"/><circle cx="463.1" cy="535.9" r="2.75"/><circle cx="465.5" cy="549.2" r="2.75"/><circle cx="466.1" cy="554.2" r="2.75"/><circle cx="461.9" cy="567.8" r="2.75"/><circle cx="465.1" cy="576.9" r="2.75"/><circle cx="461.6" cy="586.8" r="2.75"/><circle cx="463.7" cy="590.5" r="2.75"/><circle cx="463.8" cy="594.8" r="2.75"/><circle cx="470.1" cy="534.3" r="2.75"/><circle cx="468.7" cy="543.4" r="2.75"/><circle cx="470.1" cy="551.8" r="2.75"/><circle cx="469.8" cy="556.6" r="2.75"/><circle cx="466.9" cy="571.4" r="2.75"/><circle cx="466.5" cy="593.5" r="2.75"/><circle cx="475.1" cy="528.1" r="2.75"/><circle cx="474.8" cy="533.5" r="2.75"/><circle cx="475.1" cy="555.9" r="2.75"/><circle cx="475.8" cy="573.4" r="2.75"/><circle cx="475.7" cy="574.8" r="2.75"/><circle cx="471.7" cy="586.1" r="2.75"/><circle cx="472.9" cy="595.4" r="2.75"/><circle cx="479.0" cy="526.1" r="2.75"/><circle cx="479.5" cy="546.6" r="2.75"/><circle cx="479.3" cy="549.0" r="2.75"/><circle cx="479.4" cy="567.1" r="2.75"/><circle cx="476.7" cy="569.5" r="2.75"/><circle cx="480.0" cy="579.6" r="2.75"/><circle cx="478.7" cy="585.5" r="2.75"/><circle cx="480.6" cy="590.3" r="2.75"/><circle cx="483.8" cy="545.3" r="2.75"/><circle cx="483.6" cy="557.9" r="2.75"/><circle cx="485.6" cy="559.0" r="2.75"/><circle cx="481.2" cy="566.3" r="2.75"/><circle cx="484.9" cy="570.4" r="2.75"/><circle cx="482.7" cy="576.3" r="2.75"/><circle cx="483.9" cy="583.2" r="2.75"/><circle cx="483.8" cy="586.8" r="2.75"/><circle cx="481.7" cy="589.7" r="2.75"/><circle cx="487.7" cy="531.9" r="2.75"/><circle cx="487.2" cy="536.2" r="2.75"/><circle cx="488.1" cy="539.2" r="2.75"/><circle cx="485.8" cy="552.9" r="2.75"/><circle cx="488.8" cy="555.9" r="2.75"/><circle cx="485.8" cy="563.2" r="2.75"/><circle cx="488.2" cy="572.4" r="2.75"/><circle cx="489.7" cy="574.5" r="2.75"/><circle cx="488.9" cy="585.2" r="2.75"/><circle cx="490.4" cy="588.5" r="2.75"/><circle cx="493.4" cy="541.8" r="2.75"/><circle cx="491.7" cy="551.6" r="2.75"/><circle cx="491.8" cy="567.6" r="2.75"/><circle cx="492.2" cy="570.5" r="2.75"/><circle cx="492.9" cy="576.2" r="2.75"/><circle cx="493.6" cy="578.6" r="2.75"/><circle cx="492.2" cy="588.8" r="2.75"/><circle cx="495.8" cy="526.0" r="2.75"/><circle cx="496.4" cy="532.0" r="2.75"/><circle cx="498.3" cy="540.9" r="2.75"/><circle cx="498.9" cy="547.5" r="2.75"/><circle cx="499.3" cy="555.9" r="2.75"/><circle cx="497.6" cy="566.3" r="2.75"/><circle cx="499.7" cy="570.9" r="2.75"/><circle cx="497.9" cy="577.1" r="2.75"/><circle cx="500.1" cy="582.2" r="2.75"/><circle cx="496.6" cy="586.7" r="2.75"/><circle cx="503.3" cy="533.4" r="2.75"/><circle cx="504.7" cy="535.5" r="2.75"/><circle cx="504.0" cy="541.9" r="2.75"/><circle cx="501.4" cy="546.3" r="2.75"/><circle cx="504.4" cy="556.1" r="2.75"/><circle cx="503.0" cy="568.1" r="2.75"/><circle cx="502.7" cy="570.3" r="2.75"/><circle cx="507.4" cy="531.6" r="2.75"/><circle cx="508.4" cy="541.8" r="2.75"/><circle cx="508.6" cy="545.6" r="2.75"/><circle cx="508.2" cy="571.8" r="2.75"/><circle cx="505.8" cy="579.5" r="2.75"/><circle cx="511.7" cy="533.3" r="2.75"/><circle cx="510.8" cy="536.4" r="2.75"/><circle cx="511.6" cy="540.2" r="2.75"/><circle cx="511.2" cy="554.4" r="2.75"/><circle cx="513.1" cy="562.4" r="2.75"/><circle cx="512.8" cy="570.6" r="2.75"/><circle cx="512.6" cy="575.6" r="2.75"/><circle cx="519.2" cy="532.2" r="2.75"/><circle cx="519.8" cy="543.8" r="2.75"/><circle cx="515.9" cy="547.8" r="2.75"/><circle cx="519.6" cy="559.4" r="2.75"/><circle cx="515.9" cy="565.5" r="2.75"/><circle cx="516.4" cy="572.7" r="2.75"/><circle cx="536.1" cy="470.6" r="2.75"/><circle cx="536.2" cy="474.0" r="2.75"/><circle cx="538.0" cy="478.6" r="2.75"/><circle cx="544.5" cy="468.5" r="2.75"/><circle cx="541.6" cy="474.5" r="2.75"/><circle cx="541.0" cy="479.0" r="2.75"/><circle cx="546.0" cy="479.9" r="2.75"/><circle cx="552.4" cy="467.9" r="2.75"/><circle cx="553.4" cy="477.7" r="2.75"/><circle cx="555.8" cy="466.6" r="2.75"/><circle cx="558.6" cy="473.5" r="2.75"/><circle cx="554.9" cy="475.7" r="2.75"/><circle cx="562.9" cy="463.0" r="2.75"/><circle cx="560.2" cy="467.8" r="2.75"/><circle cx="563.8" cy="473.0" r="2.75"/><circle cx="565.5" cy="476.3" r="2.75"/><circle cx="571.6" cy="461.1" r="2.75"/><circle cx="573.1" cy="467.1" r="2.75"/><circle cx="573.3" cy="469.5" r="2.75"/><circle cx="576.1" cy="458.3" r="2.75"/><circle cx="577.5" cy="465.1" r="2.75"/><circle cx="579.5" cy="455.7" r="2.75"/><circle cx="579.5" cy="460.6" r="2.75"/><circle cx="580.2" cy="475.2" r="2.75"/><circle cx="585.2" cy="452.9" r="2.75"/><circle cx="584.9" cy="457.5" r="2.75"/><circle cx="587.7" cy="463.4" r="2.75"/><circle cx="585.6" cy="465.3" r="2.75"/><circle cx="589.7" cy="461.7" r="2.75"/><circle cx="592.9" cy="465.4" r="2.75"/><circle cx="597.5" cy="450.1" r="2.75"/><circle cx="596.4" cy="459.0" r="2.75"/><circle cx="598.2" cy="460.8" r="2.75"/><circle cx="595.5" cy="469.6" r="2.75"/><circle cx="599.2" cy="449.9" r="2.75"/><circle cx="600.1" cy="462.8" r="2.75"/><circle cx="599.6" cy="464.1" r="2.75"/><circle cx="604.5" cy="462.5" r="2.75"/><circle cx="606.3" cy="468.5" r="2.75"/><circle cx="608.0" cy="447.5" r="2.75"/><circle cx="608.1" cy="449.9" r="2.75"/><circle cx="616.8" cy="452.3" r="2.75"/><circle cx="621.6" cy="448.6" r="2.75"/><circle cx="619.8" cy="453.9" r="2.75"/><circle cx="620.3" cy="458.1" r="2.75"/><circle cx="618.1" cy="461.3" r="2.75"/><circle cx="624.4" cy="445.5" r="2.75"/><circle cx="626.3" cy="451.2" r="2.75"/><circle cx="627.7" cy="451.6" r="2.75"/><circle cx="630.0" cy="456.0" r="2.75"/><circle cx="634.0" cy="443.1" r="2.75"/><circle cx="634.5" cy="451.0" r="2.75"/><circle cx="633.3" cy="456.6" r="2.75"/><circle cx="640.4" cy="454.1" r="2.75"/><circle cx="637.3" cy="457.7" r="2.75"/><circle cx="640.1" cy="461.7" r="2.75"/><circle cx="644.6" cy="444.0" r="2.75"/><circle cx="642.9" cy="448.6" r="2.75"/><circle cx="641.9" cy="452.0" r="2.75"/><circle cx="644.7" cy="459.5" r="2.75"/><circle cx="644.0" cy="466.7" r="2.75"/><circle cx="647.0" cy="452.9" r="2.75"/><circle cx="653.5" cy="437.9" r="2.75"/><circle cx="653.9" cy="442.5" r="2.75"/><circle cx="651.7" cy="448.8" r="2.75"/><circle cx="655.8" cy="449.7" r="2.75"/><circle cx="652.5" cy="463.6" r="2.75"/><circle cx="656.6" cy="444.0" r="2.75"/><circle cx="656.6" cy="457.7" r="2.75"/><circle cx="664.0" cy="441.1" r="2.75"/><circle cx="589.6" cy="388.1" r="2.75"/><circle cx="588.9" cy="392.5" r="2.75"/><circle cx="590.6" cy="397.7" r="2.75"/><circle cx="590.3" cy="399.3" r="2.75"/><circle cx="591.6" cy="382.4" r="2.75"/><circle cx="593.3" cy="390.0" r="2.75"/><circle cx="592.5" cy="394.4" r="2.75"/><circle cx="594.9" cy="397.1" r="2.75"/><circle cx="592.5" cy="410.0" r="2.75"/><circle cx="596.7" cy="382.7" r="2.75"/><circle cx="598.6" cy="384.2" r="2.75"/><circle cx="595.5" cy="390.5" r="2.75"/><circle cx="598.6" cy="392.2" r="2.75"/><circle cx="600.7" cy="398.1" r="2.75"/><circle cx="602.4" cy="406.1" r="2.75"/><circle cx="601.7" cy="412.3" r="2.75"/><circle cx="605.9" cy="384.2" r="2.75"/><circle cx="602.6" cy="388.7" r="2.75"/><circle cx="605.5" cy="391.3" r="2.75"/><circle cx="603.7" cy="400.9" r="2.75"/><circle cx="603.6" cy="404.3" r="2.75"/><circle cx="604.5" cy="406.5" r="2.75"/><circle cx="604.6" cy="412.7" r="2.75"/><circle cx="604.9" cy="419.7" r="2.75"/><circle cx="608.3" cy="384.1" r="2.75"/><circle cx="607.1" cy="397.3" r="2.75"/><circle cx="607.2" cy="398.2" r="2.75"/><circle cx="609.7" cy="407.3" r="2.75"/><circle cx="606.7" cy="412.3" r="2.75"/><circle cx="609.5" cy="414.3" r="2.75"/><circle cx="607.8" cy="419.5" r="2.75"/><circle cx="608.9" cy="421.3" r="2.75"/><circle cx="610.8" cy="391.6" r="2.75"/><circle cx="611.0" cy="397.7" r="2.75"/><circle cx="610.4" cy="402.8" r="2.75"/><circle cx="612.2" cy="406.8" r="2.75"/><circle cx="611.6" cy="410.5" r="2.75"/><circle cx="610.7" cy="420.1" r="2.75"/><circle cx="612.4" cy="425.4" r="2.75"/><circle cx="613.9" cy="393.2" r="2.75"/><circle cx="615.7" cy="402.3" r="2.75"/><circle cx="614.1" cy="405.5" r="2.75"/><circle cx="617.2" cy="412.7" r="2.75"/><circle cx="613.8" cy="418.9" r="2.75"/><circle cx="619.4" cy="397.0" r="2.75"/><circle cx="618.9" cy="405.2" r="2.75"/><circle cx="618.9" cy="419.2" r="2.75"/><circle cx="620.4" cy="424.4" r="2.75"/><circle cx="620.1" cy="428.2" r="2.75"/><circle cx="624.0" cy="401.6" r="2.75"/><circle cx="623.1" cy="404.8" r="2.75"/><circle cx="622.5" cy="405.7" r="2.75"/><circle cx="621.7" cy="413.8" r="2.75"/><circle cx="622.1" cy="418.3" r="2.75"/><circle cx="623.0" cy="421.3" r="2.75"/><circle cx="623.5" cy="429.8" r="2.75"/><circle cx="626.2" cy="406.6" r="2.75"/><circle cx="626.4" cy="409.3" r="2.75"/><circle cx="627.5" cy="414.2" r="2.75"/><circle cx="625.2" cy="424.6" r="2.75"/><circle cx="625.2" cy="428.6" r="2.75"/><circle cx="627.0" cy="432.0" r="2.75"/><circle cx="628.8" cy="411.9" r="2.75"/><circle cx="630.6" cy="419.6" r="2.75"/><circle cx="631.8" cy="420.3" r="2.75"/><circle cx="631.9" cy="424.9" r="2.75"/><circle cx="631.2" cy="427.9" r="2.75"/><circle cx="632.6" cy="414.4" r="2.75"/><circle cx="633.8" cy="433.3" r="2.75"/><circle cx="636.0" cy="430.7" r="2.75"/><circle cx="641.8" cy="433.0" r="2.75"/><circle cx="645.6" cy="428.4" r="2.75"/><circle cx="665.4" cy="439.9" r="2.75"/><circle cx="664.4" cy="443.1" r="2.75"/><circle cx="664.7" cy="446.1" r="2.75"/><circle cx="666.4" cy="433.7" r="2.75"/><circle cx="667.1" cy="438.5" r="2.75"/><circle cx="666.4" cy="439.7" r="2.75"/><circle cx="667.0" cy="446.8" r="2.75"/><circle cx="667.8" cy="450.3" r="2.75"/><circle cx="669.0" cy="452.5" r="2.75"/><circle cx="668.7" cy="455.9" r="2.75"/><circle cx="671.6" cy="432.2" r="2.75"/><circle cx="669.9" cy="434.9" r="2.75"/><circle cx="672.1" cy="440.1" r="2.75"/><circle cx="671.6" cy="445.5" r="2.75"/><circle cx="672.5" cy="446.4" r="2.75"/><circle cx="670.3" cy="454.8" r="2.75"/><circle cx="671.6" cy="456.1" r="2.75"/><circle cx="672.2" cy="460.3" r="2.75"/><circle cx="674.1" cy="423.7" r="2.75"/><circle cx="674.7" cy="428.2" r="2.75"/><circle cx="672.7" cy="430.5" r="2.75"/><circle cx="673.7" cy="433.4" r="2.75"/><circle cx="673.4" cy="435.6" r="2.75"/><circle cx="673.3" cy="441.8" r="2.75"/><circle cx="673.6" cy="442.6" r="2.75"/><circle cx="673.0" cy="452.2" r="2.75"/><circle cx="674.9" cy="454.5" r="2.75"/><circle cx="673.7" cy="456.4" r="2.75"/><circle cx="674.7" cy="461.8" r="2.75"/><circle cx="676.4" cy="424.2" r="2.75"/><circle cx="676.2" cy="427.9" r="2.75"/><circle cx="676.4" cy="435.6" r="2.75"/><circle cx="676.5" cy="436.6" r="2.75"/><circle cx="677.1" cy="439.0" r="2.75"/><circle cx="676.9" cy="443.6" r="2.75"/><circle cx="678.7" cy="447.6" r="2.75"/><circle cx="676.4" cy="450.2" r="2.75"/><circle cx="676.9" cy="455.0" r="2.75"/><circle cx="676.5" cy="456.1" r="2.75"/><circle cx="678.1" cy="461.6" r="2.75"/><circle cx="680.0" cy="424.4" r="2.75"/><circle cx="679.9" cy="431.4" r="2.75"/><circle cx="681.7" cy="434.1" r="2.75"/><circle cx="679.9" cy="441.8" r="2.75"/><circle cx="680.9" cy="445.0" r="2.75"/><circle cx="679.7" cy="449.8" r="2.75"/><circle cx="682.1" cy="455.0" r="2.75"/><circle cx="680.2" cy="458.3" r="2.75"/><circle cx="681.5" cy="462.0" r="2.75"/><circle cx="680.7" cy="464.2" r="2.75"/><circle cx="682.5" cy="467.4" r="2.75"/><circle cx="684.8" cy="419.5" r="2.75"/><circle cx="685.5" cy="425.8" r="2.75"/><circle cx="685.0" cy="429.4" r="2.75"/><circle cx="685.8" cy="435.8" r="2.75"/><circle cx="684.6" cy="441.7" r="2.75"/><circle cx="684.1" cy="448.1" r="2.75"/><circle cx="683.3" cy="451.4" r="2.75"/><circle cx="683.4" cy="455.1" r="2.75"/><circle cx="683.6" cy="461.6" r="2.75"/><circle cx="685.8" cy="463.2" r="2.75"/><circle cx="687.0" cy="424.7" r="2.75"/><circle cx="688.5" cy="427.6" r="2.75"/><circle cx="688.2" cy="430.7" r="2.75"/><circle cx="688.3" cy="433.9" r="2.75"/><circle cx="688.0" cy="437.7" r="2.75"/><circle cx="686.8" cy="445.2" r="2.75"/><circle cx="688.4" cy="449.9" r="2.75"/><circle cx="686.3" cy="453.6" r="2.75"/><circle cx="687.1" cy="461.9" r="2.75"/><circle cx="690.1" cy="423.3" r="2.75"/><circle cx="689.9" cy="427.5" r="2.75"/><circle cx="689.9" cy="434.8" r="2.75"/><circle cx="691.1" cy="436.5" r="2.75"/><circle cx="691.3" cy="440.4" r="2.75"/><circle cx="692.6" cy="443.8" r="2.75"/><circle cx="689.6" cy="446.2" r="2.75"/><circle cx="689.9" cy="451.4" r="2.75"/><circle cx="690.5" cy="453.4" r="2.75"/><circle cx="692.4" cy="457.9" r="2.75"/><circle cx="691.1" cy="463.0" r="2.75"/><circle cx="689.6" cy="466.8" r="2.75"/><circle cx="696.1" cy="428.6" r="2.75"/><circle cx="695.6" cy="430.8" r="2.75"/><circle cx="694.9" cy="436.9" r="2.75"/><circle cx="694.1" cy="442.3" r="2.75"/><circle cx="694.7" cy="444.7" r="2.75"/><circle cx="696.0" cy="447.9" r="2.75"/><circle cx="693.2" cy="450.2" r="2.75"/><circle cx="695.2" cy="454.2" r="2.75"/><circle cx="696.0" cy="457.5" r="2.75"/><circle cx="695.6" cy="465.4" r="2.75"/><circle cx="695.7" cy="471.6" r="2.75"/><circle cx="696.2" cy="425.0" r="2.75"/><circle cx="697.1" cy="427.8" r="2.75"/><circle cx="698.6" cy="431.9" r="2.75"/><circle cx="696.5" cy="436.0" r="2.75"/><circle cx="698.4" cy="440.8" r="2.75"/><circle cx="698.1" cy="447.6" r="2.75"/><circle cx="697.0" cy="452.0" r="2.75"/><circle cx="697.6" cy="452.8" r="2.75"/><circle cx="699.4" cy="457.8" r="2.75"/><circle cx="696.8" cy="465.9" r="2.75"/><circle cx="699.3" cy="466.0" r="2.75"/><circle cx="699.2" cy="471.9" r="2.75"/><circle cx="697.7" cy="474.3" r="2.75"/><circle cx="699.9" cy="427.7" r="2.75"/><circle cx="699.9" cy="429.3" r="2.75"/><circle cx="699.9" cy="434.2" r="2.75"/><circle cx="699.7" cy="438.1" r="2.75"/><circle cx="702.1" cy="439.7" r="2.75"/><circle cx="701.2" cy="443.5" r="2.75"/><circle cx="701.6" cy="449.0" r="2.75"/><circle cx="702.2" cy="449.9" r="2.75"/><circle cx="701.6" cy="455.1" r="2.75"/><circle cx="701.5" cy="456.6" r="2.75"/><circle cx="700.8" cy="461.6" r="2.75"/><circle cx="701.4" cy="467.1" r="2.75"/><circle cx="699.7" cy="471.6" r="2.75"/><circle cx="699.9" cy="475.3" r="2.75"/><circle cx="701.4" cy="476.7" r="2.75"/><circle cx="704.6" cy="434.5" r="2.75"/><circle cx="704.8" cy="437.6" r="2.75"/><circle cx="704.8" cy="440.0" r="2.75"/><circle cx="704.4" cy="445.2" r="2.75"/><circle cx="705.0" cy="446.6" r="2.75"/><circle cx="705.6" cy="449.2" r="2.75"/><circle cx="704.1" cy="458.5" r="2.75"/><circle cx="703.0" cy="461.7" r="2.75"/><circle cx="702.9" cy="465.7" r="2.75"/><circle cx="706.1" cy="472.5" r="2.75"/><circle cx="705.1" cy="474.9" r="2.75"/><circle cx="706.3" cy="434.8" r="2.75"/><circle cx="708.9" cy="436.6" r="2.75"/><circle cx="708.7" cy="441.5" r="2.75"/><circle cx="708.2" cy="443.4" r="2.75"/><circle cx="706.3" cy="459.1" r="2.75"/><circle cx="708.5" cy="460.1" r="2.75"/><circle cx="707.8" cy="464.4" r="2.75"/><circle cx="707.3" cy="470.4" r="2.75"/><circle cx="709.2" cy="472.8" r="2.75"/><circle cx="710.4" cy="434.3" r="2.75"/><circle cx="711.2" cy="440.2" r="2.75"/><circle cx="710.0" cy="446.6" r="2.75"/><circle cx="709.8" cy="459.6" r="2.75"/><circle cx="711.1" cy="462.8" r="2.75"/><circle cx="711.5" cy="465.9" r="2.75"/><circle cx="711.7" cy="470.2" r="2.75"/><circle cx="710.6" cy="473.2" r="2.75"/><circle cx="711.7" cy="477.1" r="2.75"/><circle cx="716.4" cy="441.8" r="2.75"/><circle cx="716.3" cy="443.9" r="2.75"/><circle cx="713.8" cy="446.3" r="2.75"/><circle cx="714.1" cy="452.4" r="2.75"/><circle cx="714.9" cy="453.6" r="2.75"/><circle cx="713.5" cy="456.6" r="2.75"/><circle cx="715.7" cy="463.7" r="2.75"/><circle cx="713.3" cy="466.6" r="2.75"/><circle cx="714.1" cy="472.6" r="2.75"/><circle cx="716.4" cy="443.0" r="2.75"/><circle cx="717.6" cy="451.9" r="2.75"/><circle cx="716.9" cy="458.9" r="2.75"/><circle cx="716.5" cy="461.3" r="2.75"/><circle cx="716.8" cy="464.1" r="2.75"/><circle cx="719.4" cy="467.7" r="2.75"/><circle cx="721.4" cy="447.0" r="2.75"/><circle cx="720.7" cy="450.6" r="2.75"/><circle cx="721.8" cy="454.7" r="2.75"/><circle cx="720.9" cy="457.2" r="2.75"/><circle cx="723.1" cy="460.6" r="2.75"/><circle cx="720.3" cy="464.1" r="2.75"/><circle cx="719.8" cy="467.9" r="2.75"/><circle cx="724.0" cy="451.5" r="2.75"/><circle cx="724.3" cy="453.0" r="2.75"/><circle cx="724.3" cy="458.6" r="2.75"/><circle cx="725.1" cy="460.4" r="2.75"/><circle cx="724.1" cy="464.3" r="2.75"/><circle cx="723.1" cy="466.7" r="2.75"/><circle cx="537.6" cy="216.0" r="2.75"/><circle cx="536.7" cy="217.9" r="2.75"/><circle cx="538.1" cy="241.2" r="2.75"/><circle cx="541.5" cy="218.9" r="2.75"/><circle cx="539.4" cy="223.3" r="2.75"/><circle cx="542.4" cy="226.7" r="2.75"/><circle cx="540.2" cy="230.0" r="2.75"/><circle cx="540.9" cy="239.4" r="2.75"/><circle cx="542.1" cy="247.0" r="2.75"/><circle cx="542.2" cy="255.4" r="2.75"/><circle cx="544.7" cy="210.9" r="2.75"/><circle cx="543.8" cy="213.4" r="2.75"/><circle cx="543.7" cy="220.7" r="2.75"/><circle cx="546.0" cy="235.6" r="2.75"/><circle cx="544.6" cy="243.2" r="2.75"/><circle cx="545.7" cy="253.5" r="2.75"/><circle cx="545.5" cy="255.7" r="2.75"/><circle cx="547.2" cy="210.8" r="2.75"/><circle cx="547.4" cy="215.4" r="2.75"/><circle cx="549.3" cy="218.6" r="2.75"/><circle cx="550.3" cy="224.4" r="2.75"/><circle cx="548.2" cy="226.5" r="2.75"/><circle cx="548.4" cy="229.6" r="2.75"/><circle cx="548.0" cy="235.2" r="2.75"/><circle cx="547.0" cy="240.8" r="2.75"/><circle cx="553.8" cy="211.8" r="2.75"/><circle cx="553.3" cy="216.3" r="2.75"/><circle cx="552.9" cy="220.0" r="2.75"/><circle cx="552.3" cy="223.3" r="2.75"/><circle cx="551.6" cy="226.1" r="2.75"/><circle cx="553.9" cy="231.0" r="2.75"/><circle cx="552.7" cy="234.2" r="2.75"/><circle cx="556.7" cy="214.9" r="2.75"/><circle cx="557.4" cy="219.4" r="2.75"/><circle cx="554.9" cy="226.6" r="2.75"/><circle cx="559.9" cy="213.7" r="2.75"/><circle cx="558.5" cy="218.9" r="2.75"/><circle cx="561.8" cy="223.7" r="2.75"/><circle cx="559.7" cy="226.2" r="2.75"/><circle cx="558.4" cy="228.9" r="2.75"/><circle cx="559.4" cy="232.3" r="2.75"/><circle cx="558.3" cy="238.3" r="2.75"/><circle cx="562.1" cy="213.5" r="2.75"/><circle cx="564.8" cy="220.1" r="2.75"/><circle cx="562.2" cy="222.2" r="2.75"/><circle cx="565.4" cy="225.3" r="2.75"/><circle cx="565.2" cy="231.7" r="2.75"/><circle cx="564.0" cy="233.4" r="2.75"/><circle cx="566.1" cy="215.8" r="2.75"/><circle cx="566.3" cy="219.6" r="2.75"/><circle cx="568.2" cy="224.1" r="2.75"/><circle cx="567.9" cy="225.8" r="2.75"/><circle cx="567.5" cy="231.9" r="2.75"/><circle cx="566.7" cy="234.6" r="2.75"/><circle cx="569.5" cy="216.0" r="2.75"/><circle cx="572.7" cy="219.6" r="2.75"/><circle cx="570.5" cy="230.1" r="2.75"/><circle cx="571.8" cy="234.2" r="2.75"/><circle cx="575.1" cy="223.7" r="2.75"/><circle cx="574.5" cy="225.6" r="2.75"/><circle cx="574.4" cy="229.4" r="2.75"/><circle cx="577.0" cy="219.7" r="2.75"/><circle cx="579.5" cy="226.2" r="2.75"/><circle cx="577.3" cy="233.3" r="2.75"/><circle cx="582.7" cy="222.6" r="2.75"/><circle cx="582.8" cy="225.8" r="2.75"/><circle cx="545.0" cy="319.5" r="2.75"/><circle cx="547.5" cy="316.8" r="2.75"/><circle cx="553.4" cy="311.6" r="2.75"/><circle cx="658.6" cy="132.0" r="2.75"/><circle cx="659.2" cy="132.7" r="2.75"/><circle cx="658.3" cy="142.6" r="2.75"/><circle cx="658.9" cy="146.8" r="2.75"/><circle cx="659.0" cy="151.6" r="2.75"/><circle cx="659.5" cy="155.1" r="2.75"/><circle cx="661.4" cy="120.2" r="2.75"/><circle cx="662.0" cy="121.6" r="2.75"/><circle cx="659.8" cy="124.2" r="2.75"/><circle cx="662.0" cy="126.7" r="2.75"/><circle cx="659.8" cy="129.3" r="2.75"/><circle cx="662.3" cy="133.9" r="2.75"/><circle cx="661.5" cy="136.5" r="2.75"/><circle cx="660.7" cy="140.3" r="2.75"/><circle cx="660.5" cy="142.5" r="2.75"/><circle cx="661.1" cy="145.1" r="2.75"/><circle cx="660.3" cy="147.8" r="2.75"/><circle cx="661.1" cy="150.8" r="2.75"/><circle cx="660.9" cy="152.6" r="2.75"/><circle cx="662.2" cy="158.3" r="2.75"/><circle cx="662.3" cy="160.1" r="2.75"/><circle cx="662.3" cy="166.4" r="2.75"/><circle cx="664.3" cy="120.4" r="2.75"/><circle cx="663.5" cy="125.8" r="2.75"/><circle cx="663.1" cy="126.6" r="2.75"/><circle cx="662.7" cy="130.4" r="2.75"/><circle cx="664.8" cy="132.8" r="2.75"/><circle cx="663.8" cy="137.0" r="2.75"/><circle cx="665.4" cy="139.7" r="2.75"/><circle cx="662.8" cy="141.0" r="2.75"/><circle cx="662.8" cy="151.7" r="2.75"/><circle cx="662.8" cy="153.6" r="2.75"/><circle cx="663.0" cy="159.9" r="2.75"/><circle cx="663.9" cy="165.1" r="2.75"/><circle cx="663.4" cy="169.7" r="2.75"/><circle cx="667.7" cy="117.2" r="2.75"/><circle cx="666.7" cy="125.4" r="2.75"/><circle cx="667.8" cy="132.1" r="2.75"/><circle cx="667.0" cy="134.5" r="2.75"/><circle cx="667.1" cy="138.9" r="2.75"/><circle cx="667.0" cy="142.5" r="2.75"/><circle cx="665.4" cy="144.6" r="2.75"/><circle cx="667.4" cy="148.3" r="2.75"/><circle cx="666.9" cy="154.1" r="2.75"/><circle cx="668.1" cy="156.2" r="2.75"/><circle cx="667.2" cy="159.2" r="2.75"/><circle cx="666.5" cy="164.4" r="2.75"/><circle cx="666.8" cy="169.6" r="2.75"/><circle cx="665.6" cy="172.0" r="2.75"/><circle cx="668.2" cy="180.4" r="2.75"/><circle cx="669.0" cy="115.9" r="2.75"/><circle cx="670.6" cy="119.2" r="2.75"/><circle cx="670.1" cy="122.3" r="2.75"/><circle cx="669.3" cy="125.7" r="2.75"/><circle cx="669.3" cy="129.0" r="2.75"/><circle cx="670.6" cy="130.2" r="2.75"/><circle cx="671.0" cy="134.0" r="2.75"/><circle cx="669.8" cy="135.2" r="2.75"/><circle cx="670.0" cy="138.3" r="2.75"/><circle cx="669.5" cy="142.1" r="2.75"/><circle cx="670.3" cy="144.9" r="2.75"/><circle cx="669.6" cy="146.8" r="2.75"/><circle cx="668.4" cy="150.8" r="2.75"/><circle cx="669.0" cy="157.0" r="2.75"/><circle cx="670.4" cy="160.2" r="2.75"/><circle cx="669.4" cy="169.8" r="2.75"/><circle cx="668.9" cy="171.0" r="2.75"/><circle cx="669.7" cy="173.3" r="2.75"/><circle cx="670.5" cy="176.4" r="2.75"/><circle cx="671.2" cy="179.0" r="2.75"/><circle cx="673.4" cy="115.9" r="2.75"/><circle cx="672.2" cy="120.8" r="2.75"/><circle cx="674.2" cy="125.1" r="2.75"/><circle cx="673.4" cy="126.6" r="2.75"/><circle cx="672.5" cy="131.5" r="2.75"/><circle cx="672.0" cy="133.9" r="2.75"/><circle cx="671.4" cy="137.8" r="2.75"/><circle cx="673.8" cy="145.6" r="2.75"/><circle cx="673.9" cy="147.7" r="2.75"/><circle cx="672.6" cy="153.1" r="2.75"/><circle cx="672.5" cy="157.9" r="2.75"/><circle cx="674.1" cy="160.0" r="2.75"/><circle cx="673.0" cy="164.2" r="2.75"/><circle cx="671.6" cy="167.9" r="2.75"/><circle cx="671.9" cy="172.2" r="2.75"/><circle cx="673.7" cy="175.4" r="2.75"/><circle cx="671.8" cy="183.1" r="2.75"/><circle cx="675.3" cy="116.0" r="2.75"/><circle cx="675.4" cy="117.6" r="2.75"/><circle cx="676.7" cy="123.1" r="2.75"/><circle cx="676.6" cy="125.2" r="2.75"/><circle cx="676.3" cy="126.3" r="2.75"/><circle cx="676.5" cy="132.1" r="2.75"/><circle cx="676.4" cy="137.4" r="2.75"/><circle cx="675.8" cy="143.7" r="2.75"/><circle cx="675.5" cy="145.7" r="2.75"/><circle cx="674.7" cy="147.5" r="2.75"/><circle cx="675.9" cy="151.7" r="2.75"/><circle cx="674.9" cy="153.6" r="2.75"/><circle cx="674.8" cy="157.4" r="2.75"/><circle cx="676.2" cy="159.3" r="2.75"/><circle cx="676.5" cy="167.0" r="2.75"/><circle cx="674.9" cy="167.7" r="2.75"/><circle cx="675.3" cy="172.1" r="2.75"/><circle cx="677.0" cy="176.0" r="2.75"/><circle cx="675.3" cy="184.1" r="2.75"/><circle cx="678.9" cy="127.8" r="2.75"/><circle cx="678.6" cy="131.4" r="2.75"/><circle cx="678.2" cy="134.9" r="2.75"/><circle cx="678.2" cy="138.2" r="2.75"/><circle cx="677.9" cy="143.7" r="2.75"/><circle cx="677.1" cy="150.7" r="2.75"/><circle cx="678.0" cy="153.2" r="2.75"/><circle cx="679.2" cy="155.8" r="2.75"/><circle cx="678.1" cy="159.5" r="2.75"/><circle cx="677.7" cy="163.8" r="2.75"/><circle cx="679.3" cy="164.6" r="2.75"/><circle cx="678.3" cy="167.9" r="2.75"/><circle cx="677.9" cy="170.1" r="2.75"/><circle cx="678.5" cy="174.6" r="2.75"/><circle cx="679.9" cy="178.3" r="2.75"/><circle cx="677.7" cy="180.2" r="2.75"/><circle cx="678.1" cy="184.1" r="2.75"/><circle cx="677.2" cy="186.6" r="2.75"/><circle cx="682.7" cy="114.3" r="2.75"/><circle cx="681.6" cy="120.3" r="2.75"/><circle cx="682.7" cy="121.8" r="2.75"/><circle cx="681.6" cy="125.0" r="2.75"/><circle cx="682.9" cy="127.2" r="2.75"/><circle cx="681.3" cy="131.4" r="2.75"/><circle cx="680.9" cy="134.0" r="2.75"/><circle cx="680.4" cy="137.5" r="2.75"/><circle cx="682.2" cy="138.5" r="2.75"/><circle cx="681.5" cy="146.9" r="2.75"/><circle cx="682.1" cy="149.6" r="2.75"/><circle cx="682.0" cy="153.6" r="2.75"/><circle cx="680.2" cy="155.6" r="2.75"/><circle cx="680.6" cy="159.4" r="2.75"/><circle cx="681.6" cy="163.3" r="2.75"/><circle cx="681.7" cy="164.2" r="2.75"/><circle cx="682.5" cy="169.8" r="2.75"/><circle cx="682.8" cy="171.5" r="2.75"/><circle cx="680.2" cy="178.0" r="2.75"/><circle cx="682.5" cy="181.1" r="2.75"/><circle cx="680.6" cy="183.8" r="2.75"/><circle cx="680.7" cy="189.6" r="2.75"/><circle cx="683.4" cy="118.2" r="2.75"/><circle cx="684.7" cy="124.8" r="2.75"/><circle cx="683.1" cy="131.8" r="2.75"/><circle cx="683.8" cy="137.9" r="2.75"/><circle cx="684.9" cy="142.4" r="2.75"/><circle cx="685.0" cy="144.4" r="2.75"/><circle cx="683.4" cy="148.0" r="2.75"/><circle cx="685.5" cy="149.6" r="2.75"/><circle cx="685.0" cy="152.8" r="2.75"/><circle cx="685.0" cy="160.7" r="2.75"/><circle cx="685.7" cy="163.0" r="2.75"/><circle cx="684.5" cy="167.5" r="2.75"/><circle cx="684.2" cy="175.8" r="2.75"/><circle cx="684.4" cy="177.1" r="2.75"/><circle cx="683.2" cy="178.8" r="2.75"/><circle cx="684.3" cy="183.4" r="2.75"/><circle cx="684.8" cy="191.1" r="2.75"/><circle cx="688.1" cy="116.8" r="2.75"/><circle cx="688.7" cy="119.2" r="2.75"/><circle cx="688.1" cy="122.9" r="2.75"/><circle cx="687.1" cy="124.0" r="2.75"/><circle cx="687.0" cy="127.4" r="2.75"/><circle cx="687.0" cy="131.8" r="2.75"/><circle cx="688.4" cy="134.6" r="2.75"/><circle cx="687.4" cy="137.8" r="2.75"/><circle cx="686.0" cy="140.3" r="2.75"/><circle cx="688.4" cy="143.2" r="2.75"/><circle cx="688.6" cy="152.0" r="2.75"/><circle cx="687.7" cy="155.0" r="2.75"/><circle cx="686.4" cy="164.3" r="2.75"/><circle cx="686.5" cy="167.6" r="2.75"/><circle cx="688.2" cy="170.9" r="2.75"/><circle cx="688.2" cy="175.0" r="2.75"/><circle cx="687.9" cy="184.4" r="2.75"/><circle cx="687.4" cy="189.6" r="2.75"/><circle cx="690.4" cy="116.8" r="2.75"/><circle cx="690.6" cy="119.5" r="2.75"/><circle cx="690.6" cy="123.0" r="2.75"/><circle cx="689.9" cy="124.9" r="2.75"/><circle cx="691.0" cy="126.7" r="2.75"/><circle cx="690.7" cy="130.3" r="2.75"/><circle cx="691.1" cy="132.3" r="2.75"/><circle cx="689.6" cy="136.8" r="2.75"/><circle cx="689.9" cy="140.1" r="2.75"/><circle cx="689.3" cy="148.6" r="2.75"/><circle cx="689.4" cy="151.1" r="2.75"/><circle cx="690.8" cy="153.2" r="2.75"/><circle cx="689.8" cy="160.2" r="2.75"/><circle cx="689.0" cy="164.0" r="2.75"/><circle cx="691.5" cy="166.1" r="2.75"/><circle cx="689.4" cy="167.7" r="2.75"/><circle cx="690.1" cy="170.6" r="2.75"/><circle cx="690.7" cy="173.4" r="2.75"/><circle cx="689.3" cy="177.6" r="2.75"/><circle cx="689.0" cy="184.4" r="2.75"/><circle cx="690.6" cy="189.7" r="2.75"/><circle cx="691.2" cy="193.6" r="2.75"/><circle cx="692.5" cy="115.3" r="2.75"/><circle cx="694.4" cy="117.6" r="2.75"/><circle cx="694.4" cy="121.4" r="2.75"/><circle cx="692.0" cy="128.5" r="2.75"/><circle cx="692.2" cy="135.8" r="2.75"/><circle cx="693.4" cy="138.8" r="2.75"/><circle cx="693.1" cy="141.8" r="2.75"/><circle cx="693.8" cy="143.8" r="2.75"/><circle cx="693.2" cy="155.0" r="2.75"/><circle cx="693.9" cy="157.9" r="2.75"/><circle cx="693.5" cy="159.2" r="2.75"/><circle cx="693.3" cy="162.7" r="2.75"/><circle cx="693.1" cy="166.9" r="2.75"/><circle cx="693.5" cy="169.4" r="2.75"/><circle cx="692.7" cy="170.3" r="2.75"/><circle cx="692.4" cy="174.3" r="2.75"/><circle cx="692.5" cy="178.0" r="2.75"/><circle cx="692.9" cy="180.2" r="2.75"/><circle cx="694.1" cy="187.2" r="2.75"/><circle cx="694.3" cy="187.6" r="2.75"/><circle cx="696.4" cy="125.9" r="2.75"/><circle cx="695.4" cy="128.2" r="2.75"/><circle cx="695.5" cy="132.1" r="2.75"/><circle cx="696.9" cy="146.0" r="2.75"/><circle cx="695.0" cy="149.3" r="2.75"/><circle cx="696.8" cy="150.2" r="2.75"/><circle cx="695.9" cy="153.9" r="2.75"/><circle cx="695.2" cy="156.4" r="2.75"/><circle cx="697.4" cy="158.7" r="2.75"/><circle cx="697.3" cy="161.9" r="2.75"/><circle cx="696.1" cy="167.1" r="2.75"/><circle cx="696.7" cy="174.3" r="2.75"/><circle cx="696.7" cy="175.9" r="2.75"/><circle cx="694.8" cy="180.3" r="2.75"/><circle cx="697.5" cy="182.1" r="2.75"/><circle cx="695.4" cy="186.6" r="2.75"/><circle cx="697.0" cy="192.8" r="2.75"/><circle cx="697.1" cy="195.1" r="2.75"/><circle cx="698.3" cy="118.3" r="2.75"/><circle cx="699.3" cy="120.9" r="2.75"/><circle cx="698.3" cy="127.3" r="2.75"/><circle cx="699.2" cy="130.2" r="2.75"/><circle cx="698.7" cy="133.9" r="2.75"/><circle cx="699.3" cy="136.6" r="2.75"/><circle cx="699.2" cy="140.5" r="2.75"/><circle cx="698.1" cy="141.4" r="2.75"/><circle cx="697.9" cy="145.2" r="2.75"/><circle cx="699.7" cy="150.2" r="2.75"/><circle cx="698.6" cy="159.4" r="2.75"/><circle cx="698.8" cy="165.2" r="2.75"/><circle cx="700.2" cy="170.5" r="2.75"/><circle cx="697.9" cy="175.2" r="2.75"/><circle cx="700.4" cy="176.7" r="2.75"/><circle cx="698.4" cy="181.7" r="2.75"/><circle cx="697.6" cy="187.4" r="2.75"/><circle cx="698.9" cy="190.7" r="2.75"/><circle cx="700.0" cy="194.3" r="2.75"/><circle cx="703.1" cy="123.1" r="2.75"/><circle cx="702.6" cy="133.8" r="2.75"/><circle cx="701.0" cy="137.2" r="2.75"/><circle cx="703.2" cy="141.3" r="2.75"/><circle cx="700.8" cy="144.6" r="2.75"/><circle cx="702.9" cy="148.7" r="2.75"/><circle cx="701.1" cy="158.5" r="2.75"/><circle cx="701.2" cy="163.6" r="2.75"/><circle cx="701.0" cy="169.3" r="2.75"/><circle cx="701.4" cy="176.0" r="2.75"/><circle cx="700.9" cy="181.5" r="2.75"/><circle cx="701.8" cy="185.1" r="2.75"/><circle cx="702.6" cy="189.5" r="2.75"/><circle cx="703.2" cy="191.1" r="2.75"/><circle cx="702.2" cy="193.9" r="2.75"/><circle cx="705.9" cy="118.6" r="2.75"/><circle cx="704.7" cy="120.6" r="2.75"/><circle cx="705.6" cy="124.0" r="2.75"/><circle cx="704.3" cy="132.3" r="2.75"/><circle cx="705.4" cy="136.9" r="2.75"/><circle cx="705.5" cy="140.7" r="2.75"/><circle cx="705.5" cy="141.1" r="2.75"/><circle cx="705.9" cy="144.3" r="2.75"/><circle cx="705.7" cy="149.0" r="2.75"/><circle cx="705.6" cy="150.9" r="2.75"/><circle cx="705.3" cy="153.1" r="2.75"/><circle cx="703.7" cy="157.0" r="2.75"/><circle cx="703.5" cy="160.7" r="2.75"/><circle cx="705.6" cy="162.8" r="2.75"/><circle cx="705.2" cy="164.7" r="2.75"/><circle cx="704.4" cy="172.6" r="2.75"/><circle cx="705.9" cy="173.0" r="2.75"/><circle cx="704.4" cy="178.4" r="2.75"/><circle cx="704.7" cy="180.1" r="2.75"/><circle cx="705.2" cy="186.8" r="2.75"/><circle cx="705.4" cy="192.8" r="2.75"/><circle cx="705.5" cy="194.1" r="2.75"/><circle cx="704.8" cy="196.7" r="2.75"/><circle cx="708.3" cy="122.8" r="2.75"/><circle cx="707.7" cy="131.6" r="2.75"/><circle cx="706.2" cy="133.2" r="2.75"/><circle cx="706.9" cy="140.8" r="2.75"/><circle cx="706.6" cy="140.9" r="2.75"/><circle cx="708.1" cy="145.7" r="2.75"/><circle cx="706.8" cy="148.4" r="2.75"/><circle cx="707.9" cy="152.4" r="2.75"/><circle cx="707.3" cy="152.5" r="2.75"/><circle cx="709.0" cy="156.4" r="2.75"/><circle cx="708.3" cy="161.6" r="2.75"/><circle cx="708.1" cy="166.0" r="2.75"/><circle cx="707.9" cy="168.2" r="2.75"/><circle cx="707.1" cy="171.7" r="2.75"/><circle cx="708.5" cy="175.0" r="2.75"/><circle cx="708.3" cy="178.2" r="2.75"/><circle cx="708.0" cy="179.7" r="2.75"/><circle cx="708.1" cy="183.1" r="2.75"/><circle cx="707.8" cy="193.0" r="2.75"/><circle cx="706.3" cy="197.5" r="2.75"/><circle cx="711.3" cy="123.4" r="2.75"/><circle cx="709.6" cy="146.2" r="2.75"/><circle cx="710.4" cy="149.3" r="2.75"/><circle cx="709.9" cy="152.0" r="2.75"/><circle cx="710.8" cy="156.4" r="2.75"/><circle cx="709.5" cy="162.1" r="2.75"/><circle cx="711.6" cy="170.2" r="2.75"/><circle cx="711.2" cy="177.1" r="2.75"/><circle cx="711.4" cy="181.5" r="2.75"/><circle cx="710.0" cy="185.7" r="2.75"/><circle cx="712.0" cy="189.2" r="2.75"/><circle cx="709.3" cy="194.4" r="2.75"/><circle cx="714.6" cy="124.7" r="2.75"/><circle cx="714.2" cy="128.2" r="2.75"/><circle cx="713.7" cy="131.4" r="2.75"/><circle cx="712.5" cy="137.4" r="2.75"/><circle cx="715.0" cy="140.2" r="2.75"/><circle cx="713.1" cy="145.0" r="2.75"/><circle cx="713.6" cy="149.9" r="2.75"/><circle cx="714.4" cy="154.5" r="2.75"/><circle cx="714.9" cy="156.2" r="2.75"/><circle cx="712.9" cy="164.4" r="2.75"/><circle cx="714.1" cy="169.0" r="2.75"/><circle cx="713.7" cy="180.8" r="2.75"/><circle cx="712.7" cy="182.7" r="2.75"/><circle cx="714.2" cy="184.9" r="2.75"/><circle cx="712.4" cy="188.2" r="2.75"/><circle cx="713.8" cy="190.6" r="2.75"/><circle cx="713.1" cy="196.1" r="2.75"/><circle cx="714.6" cy="196.9" r="2.75"/><circle cx="717.8" cy="122.7" r="2.75"/><circle cx="716.6" cy="123.5" r="2.75"/><circle cx="715.3" cy="126.6" r="2.75"/><circle cx="715.0" cy="129.4" r="2.75"/><circle cx="717.4" cy="134.5" r="2.75"/><circle cx="717.1" cy="135.6" r="2.75"/><circle cx="716.7" cy="138.7" r="2.75"/><circle cx="716.4" cy="143.7" r="2.75"/><circle cx="716.0" cy="146.3" r="2.75"/><circle cx="717.7" cy="148.9" r="2.75"/><circle cx="717.2" cy="152.4" r="2.75"/><circle cx="715.3" cy="155.4" r="2.75"/><circle cx="715.7" cy="159.5" r="2.75"/><circle cx="715.9" cy="164.8" r="2.75"/><circle cx="716.0" cy="167.8" r="2.75"/><circle cx="715.2" cy="175.5" r="2.75"/><circle cx="715.5" cy="178.7" r="2.75"/><circle cx="715.0" cy="179.3" r="2.75"/><circle cx="716.9" cy="186.5" r="2.75"/><circle cx="716.2" cy="188.6" r="2.75"/><circle cx="717.1" cy="192.2" r="2.75"/><circle cx="716.3" cy="194.0" r="2.75"/><circle cx="718.8" cy="122.2" r="2.75"/><circle cx="719.3" cy="123.8" r="2.75"/><circle cx="719.7" cy="127.7" r="2.75"/><circle cx="718.7" cy="131.0" r="2.75"/><circle cx="720.5" cy="132.8" r="2.75"/><circle cx="720.1" cy="136.8" r="2.75"/><circle cx="717.9" cy="140.6" r="2.75"/><circle cx="718.2" cy="141.2" r="2.75"/><circle cx="720.0" cy="144.0" r="2.75"/><circle cx="719.9" cy="149.5" r="2.75"/><circle cx="718.8" cy="154.9" r="2.75"/><circle cx="718.1" cy="166.2" r="2.75"/><circle cx="718.4" cy="168.8" r="2.75"/><circle cx="719.1" cy="170.7" r="2.75"/><circle cx="719.4" cy="173.3" r="2.75"/><circle cx="718.7" cy="179.6" r="2.75"/><circle cx="718.9" cy="184.3" r="2.75"/><circle cx="717.9" cy="187.0" r="2.75"/><circle cx="720.3" cy="189.9" r="2.75"/><circle cx="720.1" cy="190.7" r="2.75"/><circle cx="718.4" cy="193.7" r="2.75"/><circle cx="719.2" cy="198.5" r="2.75"/><circle cx="722.7" cy="124.2" r="2.75"/><circle cx="722.2" cy="130.8" r="2.75"/><circle cx="723.3" cy="134.3" r="2.75"/><circle cx="721.8" cy="135.8" r="2.75"/><circle cx="723.5" cy="138.6" r="2.75"/><circle cx="723.1" cy="143.7" r="2.75"/><circle cx="721.9" cy="146.0" r="2.75"/><circle cx="722.7" cy="146.7" r="2.75"/><circle cx="721.7" cy="151.6" r="2.75"/><circle cx="721.8" cy="153.5" r="2.75"/><circle cx="722.3" cy="156.8" r="2.75"/><circle cx="723.6" cy="162.2" r="2.75"/><circle cx="722.5" cy="164.2" r="2.75"/><circle cx="722.8" cy="167.7" r="2.75"/><circle cx="721.6" cy="170.2" r="2.75"/><circle cx="721.8" cy="175.2" r="2.75"/><circle cx="722.8" cy="181.1" r="2.75"/><circle cx="722.9" cy="182.5" r="2.75"/><circle cx="721.0" cy="187.8" r="2.75"/><circle cx="721.3" cy="192.4" r="2.75"/><circle cx="722.5" cy="195.5" r="2.75"/><circle cx="724.3" cy="126.6" r="2.75"/><circle cx="725.6" cy="131.2" r="2.75"/><circle cx="725.2" cy="134.0" r="2.75"/><circle cx="724.7" cy="135.7" r="2.75"/><circle cx="724.5" cy="139.2" r="2.75"/><circle cx="724.3" cy="142.8" r="2.75"/><circle cx="726.1" cy="146.1" r="2.75"/><circle cx="724.6" cy="149.0" r="2.75"/><circle cx="725.3" cy="151.6" r="2.75"/><circle cx="725.0" cy="157.0" r="2.75"/><circle cx="724.7" cy="160.6" r="2.75"/><circle cx="726.1" cy="163.9" r="2.75"/><circle cx="724.4" cy="164.3" r="2.75"/><circle cx="724.8" cy="169.6" r="2.75"/><circle cx="725.8" cy="173.3" r="2.75"/><circle cx="725.0" cy="177.7" r="2.75"/><circle cx="725.7" cy="180.8" r="2.75"/><circle cx="723.7" cy="183.5" r="2.75"/><circle cx="725.8" cy="185.6" r="2.75"/><circle cx="726.0" cy="188.3" r="2.75"/><circle cx="725.4" cy="191.8" r="2.75"/><circle cx="725.4" cy="194.0" r="2.75"/><circle cx="729.1" cy="131.7" r="2.75"/><circle cx="727.7" cy="134.5" r="2.75"/><circle cx="728.5" cy="136.2" r="2.75"/><circle cx="726.7" cy="139.8" r="2.75"/><circle cx="729.1" cy="143.7" r="2.75"/><circle cx="727.7" cy="145.0" r="2.75"/><circle cx="728.3" cy="148.5" r="2.75"/><circle cx="728.6" cy="150.3" r="2.75"/><circle cx="728.3" cy="154.3" r="2.75"/><circle cx="727.6" cy="155.8" r="2.75"/><circle cx="728.0" cy="162.7" r="2.75"/><circle cx="727.8" cy="167.2" r="2.75"/><circle cx="728.9" cy="170.5" r="2.75"/><circle cx="726.7" cy="174.5" r="2.75"/><circle cx="726.9" cy="178.9" r="2.75"/><circle cx="729.5" cy="182.9" r="2.75"/><circle cx="728.5" cy="186.0" r="2.75"/><circle cx="729.3" cy="188.5" r="2.75"/><circle cx="727.0" cy="192.4" r="2.75"/><circle cx="726.8" cy="193.6" r="2.75"/><circle cx="731.8" cy="131.3" r="2.75"/><circle cx="731.4" cy="139.1" r="2.75"/><circle cx="731.2" cy="142.4" r="2.75"/><circle cx="730.3" cy="145.2" r="2.75"/><circle cx="729.8" cy="148.0" r="2.75"/><circle cx="731.4" cy="150.5" r="2.75"/><circle cx="732.3" cy="155.8" r="2.75"/><circle cx="731.4" cy="159.5" r="2.75"/><circle cx="729.9" cy="162.8" r="2.75"/><circle cx="731.5" cy="165.5" r="2.75"/><circle cx="731.5" cy="170.7" r="2.75"/><circle cx="730.8" cy="178.2" r="2.75"/><circle cx="730.6" cy="181.5" r="2.75"/><circle cx="730.8" cy="183.4" r="2.75"/><circle cx="729.6" cy="188.1" r="2.75"/><circle cx="732.6" cy="130.6" r="2.75"/><circle cx="733.6" cy="138.2" r="2.75"/><circle cx="734.7" cy="144.1" r="2.75"/><circle cx="734.3" cy="148.7" r="2.75"/><circle cx="734.8" cy="150.6" r="2.75"/><circle cx="735.4" cy="152.6" r="2.75"/><circle cx="733.5" cy="161.0" r="2.75"/><circle cx="733.0" cy="164.1" r="2.75"/><circle cx="733.4" cy="166.9" r="2.75"/><circle cx="734.2" cy="169.5" r="2.75"/><circle cx="734.0" cy="170.6" r="2.75"/><circle cx="734.7" cy="175.2" r="2.75"/><circle cx="733.4" cy="176.8" r="2.75"/><circle cx="732.9" cy="180.9" r="2.75"/><circle cx="734.1" cy="182.2" r="2.75"/><circle cx="736.2" cy="137.7" r="2.75"/><circle cx="736.2" cy="140.1" r="2.75"/><circle cx="738.1" cy="143.4" r="2.75"/><circle cx="737.1" cy="144.1" r="2.75"/><circle cx="738.0" cy="155.3" r="2.75"/><circle cx="735.6" cy="156.6" r="2.75"/><circle cx="736.5" cy="161.1" r="2.75"/><circle cx="737.6" cy="161.8" r="2.75"/><circle cx="738.2" cy="167.0" r="2.75"/><circle cx="736.6" cy="169.3" r="2.75"/><circle cx="737.6" cy="170.6" r="2.75"/><circle cx="736.2" cy="174.5" r="2.75"/><circle cx="737.8" cy="177.8" r="2.75"/><circle cx="737.2" cy="184.3" r="2.75"/><circle cx="739.1" cy="145.2" r="2.75"/><circle cx="739.6" cy="150.2" r="2.75"/><circle cx="739.9" cy="153.8" r="2.75"/><circle cx="740.3" cy="157.1" r="2.75"/><circle cx="740.4" cy="164.1" r="2.75"/><circle cx="740.9" cy="164.3" r="2.75"/><circle cx="740.9" cy="168.4" r="2.75"/><circle cx="740.8" cy="175.4" r="2.75"/><circle cx="740.6" cy="176.7" r="2.75"/><circle cx="740.8" cy="179.4" r="2.75"/><circle cx="741.5" cy="156.7" r="2.75"/><circle cx="741.7" cy="170.9" r="2.75"/><circle cx="742.4" cy="173.4" r="2.75"/><circle cx="742.1" cy="177.5" r="2.75"/><circle cx="744.4" cy="170.4" r="2.75"/><circle cx="710.4" cy="205.6" r="2.75"/><circle cx="710.4" cy="216.0" r="2.75"/><circle cx="709.6" cy="219.1" r="2.75"/><circle cx="713.6" cy="200.5" r="2.75"/><circle cx="712.0" cy="214.3" r="2.75"/><circle cx="711.6" cy="220.8" r="2.75"/><circle cx="715.6" cy="201.7" r="2.75"/><circle cx="716.9" cy="216.3" r="2.75"/><circle cx="716.3" cy="221.0" r="2.75"/><circle cx="717.0" cy="222.7" r="2.75"/><circle cx="720.8" cy="193.0" r="2.75"/><circle cx="721.4" cy="201.2" r="2.75"/><circle cx="718.6" cy="212.1" r="2.75"/><circle cx="719.2" cy="215.2" r="2.75"/><circle cx="719.3" cy="226.1" r="2.75"/><circle cx="725.2" cy="191.5" r="2.75"/><circle cx="725.6" cy="202.3" r="2.75"/><circle cx="725.7" cy="206.2" r="2.75"/><circle cx="723.7" cy="206.9" r="2.75"/><circle cx="721.9" cy="213.5" r="2.75"/><circle cx="723.7" cy="217.1" r="2.75"/><circle cx="722.5" cy="219.6" r="2.75"/><circle cx="725.1" cy="222.7" r="2.75"/><circle cx="723.9" cy="234.0" r="2.75"/><circle cx="728.4" cy="198.3" r="2.75"/><circle cx="727.2" cy="201.4" r="2.75"/><circle cx="725.7" cy="212.0" r="2.75"/><circle cx="725.9" cy="217.5" r="2.75"/><circle cx="726.9" cy="218.1" r="2.75"/><circle cx="731.0" cy="186.7" r="2.75"/><circle cx="730.3" cy="188.8" r="2.75"/><circle cx="732.8" cy="199.6" r="2.75"/><circle cx="733.2" cy="219.8" r="2.75"/><circle cx="731.4" cy="223.3" r="2.75"/><circle cx="731.5" cy="227.9" r="2.75"/><circle cx="729.8" cy="232.0" r="2.75"/><circle cx="733.1" cy="237.8" r="2.75"/><circle cx="736.6" cy="202.6" r="2.75"/><circle cx="734.3" cy="229.9" r="2.75"/><circle cx="739.8" cy="190.8" r="2.75"/><circle cx="739.7" cy="206.9" r="2.75"/><circle cx="740.0" cy="215.4" r="2.75"/><circle cx="737.1" cy="223.0" r="2.75"/><circle cx="739.0" cy="229.1" r="2.75"/><circle cx="737.3" cy="235.9" r="2.75"/><circle cx="738.4" cy="239.1" r="2.75"/><circle cx="744.0" cy="186.7" r="2.75"/><circle cx="744.3" cy="200.0" r="2.75"/><circle cx="742.8" cy="213.9" r="2.75"/><circle cx="744.1" cy="216.9" r="2.75"/><circle cx="741.8" cy="221.6" r="2.75"/><circle cx="744.5" cy="227.5" r="2.75"/><circle cx="744.5" cy="239.9" r="2.75"/><circle cx="747.6" cy="189.0" r="2.75"/><circle cx="747.5" cy="196.8" r="2.75"/><circle cx="745.1" cy="201.9" r="2.75"/><circle cx="747.8" cy="203.5" r="2.75"/><circle cx="748.4" cy="209.9" r="2.75"/><circle cx="744.7" cy="220.2" r="2.75"/><circle cx="744.7" cy="222.8" r="2.75"/><circle cx="746.9" cy="228.2" r="2.75"/><circle cx="747.1" cy="235.3" r="2.75"/><circle cx="745.1" cy="237.4" r="2.75"/><circle cx="750.3" cy="183.8" r="2.75"/><circle cx="749.3" cy="190.3" r="2.75"/><circle cx="749.8" cy="197.1" r="2.75"/><circle cx="748.7" cy="204.5" r="2.75"/><circle cx="752.0" cy="217.8" r="2.75"/><circle cx="750.3" cy="222.2" r="2.75"/><circle cx="750.8" cy="231.3" r="2.75"/><circle cx="750.0" cy="242.8" r="2.75"/><circle cx="753.3" cy="188.3" r="2.75"/><circle cx="752.5" cy="195.4" r="2.75"/><circle cx="752.8" cy="203.2" r="2.75"/><circle cx="753.0" cy="208.9" r="2.75"/><circle cx="755.0" cy="213.0" r="2.75"/><circle cx="753.9" cy="216.5" r="2.75"/><circle cx="755.9" cy="223.6" r="2.75"/><circle cx="752.9" cy="236.1" r="2.75"/><circle cx="753.8" cy="242.8" r="2.75"/><circle cx="758.0" cy="195.6" r="2.75"/><circle cx="757.9" cy="202.3" r="2.75"/><circle cx="758.6" cy="208.2" r="2.75"/><circle cx="759.5" cy="224.1" r="2.75"/><circle cx="759.2" cy="230.7" r="2.75"/><circle cx="758.3" cy="239.2" r="2.75"/><circle cx="762.5" cy="206.1" r="2.75"/><circle cx="760.8" cy="212.8" r="2.75"/><circle cx="762.1" cy="219.4" r="2.75"/><circle cx="761.2" cy="224.5" r="2.75"/><circle cx="761.3" cy="227.4" r="2.75"/><circle cx="760.1" cy="242.5" r="2.75"/><circle cx="762.2" cy="246.4" r="2.75"/><circle cx="765.6" cy="200.9" r="2.75"/><circle cx="765.5" cy="207.4" r="2.75"/><circle cx="765.6" cy="213.3" r="2.75"/><circle cx="764.8" cy="222.2" r="2.75"/><circle cx="767.2" cy="233.1" r="2.75"/><circle cx="767.0" cy="234.8" r="2.75"/><circle cx="767.1" cy="252.3" r="2.75"/><circle cx="769.2" cy="203.9" r="2.75"/><circle cx="769.6" cy="208.9" r="2.75"/><circle cx="769.3" cy="212.4" r="2.75"/><circle cx="770.0" cy="223.9" r="2.75"/><circle cx="769.3" cy="234.1" r="2.75"/><circle cx="767.6" cy="237.5" r="2.75"/><circle cx="769.5" cy="242.7" r="2.75"/><circle cx="771.1" cy="246.5" r="2.75"/><circle cx="770.8" cy="248.8" r="2.75"/><circle cx="767.9" cy="252.4" r="2.75"/><circle cx="768.8" cy="262.4" r="2.75"/><circle cx="771.3" cy="213.4" r="2.75"/><circle cx="773.2" cy="217.8" r="2.75"/><circle cx="773.8" cy="236.7" r="2.75"/><circle cx="772.1" cy="240.1" r="2.75"/><circle cx="771.4" cy="244.0" r="2.75"/><circle cx="772.8" cy="247.4" r="2.75"/><circle cx="774.5" cy="251.8" r="2.75"/><circle cx="771.8" cy="253.5" r="2.75"/><circle cx="772.6" cy="258.7" r="2.75"/><circle cx="774.8" cy="269.0" r="2.75"/><circle cx="775.1" cy="203.0" r="2.75"/><circle cx="778.7" cy="215.6" r="2.75"/><circle cx="775.9" cy="223.9" r="2.75"/><circle cx="778.3" cy="226.7" r="2.75"/><circle cx="778.0" cy="269.1" r="2.75"/><circle cx="780.6" cy="205.3" r="2.75"/><circle cx="779.7" cy="211.9" r="2.75"/><circle cx="782.6" cy="217.5" r="2.75"/><circle cx="780.1" cy="221.5" r="2.75"/><circle cx="779.6" cy="228.8" r="2.75"/><circle cx="782.4" cy="239.5" r="2.75"/><circle cx="779.9" cy="250.9" r="2.75"/><circle cx="782.1" cy="256.0" r="2.75"/><circle cx="781.8" cy="260.3" r="2.75"/><circle cx="783.9" cy="208.7" r="2.75"/><circle cx="784.2" cy="220.4" r="2.75"/><circle cx="785.0" cy="239.5" r="2.75"/><circle cx="785.6" cy="250.4" r="2.75"/><circle cx="786.2" cy="253.6" r="2.75"/><circle cx="785.3" cy="257.6" r="2.75"/><circle cx="784.2" cy="267.5" r="2.75"/><circle cx="787.8" cy="210.7" r="2.75"/><circle cx="789.9" cy="215.2" r="2.75"/><circle cx="790.0" cy="221.1" r="2.75"/><circle cx="788.8" cy="227.8" r="2.75"/><circle cx="786.7" cy="230.2" r="2.75"/><circle cx="789.6" cy="234.2" r="2.75"/><circle cx="787.4" cy="240.7" r="2.75"/><circle cx="788.3" cy="247.6" r="2.75"/><circle cx="788.2" cy="254.5" r="2.75"/><circle cx="788.4" cy="257.6" r="2.75"/><circle cx="788.0" cy="267.0" r="2.75"/><circle cx="787.6" cy="274.7" r="2.75"/><circle cx="791.5" cy="208.1" r="2.75"/><circle cx="793.0" cy="211.8" r="2.75"/><circle cx="793.1" cy="215.8" r="2.75"/><circle cx="790.4" cy="225.9" r="2.75"/><circle cx="792.7" cy="235.8" r="2.75"/><circle cx="791.2" cy="247.8" r="2.75"/><circle cx="791.3" cy="250.6" r="2.75"/><circle cx="791.2" cy="259.8" r="2.75"/><circle cx="794.1" cy="213.9" r="2.75"/><circle cx="795.2" cy="215.0" r="2.75"/><circle cx="796.6" cy="227.7" r="2.75"/><circle cx="795.2" cy="239.4" r="2.75"/><circle cx="795.1" cy="241.7" r="2.75"/><circle cx="795.2" cy="251.6" r="2.75"/><circle cx="796.2" cy="253.1" r="2.75"/><circle cx="800.2" cy="211.7" r="2.75"/><circle cx="800.8" cy="229.3" r="2.75"/><circle cx="799.8" cy="232.5" r="2.75"/><circle cx="798.5" cy="238.5" r="2.75"/><circle cx="798.7" cy="241.3" r="2.75"/><circle cx="798.3" cy="244.7" r="2.75"/><circle cx="802.6" cy="215.2" r="2.75"/><circle cx="804.0" cy="218.7" r="2.75"/><circle cx="803.8" cy="224.3" r="2.75"/><circle cx="805.2" cy="228.8" r="2.75"/><circle cx="805.3" cy="242.3" r="2.75"/><circle cx="805.6" cy="223.5" r="2.75"/><circle cx="808.1" cy="226.9" r="2.75"/><circle cx="806.3" cy="232.4" r="2.75"/><circle cx="807.3" cy="246.2" r="2.75"/><circle cx="810.5" cy="216.3" r="2.75"/><circle cx="812.0" cy="221.6" r="2.75"/><circle cx="811.2" cy="225.5" r="2.75"/><circle cx="809.9" cy="232.6" r="2.75"/><circle cx="811.2" cy="241.5" r="2.75"/><circle cx="816.1" cy="215.0" r="2.75"/><circle cx="816.6" cy="224.5" r="2.75"/><circle cx="816.2" cy="231.1" r="2.75"/><circle cx="814.4" cy="234.0" r="2.75"/><circle cx="817.4" cy="216.1" r="2.75"/><circle cx="819.7" cy="221.0" r="2.75"/><circle cx="817.1" cy="225.1" r="2.75"/><circle cx="818.6" cy="227.1" r="2.75"/><circle cx="817.6" cy="236.3" r="2.75"/><circle cx="817.7" cy="239.1" r="2.75"/><circle cx="821.1" cy="215.7" r="2.75"/><circle cx="820.7" cy="226.3" r="2.75"/><circle cx="821.1" cy="235.3" r="2.75"/><circle cx="674.5" cy="209.4" r="2.75"/><circle cx="674.7" cy="223.5" r="2.75"/><circle cx="670.9" cy="226.8" r="2.75"/><circle cx="679.0" cy="194.3" r="2.75"/><circle cx="679.9" cy="199.4" r="2.75"/><circle cx="677.5" cy="200.5" r="2.75"/><circle cx="675.5" cy="212.5" r="2.75"/><circle cx="675.2" cy="227.3" r="2.75"/><circle cx="680.2" cy="197.2" r="2.75"/><circle cx="681.5" cy="207.0" r="2.75"/><circle cx="681.6" cy="210.9" r="2.75"/><circle cx="686.6" cy="195.7" r="2.75"/><circle cx="650.9" cy="240.6" r="2.75"/><circle cx="650.8" cy="245.3" r="2.75"/><circle cx="652.6" cy="240.8" r="2.75"/><circle cx="654.6" cy="243.7" r="2.75"/><circle cx="656.8" cy="246.5" r="2.75"/><circle cx="660.1" cy="252.6" r="2.75"/><circle cx="665.1" cy="232.9" r="2.75"/><circle cx="666.8" cy="230.1" r="2.75"/><circle cx="667.2" cy="236.8" r="2.75"/><circle cx="667.1" cy="238.2" r="2.75"/><circle cx="665.7" cy="244.8" r="2.75"/><circle cx="668.5" cy="249.3" r="2.75"/><circle cx="672.5" cy="230.2" r="2.75"/><circle cx="673.6" cy="236.9" r="2.75"/><circle cx="673.9" cy="240.4" r="2.75"/><circle cx="672.3" cy="248.0" r="2.75"/><circle cx="675.5" cy="237.1" r="2.75"/><circle cx="676.0" cy="244.2" r="2.75"/><circle cx="677.0" cy="249.1" r="2.75"/><circle cx="681.8" cy="232.0" r="2.75"/><circle cx="683.9" cy="236.1" r="2.75"/><circle cx="683.2" cy="240.1" r="2.75"/><circle cx="687.2" cy="232.4" r="2.75"/><circle cx="686.2" cy="241.7" r="2.75"/><circle cx="690.3" cy="227.9" r="2.75"/><circle cx="690.2" cy="240.8" r="2.75"/><circle cx="689.0" cy="247.9" r="2.75"/><circle cx="693.6" cy="226.0" r="2.75"/><circle cx="695.8" cy="230.2" r="2.75"/><circle cx="695.7" cy="241.5" r="2.75"/><circle cx="700.9" cy="231.7" r="2.75"/><circle cx="702.3" cy="234.7" r="2.75"/><circle cx="700.5" cy="238.1" r="2.75"/><circle cx="700.4" cy="243.7" r="2.75"/><circle cx="699.8" cy="248.3" r="2.75"/><circle cx="702.8" cy="226.2" r="2.75"/><circle cx="705.6" cy="236.6" r="2.75"/><circle cx="711.7" cy="231.3" r="2.75"/><circle cx="708.4" cy="236.6" r="2.75"/><circle cx="707.9" cy="239.9" r="2.75"/><circle cx="712.7" cy="231.3" r="2.75"/><circle cx="713.0" cy="239.7" r="2.75"/><circle cx="788.9" cy="278.8" r="2.75"/><circle cx="789.5" cy="281.9" r="2.75"/><circle cx="789.4" cy="282.4" r="2.75"/><circle cx="788.4" cy="289.3" r="2.75"/><circle cx="792.2" cy="273.7" r="2.75"/><circle cx="791.9" cy="277.6" r="2.75"/><circle cx="790.1" cy="281.5" r="2.75"/><circle cx="791.8" cy="283.4" r="2.75"/><circle cx="792.7" cy="285.3" r="2.75"/><circle cx="794.5" cy="274.2" r="2.75"/><circle cx="794.3" cy="276.9" r="2.75"/><circle cx="794.0" cy="290.6" r="2.75"/><circle cx="798.7" cy="283.1" r="2.75"/><circle cx="795.9" cy="288.1" r="2.75"/><circle cx="798.7" cy="288.7" r="2.75"/><circle cx="797.0" cy="293.6" r="2.75"/><circle cx="797.7" cy="294.6" r="2.75"/><circle cx="799.1" cy="277.8" r="2.75"/><circle cx="800.8" cy="280.4" r="2.75"/><circle cx="799.2" cy="286.2" r="2.75"/><circle cx="799.3" cy="291.0" r="2.75"/><circle cx="799.4" cy="294.3" r="2.75"/><circle cx="799.3" cy="294.5" r="2.75"/><circle cx="802.5" cy="270.6" r="2.75"/><circle cx="804.6" cy="275.9" r="2.75"/><circle cx="805.0" cy="276.2" r="2.75"/><circle cx="802.9" cy="281.9" r="2.75"/><circle cx="803.3" cy="287.9" r="2.75"/><circle cx="803.6" cy="292.6" r="2.75"/><circle cx="802.2" cy="296.0" r="2.75"/><circle cx="806.7" cy="269.8" r="2.75"/><circle cx="807.4" cy="275.7" r="2.75"/><circle cx="807.5" cy="277.6" r="2.75"/><circle cx="805.5" cy="280.5" r="2.75"/><circle cx="806.4" cy="284.2" r="2.75"/><circle cx="807.7" cy="296.2" r="2.75"/><circle cx="809.5" cy="267.0" r="2.75"/><circle cx="809.7" cy="272.3" r="2.75"/><circle cx="810.5" cy="277.4" r="2.75"/><circle cx="808.4" cy="279.7" r="2.75"/><circle cx="809.7" cy="284.2" r="2.75"/><circle cx="809.8" cy="285.5" r="2.75"/><circle cx="809.9" cy="290.9" r="2.75"/><circle cx="812.9" cy="270.5" r="2.75"/><circle cx="812.7" cy="273.2" r="2.75"/><circle cx="814.1" cy="282.9" r="2.75"/><circle cx="814.1" cy="287.9" r="2.75"/><circle cx="812.2" cy="294.3" r="2.75"/><circle cx="813.1" cy="297.1" r="2.75"/><circle cx="813.0" cy="298.3" r="2.75"/><circle cx="816.7" cy="268.9" r="2.75"/><circle cx="816.4" cy="271.4" r="2.75"/><circle cx="817.2" cy="276.4" r="2.75"/><circle cx="815.3" cy="281.4" r="2.75"/><circle cx="815.8" cy="283.9" r="2.75"/><circle cx="814.5" cy="285.3" r="2.75"/><circle cx="816.8" cy="290.5" r="2.75"/><circle cx="815.7" cy="294.0" r="2.75"/><circle cx="814.9" cy="296.9" r="2.75"/><circle cx="816.7" cy="298.6" r="2.75"/><circle cx="819.9" cy="268.1" r="2.75"/><circle cx="818.7" cy="272.9" r="2.75"/><circle cx="820.0" cy="278.3" r="2.75"/><circle cx="820.4" cy="290.9" r="2.75"/><circle cx="818.6" cy="294.0" r="2.75"/><circle cx="821.3" cy="267.9" r="2.75"/><circle cx="823.4" cy="270.6" r="2.75"/><circle cx="820.9" cy="275.0" r="2.75"/><circle cx="822.4" cy="278.1" r="2.75"/><circle cx="822.6" cy="280.9" r="2.75"/><circle cx="821.8" cy="283.3" r="2.75"/><circle cx="820.9" cy="293.7" r="2.75"/><circle cx="822.3" cy="299.4" r="2.75"/><circle cx="823.6" cy="271.9" r="2.75"/><circle cx="825.2" cy="272.9" r="2.75"/><circle cx="823.5" cy="277.1" r="2.75"/><circle cx="823.6" cy="279.2" r="2.75"/><circle cx="824.7" cy="284.7" r="2.75"/><circle cx="824.1" cy="286.3" r="2.75"/><circle cx="824.4" cy="291.3" r="2.75"/><circle cx="823.7" cy="294.9" r="2.75"/><circle cx="825.4" cy="298.6" r="2.75"/><circle cx="829.5" cy="274.0" r="2.75"/><circle cx="828.4" cy="275.9" r="2.75"/><circle cx="827.2" cy="281.2" r="2.75"/><circle cx="827.8" cy="284.0" r="2.75"/><circle cx="828.3" cy="287.8" r="2.75"/><circle cx="829.6" cy="289.8" r="2.75"/><circle cx="828.4" cy="294.9" r="2.75"/><circle cx="832.2" cy="274.5" r="2.75"/><circle cx="831.1" cy="282.6" r="2.75"/><circle cx="830.2" cy="287.6" r="2.75"/><circle cx="830.1" cy="290.2" r="2.75"/><circle cx="832.4" cy="292.8" r="2.75"/><circle cx="833.1" cy="285.3" r="2.75"/><circle cx="835.5" cy="289.3" r="2.75"/><circle cx="833.3" cy="291.4" r="2.75"/><circle cx="838.2" cy="281.6" r="2.75"/><circle cx="837.3" cy="284.8" r="2.75"/><circle cx="838.0" cy="290.5" r="2.75"/><circle cx="836.2" cy="293.6" r="2.75"/><circle cx="767.2" cy="290.6" r="2.75"/><circle cx="772.3" cy="291.2" r="2.75"/><circle cx="772.1" cy="295.5" r="2.75"/><circle cx="773.2" cy="299.8" r="2.75"/><circle cx="776.2" cy="288.7" r="2.75"/><circle cx="774.6" cy="291.0" r="2.75"/><circle cx="775.6" cy="297.8" r="2.75"/><circle cx="777.0" cy="298.1" r="2.75"/><circle cx="775.2" cy="303.5" r="2.75"/><circle cx="774.7" cy="306.8" r="2.75"/><circle cx="780.7" cy="288.9" r="2.75"/><circle cx="780.9" cy="292.0" r="2.75"/><circle cx="779.4" cy="296.8" r="2.75"/><circle cx="779.4" cy="300.8" r="2.75"/><circle cx="779.3" cy="302.4" r="2.75"/><circle cx="780.8" cy="307.0" r="2.75"/><circle cx="779.2" cy="310.6" r="2.75"/><circle cx="784.5" cy="295.7" r="2.75"/><circle cx="781.8" cy="299.7" r="2.75"/><circle cx="782.8" cy="310.9" r="2.75"/><circle cx="787.3" cy="293.7" r="2.75"/><circle cx="787.2" cy="295.1" r="2.75"/><circle cx="785.5" cy="301.1" r="2.75"/><circle cx="787.9" cy="303.7" r="2.75"/><circle cx="788.2" cy="311.1" r="2.75"/><circle cx="788.9" cy="313.4" r="2.75"/><circle cx="790.5" cy="297.6" r="2.75"/><circle cx="790.3" cy="299.0" r="2.75"/><circle cx="791.5" cy="301.9" r="2.75"/><circle cx="789.8" cy="313.7" r="2.75"/><circle cx="794.1" cy="303.7" r="2.75"/><circle cx="796.1" cy="305.7" r="2.75"/><circle cx="794.4" cy="312.2" r="2.75"/><circle cx="795.8" cy="316.7" r="2.75"/><circle cx="796.5" cy="318.3" r="2.75"/><circle cx="797.3" cy="306.0" r="2.75"/><circle cx="798.6" cy="316.2" r="2.75"/><circle cx="864.2" cy="368.9" r="2.75"/><circle cx="867.1" cy="367.8" r="2.75"/><circle cx="868.0" cy="365.6" r="2.75"/><circle cx="868.3" cy="367.5" r="2.75"/><circle cx="871.8" cy="370.0" r="2.75"/><circle cx="874.7" cy="370.2" r="2.75"/><circle cx="882.4" cy="374.5" r="2.75"/><circle cx="885.3" cy="375.3" r="2.75"/><circle cx="888.6" cy="366.3" r="2.75"/><circle cx="889.1" cy="374.1" r="2.75"/><circle cx="891.5" cy="368.0" r="2.75"/><circle cx="893.5" cy="372.6" r="2.75"/><circle cx="896.7" cy="366.9" r="2.75"/><circle cx="898.8" cy="366.1" r="2.75"/><circle cx="897.7" cy="367.1" r="2.75"/><circle cx="900.1" cy="367.5" r="2.75"/><circle cx="903.4" cy="368.9" r="2.75"/><circle cx="904.7" cy="368.2" r="2.75"/><circle cx="904.9" cy="371.6" r="2.75"/><circle cx="928.5" cy="350.9" r="2.75"/><circle cx="927.6" cy="352.1" r="2.75"/><circle cx="931.2" cy="353.5" r="2.75"/><circle cx="929.2" cy="356.4" r="2.75"/><circle cx="932.5" cy="350.6" r="2.75"/><circle cx="932.2" cy="352.5" r="2.75"/><circle cx="932.1" cy="356.1" r="2.75"/><circle cx="931.7" cy="359.6" r="2.75"/><circle cx="931.9" cy="363.5" r="2.75"/><circle cx="933.3" cy="366.1" r="2.75"/><circle cx="936.0" cy="355.3" r="2.75"/><circle cx="935.8" cy="357.2" r="2.75"/><circle cx="934.1" cy="359.1" r="2.75"/><circle cx="935.3" cy="366.1" r="2.75"/><circle cx="937.4" cy="354.5" r="2.75"/><circle cx="937.9" cy="357.7" r="2.75"/><circle cx="936.9" cy="359.3" r="2.75"/><circle cx="937.2" cy="362.6" r="2.75"/><circle cx="937.1" cy="365.1" r="2.75"/><circle cx="939.6" cy="360.2" r="2.75"/><circle cx="940.1" cy="364.7" r="2.75"/><circle cx="940.1" cy="367.6" r="2.75"/><circle cx="943.7" cy="360.6" r="2.75"/><circle cx="943.7" cy="362.5" r="2.75"/><circle cx="943.9" cy="364.7" r="2.75"/><circle cx="943.5" cy="367.4" r="2.75"/><circle cx="944.6" cy="359.8" r="2.75"/><circle cx="945.1" cy="363.2" r="2.75"/><circle cx="946.0" cy="364.7" r="2.75"/><circle cx="944.7" cy="368.1" r="2.75"/><circle cx="948.0" cy="360.7" r="2.75"/><circle cx="946.8" cy="361.7" r="2.75"/><circle cx="948.7" cy="364.9" r="2.75"/><circle cx="949.5" cy="359.9" r="2.75"/><circle cx="949.9" cy="363.4" r="2.75"/><circle cx="950.5" cy="364.6" r="2.75"/><circle cx="950.0" cy="367.5" r="2.75"/><circle cx="917.3" cy="366.4" r="2.75"/><circle cx="916.6" cy="371.2" r="2.75"/><circle cx="917.4" cy="373.6" r="2.75"/><circle cx="918.0" cy="365.3" r="2.75"/><circle cx="917.7" cy="369.6" r="2.75"/><circle cx="920.0" cy="370.8" r="2.75"/><circle cx="918.4" cy="373.4" r="2.75"/><circle cx="921.4" cy="364.2" r="2.75"/><circle cx="921.2" cy="369.7" r="2.75"/><circle cx="921.7" cy="375.1" r="2.75"/><circle cx="923.5" cy="369.1" r="2.75"/><circle cx="926.2" cy="366.8" r="2.75"/><circle cx="926.3" cy="372.6" r="2.75"/><circle cx="928.7" cy="374.2" r="2.75"/><circle cx="932.2" cy="373.0" r="2.75"/><circle cx="940.8" cy="373.7" r="2.75"/><circle cx="945.7" cy="366.6" r="2.75"/><circle cx="944.2" cy="369.4" r="2.75"/><circle cx="945.5" cy="373.4" r="2.75"/><circle cx="950.7" cy="366.8" r="2.75"/><circle cx="950.6" cy="371.1" r="2.75"/><circle cx="950.2" cy="379.0" r="2.75"/><circle cx="952.6" cy="373.5" r="2.75"/><circle cx="954.5" cy="369.7" r="2.75"/><circle cx="958.5" cy="365.3" r="2.75"/><circle cx="957.1" cy="370.8" r="2.75"/><circle cx="960.9" cy="363.4" r="2.75"/><circle cx="960.8" cy="371.3" r="2.75"/><circle cx="960.6" cy="373.9" r="2.75"/><circle cx="959.3" cy="377.7" r="2.75"/><circle cx="963.6" cy="364.4" r="2.75"/><circle cx="963.6" cy="369.6" r="2.75"/><circle cx="962.4" cy="374.8" r="2.75"/><circle cx="962.8" cy="377.1" r="2.75"/><circle cx="964.3" cy="362.8" r="2.75"/><circle cx="965.9" cy="367.8" r="2.75"/><circle cx="966.3" cy="364.4" r="2.75"/><circle cx="967.6" cy="375.4" r="2.75"/><circle cx="970.2" cy="371.2" r="2.75"/><circle cx="924.5" cy="399.8" r="2.75"/><circle cx="929.4" cy="395.9" r="2.75"/><circle cx="927.9" cy="399.8" r="2.75"/><circle cx="931.6" cy="394.6" r="2.75"/><circle cx="938.0" cy="392.5" r="2.75"/><circle cx="703.7" cy="580.4" r="2.75"/><circle cx="706.2" cy="578.3" r="2.75"/><circle cx="706.1" cy="580.5" r="2.75"/><circle cx="708.4" cy="584.0" r="2.75"/><circle cx="709.5" cy="579.4" r="2.75"/><circle cx="710.5" cy="580.4" r="2.75"/><circle cx="709.0" cy="585.6" r="2.75"/><circle cx="709.4" cy="586.9" r="2.75"/><circle cx="713.9" cy="584.6" r="2.75"/><circle cx="713.3" cy="588.3" r="2.75"/><circle cx="714.6" cy="591.0" r="2.75"/><circle cx="715.4" cy="591.6" r="2.75"/><circle cx="715.6" cy="593.1" r="2.75"/><circle cx="718.1" cy="588.8" r="2.75"/><circle cx="719.6" cy="590.1" r="2.75"/><circle cx="722.2" cy="593.5" r="2.75"/><circle cx="722.7" cy="596.7" r="2.75"/><circle cx="724.3" cy="592.9" r="2.75"/><circle cx="725.9" cy="595.6" r="2.75"/><circle cx="728.1" cy="595.3" r="2.75"/><circle cx="729.8" cy="598.9" r="2.75"/><circle cx="731.4" cy="592.7" r="2.75"/><circle cx="732.5" cy="596.0" r="2.75"/><circle cx="732.0" cy="599.2" r="2.75"/><circle cx="733.4" cy="594.6" r="2.75"/><circle cx="733.9" cy="598.2" r="2.75"/><circle cx="733.8" cy="600.1" r="2.75"/><circle cx="736.4" cy="595.0" r="2.75"/><circle cx="738.1" cy="597.6" r="2.75"/><circle cx="738.7" cy="598.7" r="2.75"/><circle cx="738.3" cy="601.9" r="2.75"/><circle cx="739.4" cy="594.9" r="2.75"/><circle cx="740.5" cy="595.9" r="2.75"/><circle cx="739.4" cy="600.0" r="2.75"/><circle cx="741.2" cy="602.1" r="2.75"/><circle cx="740.9" cy="605.0" r="2.75"/><circle cx="745.3" cy="593.9" r="2.75"/><circle cx="743.9" cy="603.0" r="2.75"/><circle cx="742.5" cy="605.0" r="2.75"/><circle cx="745.9" cy="595.0" r="2.75"/><circle cx="746.8" cy="601.2" r="2.75"/><circle cx="748.6" cy="602.1" r="2.75"/><circle cx="750.1" cy="593.4" r="2.75"/><circle cx="749.4" cy="596.7" r="2.75"/><circle cx="749.9" cy="602.5" r="2.75"/><circle cx="751.4" cy="604.8" r="2.75"/><circle cx="753.6" cy="594.3" r="2.75"/><circle cx="752.5" cy="596.6" r="2.75"/><circle cx="752.2" cy="599.8" r="2.75"/><circle cx="753.6" cy="606.1" r="2.75"/><circle cx="756.0" cy="592.9" r="2.75"/><circle cx="756.7" cy="597.7" r="2.75"/><circle cx="757.6" cy="599.8" r="2.75"/><circle cx="756.7" cy="602.1" r="2.75"/><circle cx="755.1" cy="605.0" r="2.75"/><circle cx="758.6" cy="589.3" r="2.75"/><circle cx="760.8" cy="590.3" r="2.75"/><circle cx="759.4" cy="597.9" r="2.75"/><circle cx="760.6" cy="601.0" r="2.75"/><circle cx="760.1" cy="603.1" r="2.75"/><circle cx="761.5" cy="592.2" r="2.75"/><circle cx="761.8" cy="595.4" r="2.75"/><circle cx="763.9" cy="599.9" r="2.75"/><circle cx="767.0" cy="588.5" r="2.75"/><circle cx="767.0" cy="591.2" r="2.75"/><circle cx="766.2" cy="593.2" r="2.75"/><circle cx="764.0" cy="598.0" r="2.75"/><circle cx="766.7" cy="599.2" r="2.75"/><circle cx="766.1" cy="602.9" r="2.75"/><circle cx="767.6" cy="585.8" r="2.75"/><circle cx="767.3" cy="586.5" r="2.75"/><circle cx="769.3" cy="589.4" r="2.75"/><circle cx="767.9" cy="597.9" r="2.75"/><circle cx="768.6" cy="600.7" r="2.75"/><circle cx="772.5" cy="584.2" r="2.75"/><circle cx="771.7" cy="588.7" r="2.75"/><circle cx="770.8" cy="591.9" r="2.75"/><circle cx="772.8" cy="595.0" r="2.75"/><circle cx="772.0" cy="597.5" r="2.75"/><circle cx="771.8" cy="598.7" r="2.75"/><circle cx="773.2" cy="585.8" r="2.75"/><circle cx="774.4" cy="586.4" r="2.75"/><circle cx="775.7" cy="595.0" r="2.75"/><circle cx="773.9" cy="596.0" r="2.75"/><circle cx="774.1" cy="599.5" r="2.75"/><circle cx="777.9" cy="585.3" r="2.75"/><circle cx="779.3" cy="592.1" r="2.75"/><circle cx="777.3" cy="592.7" r="2.75"/><circle cx="778.6" cy="596.6" r="2.75"/><circle cx="781.3" cy="585.4" r="2.75"/><circle cx="730.8" cy="548.5" r="2.75"/><circle cx="731.7" cy="549.7" r="2.75"/><circle cx="733.4" cy="538.9" r="2.75"/><circle cx="734.9" cy="544.8" r="2.75"/><circle cx="735.9" cy="547.0" r="2.75"/><circle cx="735.9" cy="548.8" r="2.75"/><circle cx="738.4" cy="542.3" r="2.75"/><circle cx="739.9" cy="546.0" r="2.75"/><circle cx="737.9" cy="551.6" r="2.75"/><circle cx="741.2" cy="547.9" r="2.75"/><circle cx="742.6" cy="550.9" r="2.75"/><circle cx="743.8" cy="555.7" r="2.75"/><circle cx="745.1" cy="545.8" r="2.75"/><circle cx="747.6" cy="553.8" r="2.75"/><circle cx="749.1" cy="545.5" r="2.75"/><circle cx="749.1" cy="549.8" r="2.75"/><circle cx="751.1" cy="553.7" r="2.75"/><circle cx="748.6" cy="557.9" r="2.75"/><circle cx="755.4" cy="554.2" r="2.75"/><circle cx="894.7" cy="571.8" r="2.75"/><circle cx="896.8" cy="576.7" r="2.75"/><circle cx="898.4" cy="562.6" r="2.75"/><circle cx="897.9" cy="567.3" r="2.75"/><circle cx="898.2" cy="571.2" r="2.75"/><circle cx="897.5" cy="571.8" r="2.75"/><circle cx="897.1" cy="574.5" r="2.75"/><circle cx="900.3" cy="561.6" r="2.75"/><circle cx="902.2" cy="565.3" r="2.75"/><circle cx="901.1" cy="567.3" r="2.75"/><circle cx="904.4" cy="557.6" r="2.75"/><circle cx="904.4" cy="567.3" r="2.75"/><circle cx="907.9" cy="545.8" r="2.75"/><circle cx="907.5" cy="551.0" r="2.75"/><circle cx="907.9" cy="560.9" r="2.75"/><circle cx="908.0" cy="564.2" r="2.75"/><circle cx="909.4" cy="547.0" r="2.75"/><circle cx="910.6" cy="551.4" r="2.75"/><circle cx="911.4" cy="555.8" r="2.75"/><circle cx="911.9" cy="541.1" r="2.75"/><circle cx="912.3" cy="550.3" r="2.75"/><circle cx="912.7" cy="553.6" r="2.75"/><circle cx="916.8" cy="539.4" r="2.75"/><circle cx="915.0" cy="543.1" r="2.75"/><circle cx="920.4" cy="537.4" r="2.75"/><circle cx="594.7" cy="672.2" r="2.75"/><circle cx="593.7" cy="676.2" r="2.75"/><circle cx="595.5" cy="678.1" r="2.75"/><circle cx="594.7" cy="681.6" r="2.75"/><circle cx="598.7" cy="652.5" r="2.75"/><circle cx="597.4" cy="653.9" r="2.75"/><circle cx="599.0" cy="657.4" r="2.75"/><circle cx="597.8" cy="662.5" r="2.75"/><circle cx="597.3" cy="666.7" r="2.75"/><circle cx="598.7" cy="667.2" r="2.75"/><circle cx="599.0" cy="674.5" r="2.75"/><circle cx="596.4" cy="679.5" r="2.75"/><circle cx="597.5" cy="684.3" r="2.75"/><circle cx="599.4" cy="651.6" r="2.75"/><circle cx="599.5" cy="653.9" r="2.75"/><circle cx="601.7" cy="656.7" r="2.75"/><circle cx="600.4" cy="662.7" r="2.75"/><circle cx="601.1" cy="664.7" r="2.75"/><circle cx="602.2" cy="671.0" r="2.75"/><circle cx="601.9" cy="674.6" r="2.75"/><circle cx="599.7" cy="680.5" r="2.75"/><circle cx="599.7" cy="683.6" r="2.75"/><circle cx="602.7" cy="686.7" r="2.75"/><circle cx="602.7" cy="688.6" r="2.75"/><circle cx="602.6" cy="693.8" r="2.75"/><circle cx="602.6" cy="696.6" r="2.75"/><circle cx="603.5" cy="649.4" r="2.75"/><circle cx="604.7" cy="650.6" r="2.75"/><circle cx="605.5" cy="655.6" r="2.75"/><circle cx="605.8" cy="658.8" r="2.75"/><circle cx="604.1" cy="662.4" r="2.75"/><circle cx="605.7" cy="665.1" r="2.75"/><circle cx="604.2" cy="668.0" r="2.75"/><circle cx="603.7" cy="674.1" r="2.75"/><circle cx="604.7" cy="674.3" r="2.75"/><circle cx="604.0" cy="683.5" r="2.75"/><circle cx="602.9" cy="686.0" r="2.75"/><circle cx="605.9" cy="690.8" r="2.75"/><circle cx="605.8" cy="695.4" r="2.75"/><circle cx="609.6" cy="646.0" r="2.75"/><circle cx="608.8" cy="648.0" r="2.75"/><circle cx="606.9" cy="652.0" r="2.75"/><circle cx="606.3" cy="659.4" r="2.75"/><circle cx="608.1" cy="666.2" r="2.75"/><circle cx="609.2" cy="672.1" r="2.75"/><circle cx="607.8" cy="679.6" r="2.75"/><circle cx="609.3" cy="684.1" r="2.75"/><circle cx="608.6" cy="685.7" r="2.75"/><circle cx="607.3" cy="689.0" r="2.75"/><circle cx="609.6" cy="692.8" r="2.75"/><circle cx="609.3" cy="700.7" r="2.75"/><circle cx="610.7" cy="649.0" r="2.75"/><circle cx="612.5" cy="653.9" r="2.75"/><circle cx="613.2" cy="658.0" r="2.75"/><circle cx="611.5" cy="661.7" r="2.75"/><circle cx="609.8" cy="672.2" r="2.75"/><circle cx="613.1" cy="680.5" r="2.75"/><circle cx="611.0" cy="684.5" r="2.75"/><circle cx="610.3" cy="685.6" r="2.75"/><circle cx="612.9" cy="689.2" r="2.75"/><circle cx="610.0" cy="693.1" r="2.75"/><circle cx="615.4" cy="648.1" r="2.75"/><circle cx="614.7" cy="652.1" r="2.75"/><circle cx="615.5" cy="656.8" r="2.75"/><circle cx="613.3" cy="660.6" r="2.75"/><circle cx="614.2" cy="678.4" r="2.75"/><circle cx="616.1" cy="681.7" r="2.75"/><circle cx="614.5" cy="687.6" r="2.75"/><circle cx="615.1" cy="693.2" r="2.75"/><circle cx="614.5" cy="696.2" r="2.75"/><circle cx="616.6" cy="699.9" r="2.75"/><circle cx="613.9" cy="704.5" r="2.75"/><circle cx="619.2" cy="645.8" r="2.75"/><circle cx="617.2" cy="648.1" r="2.75"/><circle cx="619.3" cy="650.6" r="2.75"/><circle cx="618.6" cy="653.3" r="2.75"/><circle cx="620.0" cy="661.1" r="2.75"/><circle cx="619.7" cy="665.7" r="2.75"/><circle cx="619.7" cy="670.0" r="2.75"/><circle cx="617.6" cy="678.8" r="2.75"/><circle cx="619.4" cy="681.6" r="2.75"/><circle cx="617.9" cy="686.3" r="2.75"/><circle cx="619.9" cy="694.2" r="2.75"/><circle cx="619.2" cy="697.3" r="2.75"/><circle cx="617.1" cy="699.1" r="2.75"/><circle cx="619.3" cy="704.9" r="2.75"/><circle cx="622.3" cy="648.8" r="2.75"/><circle cx="622.2" cy="651.2" r="2.75"/><circle cx="623.4" cy="657.5" r="2.75"/><circle cx="622.5" cy="661.6" r="2.75"/><circle cx="622.7" cy="665.6" r="2.75"/><circle cx="622.9" cy="667.6" r="2.75"/><circle cx="622.5" cy="671.8" r="2.75"/><circle cx="622.7" cy="674.5" r="2.75"/><circle cx="621.3" cy="684.3" r="2.75"/><circle cx="623.6" cy="685.6" r="2.75"/><circle cx="621.0" cy="688.4" r="2.75"/><circle cx="623.1" cy="692.8" r="2.75"/><circle cx="622.0" cy="699.8" r="2.75"/><circle cx="621.0" cy="704.7" r="2.75"/><circle cx="624.5" cy="649.7" r="2.75"/><circle cx="625.8" cy="649.8" r="2.75"/><circle cx="626.1" cy="654.2" r="2.75"/><circle cx="625.0" cy="657.7" r="2.75"/><circle cx="624.5" cy="660.7" r="2.75"/><circle cx="626.6" cy="666.7" r="2.75"/><circle cx="623.9" cy="669.5" r="2.75"/><circle cx="626.9" cy="673.0" r="2.75"/><circle cx="626.0" cy="679.0" r="2.75"/><circle cx="623.8" cy="683.9" r="2.75"/><circle cx="624.4" cy="685.4" r="2.75"/><circle cx="625.9" cy="692.8" r="2.75"/><circle cx="624.3" cy="696.3" r="2.75"/><circle cx="626.2" cy="701.4" r="2.75"/><circle cx="626.5" cy="704.4" r="2.75"/><circle cx="628.0" cy="652.7" r="2.75"/><circle cx="627.2" cy="654.4" r="2.75"/><circle cx="628.4" cy="659.7" r="2.75"/><circle cx="629.7" cy="661.2" r="2.75"/><circle cx="628.0" cy="667.9" r="2.75"/><circle cx="628.0" cy="670.9" r="2.75"/><circle cx="630.6" cy="674.2" r="2.75"/><circle cx="627.6" cy="681.8" r="2.75"/><circle cx="627.7" cy="686.4" r="2.75"/><circle cx="628.2" cy="689.3" r="2.75"/><circle cx="628.5" cy="693.6" r="2.75"/><circle cx="628.4" cy="698.2" r="2.75"/><circle cx="627.6" cy="698.9" r="2.75"/><circle cx="633.3" cy="656.3" r="2.75"/><circle cx="633.0" cy="659.4" r="2.75"/><circle cx="631.6" cy="660.4" r="2.75"/><circle cx="633.8" cy="667.9" r="2.75"/><circle cx="633.9" cy="676.7" r="2.75"/><circle cx="633.3" cy="679.0" r="2.75"/><circle cx="634.1" cy="683.4" r="2.75"/><circle cx="630.7" cy="687.8" r="2.75"/><circle cx="633.0" cy="692.9" r="2.75"/><circle cx="632.3" cy="700.9" r="2.75"/><circle cx="635.6" cy="658.7" r="2.75"/><circle cx="635.7" cy="660.7" r="2.75"/><circle cx="634.2" cy="669.4" r="2.75"/><circle cx="637.6" cy="671.2" r="2.75"/><circle cx="636.3" cy="684.4" r="2.75"/><circle cx="634.5" cy="687.5" r="2.75"/><circle cx="635.7" cy="688.2" r="2.75"/><circle cx="636.4" cy="692.8" r="2.75"/><circle cx="635.1" cy="695.4" r="2.75"/><circle cx="636.3" cy="700.7" r="2.75"/><circle cx="636.1" cy="703.4" r="2.75"/><circle cx="634.2" cy="707.0" r="2.75"/><circle cx="640.3" cy="660.9" r="2.75"/><circle cx="639.1" cy="668.2" r="2.75"/><circle cx="641.1" cy="677.0" r="2.75"/><circle cx="639.8" cy="679.7" r="2.75"/><circle cx="639.1" cy="681.2" r="2.75"/><circle cx="639.4" cy="687.8" r="2.75"/><circle cx="637.8" cy="688.4" r="2.75"/><circle cx="638.3" cy="693.5" r="2.75"/><circle cx="639.8" cy="695.4" r="2.75"/><circle cx="639.5" cy="699.3" r="2.75"/><circle cx="639.6" cy="702.1" r="2.75"/><circle cx="642.3" cy="662.2" r="2.75"/><circle cx="644.3" cy="664.6" r="2.75"/><circle cx="643.7" cy="669.5" r="2.75"/><circle cx="644.4" cy="673.7" r="2.75"/><circle cx="641.4" cy="676.2" r="2.75"/><circle cx="644.1" cy="680.4" r="2.75"/><circle cx="641.3" cy="683.1" r="2.75"/><circle cx="642.8" cy="685.7" r="2.75"/><circle cx="642.8" cy="694.8" r="2.75"/><circle cx="641.8" cy="695.3" r="2.75"/><circle cx="643.2" cy="701.3" r="2.75"/><circle cx="643.1" cy="708.3" r="2.75"/><circle cx="646.5" cy="662.9" r="2.75"/><circle cx="646.1" cy="666.5" r="2.75"/><circle cx="644.7" cy="667.1" r="2.75"/><circle cx="644.9" cy="673.8" r="2.75"/><circle cx="647.6" cy="676.9" r="2.75"/><circle cx="647.1" cy="681.4" r="2.75"/><circle cx="646.0" cy="687.9" r="2.75"/><circle cx="646.8" cy="688.6" r="2.75"/><circle cx="647.4" cy="693.4" r="2.75"/><circle cx="645.4" cy="696.7" r="2.75"/><circle cx="645.8" cy="700.3" r="2.75"/><circle cx="645.6" cy="704.5" r="2.75"/><circle cx="645.6" cy="706.5" r="2.75"/><circle cx="649.4" cy="660.3" r="2.75"/><circle cx="650.2" cy="665.7" r="2.75"/><circle cx="650.3" cy="673.9" r="2.75"/><circle cx="648.8" cy="680.3" r="2.75"/><circle cx="649.4" cy="682.5" r="2.75"/><circle cx="649.6" cy="689.6" r="2.75"/><circle cx="648.6" cy="692.2" r="2.75"/><circle cx="649.2" cy="697.9" r="2.75"/><circle cx="648.7" cy="700.7" r="2.75"/><circle cx="649.1" cy="704.1" r="2.75"/><circle cx="650.1" cy="707.6" r="2.75"/><circle cx="651.7" cy="681.1" r="2.75"/><circle cx="653.4" cy="686.0" r="2.75"/><circle cx="652.7" cy="690.3" r="2.75"/><circle cx="653.4" cy="699.0" r="2.75"/><circle cx="654.5" cy="702.9" r="2.75"/><circle cx="652.8" cy="708.5" r="2.75"/><circle cx="657.8" cy="687.1" r="2.75"/><circle cx="657.5" cy="688.5" r="2.75"/><circle cx="656.6" cy="693.6" r="2.75"/><circle cx="657.7" cy="704.8" r="2.75"/><circle cx="658.2" cy="712.0" r="2.75"/><circle cx="659.6" cy="687.9" r="2.75"/><circle cx="659.2" cy="690.1" r="2.75"/><circle cx="661.0" cy="691.6" r="2.75"/><circle cx="661.7" cy="702.7" r="2.75"/><circle cx="661.4" cy="708.3" r="2.75"/><circle cx="658.8" cy="712.3" r="2.75"/><circle cx="662.2" cy="694.4" r="2.75"/><circle cx="663.0" cy="696.6" r="2.75"/><circle cx="665.4" cy="698.9" r="2.75"/><circle cx="663.1" cy="704.3" r="2.75"/><circle cx="662.9" cy="708.4" r="2.75"/><circle cx="665.0" cy="709.6" r="2.75"/><circle cx="664.7" cy="713.0" r="2.75"/><circle cx="667.9" cy="696.5" r="2.75"/><circle cx="665.6" cy="699.0" r="2.75"/><circle cx="666.9" cy="702.1" r="2.75"/><circle cx="665.7" cy="708.1" r="2.75"/><circle cx="667.6" cy="710.4" r="2.75"/><circle cx="669.6" cy="699.5" r="2.75"/><circle cx="670.5" cy="702.1" r="2.75"/><circle cx="672.2" cy="707.2" r="2.75"/><circle cx="670.7" cy="711.0" r="2.75"/><circle cx="671.6" cy="712.7" r="2.75"/><circle cx="671.2" cy="717.2" r="2.75"/><circle cx="672.7" cy="703.6" r="2.75"/><circle cx="674.8" cy="705.7" r="2.75"/><circle cx="674.6" cy="709.0" r="2.75"/><circle cx="672.9" cy="712.8" r="2.75"/><circle cx="674.5" cy="719.1" r="2.75"/><circle cx="672.8" cy="722.8" r="2.75"/><circle cx="674.5" cy="724.3" r="2.75"/><circle cx="674.8" cy="735.7" r="2.75"/><circle cx="676.3" cy="709.4" r="2.75"/><circle cx="676.2" cy="714.1" r="2.75"/><circle cx="677.3" cy="716.4" r="2.75"/><circle cx="677.3" cy="720.7" r="2.75"/><circle cx="676.0" cy="729.2" r="2.75"/><circle cx="678.3" cy="730.3" r="2.75"/><circle cx="679.1" cy="736.4" r="2.75"/><circle cx="677.5" cy="739.1" r="2.75"/><circle cx="544.3" cy="767.5" r="2.75"/><circle cx="543.2" cy="768.8" r="2.75"/><circle cx="545.2" cy="765.5" r="2.75"/><circle cx="544.6" cy="768.7" r="2.75"/><circle cx="546.4" cy="772.4" r="2.75"/><circle cx="546.1" cy="777.0" r="2.75"/><circle cx="547.7" cy="779.2" r="2.75"/><circle cx="550.8" cy="763.1" r="2.75"/><circle cx="548.2" cy="766.5" r="2.75"/><circle cx="549.1" cy="769.6" r="2.75"/><circle cx="550.6" cy="773.6" r="2.75"/><circle cx="548.5" cy="775.4" r="2.75"/><circle cx="551.1" cy="780.8" r="2.75"/><circle cx="552.7" cy="763.8" r="2.75"/><circle cx="553.3" cy="773.0" r="2.75"/><circle cx="551.7" cy="774.6" r="2.75"/><circle cx="552.7" cy="779.1" r="2.75"/><circle cx="555.1" cy="763.9" r="2.75"/><circle cx="554.5" cy="764.6" r="2.75"/><circle cx="555.2" cy="769.5" r="2.75"/><circle cx="556.9" cy="771.5" r="2.75"/><circle cx="557.6" cy="777.4" r="2.75"/><circle cx="556.6" cy="781.7" r="2.75"/><circle cx="558.3" cy="761.6" r="2.75"/><circle cx="559.2" cy="769.1" r="2.75"/><circle cx="559.1" cy="772.2" r="2.75"/><circle cx="561.4" cy="773.3" r="2.75"/><circle cx="562.8" cy="777.0" r="2.75"/><circle cx="562.0" cy="778.7" r="2.75"/><circle cx="563.0" cy="782.3" r="2.75"/><circle cx="567.0" cy="767.1" r="2.75"/><circle cx="564.4" cy="776.6" r="2.75"/><circle cx="570.4" cy="768.6" r="2.75"/><circle cx="569.5" cy="773.0" r="2.75"/><circle cx="567.9" cy="776.1" r="2.75"/><circle cx="569.1" cy="780.2" r="2.75"/><circle cx="567.7" cy="782.3" r="2.75"/><circle cx="570.9" cy="769.5" r="2.75"/><circle cx="572.1" cy="773.9" r="2.75"/><circle cx="571.4" cy="775.8" r="2.75"/><circle cx="574.7" cy="770.6" r="2.75"/><circle cx="575.7" cy="772.4" r="2.75"/><circle cx="574.2" cy="777.0" r="2.75"/><circle cx="578.6" cy="777.1" r="2.75"/><circle cx="726.6" cy="719.1" r="2.75"/><circle cx="726.6" cy="721.6" r="2.75"/><circle cx="729.4" cy="718.8" r="2.75"/><circle cx="732.0" cy="721.1" r="2.75"/><circle cx="732.3" cy="716.8" r="2.75"/><circle cx="732.6" cy="717.5" r="2.75"/><circle cx="735.8" cy="717.6" r="2.75"/><circle cx="738.8" cy="716.7" r="2.75"/><circle cx="802.4" cy="788.9" r="2.75"/><circle cx="800.4" cy="789.8" r="2.75"/><circle cx="804.4" cy="780.9" r="2.75"/><circle cx="804.2" cy="781.3" r="2.75"/><circle cx="807.8" cy="779.3" r="2.75"/><circle cx="807.7" cy="786.3" r="2.75"/><circle cx="807.9" cy="790.1" r="2.75"/><circle cx="809.3" cy="779.1" r="2.75"/><circle cx="809.2" cy="781.8" r="2.75"/><circle cx="809.5" cy="788.5" r="2.75"/><circle cx="697.3" cy="847.9" r="2.75"/><circle cx="697.3" cy="853.6" r="2.75"/><circle cx="699.1" cy="854.9" r="2.75"/><circle cx="699.3" cy="859.3" r="2.75"/><circle cx="701.5" cy="841.2" r="2.75"/><circle cx="702.5" cy="847.4" r="2.75"/><circle cx="704.4" cy="842.0" r="2.75"/><circle cx="703.7" cy="842.5" r="2.75"/><circle cx="705.0" cy="850.9" r="2.75"/><circle cx="703.3" cy="853.0" r="2.75"/><circle cx="707.1" cy="845.1" r="2.75"/><circle cx="705.7" cy="846.7" r="2.75"/><circle cx="709.3" cy="838.2" r="2.75"/><circle cx="710.4" cy="840.2" r="2.75"/><circle cx="710.5" cy="852.3" r="2.75"/><circle cx="714.2" cy="838.7" r="2.75"/><circle cx="713.0" cy="851.9" r="2.75"/><circle cx="712.3" cy="858.3" r="2.75"/><circle cx="716.2" cy="848.2" r="2.75"/><circle cx="715.9" cy="856.1" r="2.75"/><circle cx="717.2" cy="857.0" r="2.75"/><circle cx="718.5" cy="848.9" r="2.75"/><circle cx="717.7" cy="854.4" r="2.75"/><circle cx="720.2" cy="858.2" r="2.75"/><circle cx="722.9" cy="842.5" r="2.75"/><circle cx="721.6" cy="847.3" r="2.75"/><circle cx="725.1" cy="840.5" r="2.75"/><circle cx="724.2" cy="842.4" r="2.75"/><circle cx="726.0" cy="847.5" r="2.75"/><circle cx="479.2" cy="356.3" r="2.75"/><circle cx="483.8" cy="357.3" r="2.75"/><circle cx="488.5" cy="350.2" r="2.75"/><circle cx="487.1" cy="356.4" r="2.75"/><circle cx="491.1" cy="352.1" r="2.75"/><circle cx="494.4" cy="343.3" r="2.75"/><circle cx="541.0" cy="318.0" r="2.75"/><circle cx="539.6" cy="318.5" r="2.75"/><circle cx="542.1" cy="315.2" r="2.75"/><circle cx="543.6" cy="317.2" r="2.75"/><circle cx="544.5" cy="313.0" r="2.75"/><circle cx="549.8" cy="311.8" r="2.75"/><circle cx="548.2" cy="313.0" r="2.75"/><circle cx="897.9" cy="590.4" r="2.75"/><circle cx="912.5" cy="584.2" r="2.75"/><circle cx="912.5" cy="589.4" r="2.75"/><circle cx="909.4" cy="689.8" r="2.75"/><circle cx="896.9" cy="696.7" r="2.75"/><circle cx="367.5" cy="864.7" r="2.75"/><circle cx="392.4" cy="872.2" r="2.75"/><circle cx="403.2" cy="860.3" r="2.75"/><circle cx="495.3" cy="908.0" r="2.75"/><circle cx="238.7" cy="508.7" r="2.75"/><circle cx="245.3" cy="507.3" r="2.75"/><circle cx="250.7" cy="502.0" r="2.75"/><circle cx="256.0" cy="496.7" r="2.75"/><circle cx="257.3" cy="487.3" r="2.75"/><circle cx="260.0" cy="490.0" r="2.75"/><circle cx="249.3" cy="494.0" r="2.75"/><circle cx="234.0" cy="503.3" r="2.75"/><circle cx="241.3" cy="519.3" r="2.75"/><circle cx="248.0" cy="516.7" r="2.75"/><circle cx="266.7" cy="532.7" r="2.75"/><circle cx="276.0" cy="530.7" r="2.75"/><circle cx="282.7" cy="531.3" r="2.75"/><circle cx="265.3" cy="538.7" r="2.75"/><circle cx="234.7" cy="562.0" r="2.75"/><circle cx="242.7" cy="570.0" r="2.75"/><circle cx="244.7" cy="568.7" r="2.75"/><circle cx="208.7" cy="507.3" r="2.75"/><circle cx="439.9" cy="435.0" r="2.75"/><circle cx="449.6" cy="446.4" r="2.75"/><circle cx="464.2" cy="418.8" r="2.75"/><circle cx="467.5" cy="425.2" r="2.75"/><circle cx="474.0" cy="435.0" r="2.75"/><circle cx="545.5" cy="441.5" r="2.75"/><circle cx="566.6" cy="457.8" r="2.75"/><circle cx="573.1" cy="503.2" r="2.75"/><circle cx="563.4" cy="498.4" r="2.75"/><circle cx="721.0" cy="495.1" r="2.75"/><circle cx="506.5" cy="400.9" r="2.75"/><circle cx="511.4" cy="428.5" r="2.75"/><circle cx="526.0" cy="438.2" r="2.75"/><circle cx="522.8" cy="443.1" r="2.75"/><circle cx="571.5" cy="438.2" r="2.75"/><circle cx="576.4" cy="446.4" r="2.75"/><circle cx="554.5" cy="518.6" r="2.75"/><circle cx="568.7" cy="527.8" r="2.75"/><circle cx="584.1" cy="540.5" r="2.75"/><circle cx="585.7" cy="229.0" r="2.75"/><circle cx="588.1" cy="229.8" r="2.75"/><circle cx="592.8" cy="231.0" r="2.75"/><circle cx="597.4" cy="233.3" r="2.75"/><circle cx="600.9" cy="234.4" r="2.75"/><circle cx="605.0" cy="235.5" r="2.75"/><circle cx="608.1" cy="236.1" r="2.75"/><circle cx="614.0" cy="238.5" r="2.75"/><circle cx="616.3" cy="239.7" r="2.75"/><circle cx="621.5" cy="241.1" r="2.75"/><circle cx="550.5" cy="248.5" r="2.75"/><circle cx="555.8" cy="250.8" r="2.75"/><circle cx="560.2" cy="246.2" r="2.75"/><circle cx="565.5" cy="249.2" r="2.75"/><circle cx="568.5" cy="244.0" r="2.75"/><circle cx="573.8" cy="240.2" r="2.75"/><circle cx="579.0" cy="242.5" r="2.75"/><circle cx="578.2" cy="248.5" r="2.75"/><circle cx="596.2" cy="244.8" r="2.75"/><circle cx="530.2" cy="235.8" r="2.75"/><circle cx="533.2" cy="232.0" r="2.75"/><circle cx="640.5" cy="243.2" r="2.75"/><circle cx="643.5" cy="247.0" r="2.75"/><circle cx="650.2" cy="245.5" r="2.75"/><circle cx="654.8" cy="247.8" r="2.75"/><circle cx="658.5" cy="241.0" r="2.75"/><circle cx="663.0" cy="235.0" r="2.75"/><circle cx="667.5" cy="250.0" r="2.75"/><circle cx="675.0" cy="250.0" r="2.75"/><circle cx="679.5" cy="241.0" r="2.75"/><circle cx="686.2" cy="247.0" r="2.75"/><circle cx="701.7" cy="253.3" r="2.75"/><circle cx="703.3" cy="260.0" r="2.75"/><circle cx="700.0" cy="268.3" r="2.75"/><circle cx="756.7" cy="281.7" r="2.75"/><circle cx="741.7" cy="281.7" r="2.75"/><circle cx="811.7" cy="316.7" r="2.75"/><circle cx="820.0" cy="310.0" r="2.75"/><circle cx="920.6" cy="395.6" r="2.75"/><circle cx="900.6" cy="430.0" r="2.75"/><circle cx="723.3" cy="567.1" r="2.75"/><circle cx="729.2" cy="571.5" r="2.75"/><circle cx="749.8" cy="575.0" r="2.75"/><circle cx="776.5" cy="566.7" r="2.75"/><circle cx="780.6" cy="569.8" r="2.75"/><circle cx="784.8" cy="564.2" r="2.75"/><circle cx="742.1" cy="586.5" r="2.75"/><circle cx="755.6" cy="589.6" r="2.75"/><circle cx="773.8" cy="632.3" r="2.75"/><circle cx="752.5" cy="562.5" r="2.75"/><circle cx="756.7" cy="566.7" r="2.75"/><circle cx="761.9" cy="569.8" r="2.75"/><circle cx="915.0" cy="558.3" r="2.75"/><circle cx="914.0" cy="567.7" r="2.75"/><circle cx="912.9" cy="576.0" r="2.75"/><circle cx="912.9" cy="585.4" r="2.75"/><circle cx="911.9" cy="589.6" r="2.75"/><circle cx="898.3" cy="590.6" r="2.75"/><circle cx="596.6" cy="713.6" r="2.75"/><circle cx="601.5" cy="718.5" r="2.75"/><circle cx="593.0" cy="726.3" r="2.75"/><circle cx="581.7" cy="746.2" r="2.75"/><circle cx="578.9" cy="749.7" r="2.75"/><circle cx="572.2" cy="757.1" r="2.75"/><circle cx="610.8" cy="783.7" r="2.75"/><circle cx="642.6" cy="654.8" r="2.75"/><circle cx="654.0" cy="660.0" r="2.75"/><circle cx="710.7" cy="722.8" r="2.75"/><circle cx="610.6" cy="783.4" r="2.75"/><circle cx="751.4" cy="791.0" r="2.75"/><circle cx="745.6" cy="798.6" r="2.75"/><circle cx="747.7" cy="801.8" r="2.75"/><circle cx="791.5" cy="785.6" r="2.75"/><circle cx="720.0" cy="825.7" r="2.75"/><circle cx="720.0" cy="828.9" r="2.75"/><circle cx="721.1" cy="823.5" r="2.75"/><circle cx="737.3" cy="840.8" r="2.75"/><circle cx="741.7" cy="841.9" r="2.75"/><circle cx="744.9" cy="840.8" r="2.75"/><circle cx="739.5" cy="847.3" r="2.75"/><circle cx="724.3" cy="861.4" r="2.75"/><circle cx="725.4" cy="838.7" r="2.75"/><circle cx="609.5" cy="840.8" r="2.75"/><circle cx="608.4" cy="845.2" r="2.75"/><circle cx="610.6" cy="847.3" r="2.75"/><circle cx="611.7" cy="852.8" r="2.75"/><circle cx="616.0" cy="865.8" r="2.75"/><circle cx="618.2" cy="871.2" r="2.75"/><circle cx="621.4" cy="877.7" r="2.75"/><circle cx="624.7" cy="882.0" r="2.75"/><circle cx="628.6" cy="888.5" r="2.75"/><circle cx="630.1" cy="890.7" r="2.75"/><circle cx="632.2" cy="897.2" r="2.75"/><circle cx="642.0" cy="908.0" r="2.75"/><circle cx="639.8" cy="915.6" r="2.75"/><circle cx="625.8" cy="925.3" r="2.75"/><circle cx="657.2" cy="916.7" r="2.75"/><circle cx="659.3" cy="917.8" r="2.75"/><circle cx="664.8" cy="918.8" r="2.75"/><circle cx="670.2" cy="921.0" r="2.75"/><circle cx="690.8" cy="929.7" r="2.75"/><circle cx="695.1" cy="931.8" r="2.75"/><circle cx="699.4" cy="934.0" r="2.75"/><circle cx="703.8" cy="936.2" r="2.75"/><circle cx="708.1" cy="937.2" r="2.75"/><circle cx="713.5" cy="938.3" r="2.75"/><circle cx="720.0" cy="936.2" r="2.75"/><circle cx="724.3" cy="942.7" r="2.75"/><circle cx="715.7" cy="942.7" r="2.75"/><circle cx="711.3" cy="940.5" r="2.75"/><circle cx="519.7" cy="984.7" r="2.75"/><circle cx="527.9" cy="987.9" r="2.75"/><circle cx="523.6" cy="996.6" r="2.75"/><circle cx="524.0" cy="1000.9" r="2.75"/><circle cx="521.8" cy="1003.1" r="2.75"/><circle cx="533.8" cy="995.5" r="2.75"/><circle cx="535.9" cy="999.4" r="2.75"/><circle cx="534.4" cy="1005.2" r="2.75"/><circle cx="519.7" cy="1011.8" r="2.75"/><circle cx="525.1" cy="1017.2" r="2.75"/><circle cx="436.2" cy="1045.3" r="2.75"/><circle cx="655.1" cy="979.2" r="2.75"/><circle cx="551.0" cy="311.5" r="2.75"/><circle cx="548.0" cy="311.0" r="2.75"/><circle cx="540.0" cy="321.0" r="2.75"/><circle cx="494.5" cy="344.0" r="2.75"/><circle cx="485.0" cy="347.0" r="2.75"/><circle cx="480.0" cy="350.0" r="2.75"/><circle cx="494.0" cy="354.0" r="2.75"/></g>
<g fill="#b69ce3"><circle cx="979.0" cy="684.2" r="2.75"/><circle cx="997.5" cy="731.3" r="2.75"/><circle cx="1012.0" cy="714.1" r="2.75"/><circle cx="1022.1" cy="678.2" r="2.75"/><circle cx="1025.6" cy="720.5" r="2.75"/><circle cx="1034.9" cy="691.2" r="2.75"/><circle cx="1055.5" cy="667.5" r="2.75"/><circle cx="918.9" cy="715.5" r="2.75"/><circle cx="960.4" cy="721.1" r="2.75"/><circle cx="965.1" cy="686.4" r="2.75"/><circle cx="972.5" cy="745.0" r="2.75"/><circle cx="980.2" cy="664.4" r="2.75"/><circle cx="993.2" cy="740.6" r="2.75"/><circle cx="1000.0" cy="654.7" r="2.75"/><circle cx="350.0" cy="739.0" r="2.75"/><circle cx="365.7" cy="840.9" r="2.75"/><circle cx="394.0" cy="803.0" r="2.75"/><circle cx="488.5" cy="877.8" r="2.75"/><circle cx="342.2" cy="734.0" r="2.75"/><circle cx="413.9" cy="832.5" r="2.75"/><circle cx="440.0" cy="831.6" r="2.75"/><circle cx="187.5" cy="554.1" r="2.75"/><circle cx="199.1" cy="556.3" r="2.75"/><circle cx="416.6" cy="439.5" r="2.75"/><circle cx="461.0" cy="455.1" r="2.75"/><circle cx="495.1" cy="483.0" r="2.75"/><circle cx="481.7" cy="526.3" r="2.75"/><circle cx="488.8" cy="577.4" r="2.75"/><circle cx="509.9" cy="578.6" r="2.75"/><circle cx="594.3" cy="387.1" r="2.75"/><circle cx="640.8" cy="420.3" r="2.75"/><circle cx="542.4" cy="320.2" r="2.75"/><circle cx="667.1" cy="150.1" r="2.75"/><circle cx="699.5" cy="148.3" r="2.75"/><circle cx="732.5" cy="190.0" r="2.75"/><circle cx="727.1" cy="175.6" r="2.75"/><circle cx="736.1" cy="173.9" r="2.75"/><circle cx="714.4" cy="204.4" r="2.75"/><circle cx="737.1" cy="194.9" r="2.75"/><circle cx="800.9" cy="266.7" r="2.75"/><circle cx="920.8" cy="375.6" r="2.75"/><circle cx="966.5" cy="366.2" r="2.75"/><circle cx="703.0" cy="854.1" r="2.75"/><circle cx="717.1" cy="845.9" r="2.75"/><circle cx="494.6" cy="346.3" r="2.75"/><circle cx="545.0" cy="310.5" r="2.75"/><circle cx="543.0" cy="318.0" r="2.75"/><circle cx="537.3" cy="322.8" r="2.75"/><circle cx="492.0" cy="347.0" r="2.75"/><circle cx="492.0" cy="350.0" r="2.75"/><circle cx="487.0" cy="356.0" r="2.75"/><circle cx="488.0" cy="362.0" r="2.75"/><circle cx="491.0" cy="365.0" r="2.75"/></g><g fill="#b093e5"><circle cx="955.9" cy="688.6" r="2.75"/><circle cx="956.0" cy="691.1" r="2.75"/><circle cx="968.5" cy="643.9" r="2.75"/><circle cx="968.7" cy="654.9" r="2.75"/><circle cx="969.9" cy="718.4" r="2.75"/><circle cx="975.6" cy="640.1" r="2.75"/><circle cx="979.1" cy="627.8" r="2.75"/><circle cx="978.9" cy="670.1" r="2.75"/><circle cx="979.5" cy="711.6" r="2.75"/><circle cx="984.9" cy="623.9" r="2.75"/><circle cx="985.0" cy="652.9" r="2.75"/><circle cx="986.5" cy="643.2" r="2.75"/><circle cx="988.1" cy="650.9" r="2.75"/><circle cx="988.4" cy="730.2" r="2.75"/><circle cx="987.6" cy="764.0" r="2.75"/><circle cx="994.5" cy="683.8" r="2.75"/><circle cx="992.5" cy="711.7" r="2.75"/><circle cx="997.2" cy="697.1" r="2.75"/><circle cx="997.2" cy="738.1" r="2.75"/><circle cx="998.4" cy="662.8" r="2.75"/><circle cx="999.6" cy="729.7" r="2.75"/><circle cx="1003.1" cy="655.7" r="2.75"/><circle cx="1000.9" cy="668.7" r="2.75"/><circle cx="1003.6" cy="680.5" r="2.75"/><circle cx="1001.4" cy="761.3" r="2.75"/><circle cx="1004.3" cy="675.3" r="2.75"/><circle cx="1009.2" cy="740.5" r="2.75"/><circle cx="1010.3" cy="700.0" r="2.75"/><circle cx="1013.9" cy="620.5" r="2.75"/><circle cx="1013.6" cy="737.4" r="2.75"/><circle cx="1023.4" cy="635.4" r="2.75"/><circle cx="1024.1" cy="654.3" r="2.75"/><circle cx="1024.2" cy="698.4" r="2.75"/><circle cx="1028.2" cy="633.8" r="2.75"/><circle cx="1029.4" cy="679.2" r="2.75"/><circle cx="1027.8" cy="689.0" r="2.75"/><circle cx="1028.6" cy="751.8" r="2.75"/><circle cx="1032.2" cy="630.5" r="2.75"/><circle cx="1032.9" cy="657.4" r="2.75"/><circle cx="1032.1" cy="723.7" r="2.75"/><circle cx="1033.8" cy="626.9" r="2.75"/><circle cx="1037.2" cy="732.1" r="2.75"/><circle cx="1037.9" cy="744.4" r="2.75"/><circle cx="1042.7" cy="632.0" r="2.75"/><circle cx="1044.7" cy="657.5" r="2.75"/><circle cx="1043.5" cy="684.0" r="2.75"/><circle cx="1051.4" cy="694.4" r="2.75"/><circle cx="1053.7" cy="638.7" r="2.75"/><circle cx="1061.5" cy="654.7" r="2.75"/><circle cx="1062.2" cy="675.1" r="2.75"/><circle cx="1063.0" cy="684.1" r="2.75"/><circle cx="1061.9" cy="697.6" r="2.75"/><circle cx="1066.5" cy="685.4" r="2.75"/><circle cx="924.8" cy="777.9" r="2.75"/><circle cx="926.1" cy="782.3" r="2.75"/><circle cx="934.5" cy="725.3" r="2.75"/><circle cx="939.0" cy="717.1" r="2.75"/><circle cx="944.0" cy="722.4" r="2.75"/><circle cx="945.2" cy="755.1" r="2.75"/><circle cx="943.5" cy="765.1" r="2.75"/><circle cx="947.7" cy="730.2" r="2.75"/><circle cx="954.4" cy="769.1" r="2.75"/><circle cx="961.6" cy="781.6" r="2.75"/><circle cx="921.3" cy="744.2" r="2.75"/><circle cx="946.0" cy="670.7" r="2.75"/><circle cx="949.4" cy="694.7" r="2.75"/><circle cx="896.8" cy="706.7" r="2.75"/><circle cx="897.6" cy="712.5" r="2.75"/><circle cx="901.6" cy="708.0" r="2.75"/><circle cx="899.5" cy="714.4" r="2.75"/><circle cx="906.2" cy="715.7" r="2.75"/><circle cx="916.9" cy="704.2" r="2.75"/><circle cx="929.0" cy="699.8" r="2.75"/><circle cx="930.3" cy="703.1" r="2.75"/><circle cx="956.8" cy="632.9" r="2.75"/><circle cx="952.9" cy="664.4" r="2.75"/><circle cx="955.5" cy="673.4" r="2.75"/><circle cx="954.8" cy="678.9" r="2.75"/><circle cx="957.7" cy="650.8" r="2.75"/><circle cx="965.2" cy="653.2" r="2.75"/><circle cx="968.5" cy="680.1" r="2.75"/><circle cx="970.8" cy="720.7" r="2.75"/><circle cx="964.2" cy="731.7" r="2.75"/><circle cx="973.9" cy="656.5" r="2.75"/><circle cx="975.5" cy="679.5" r="2.75"/><circle cx="977.9" cy="701.3" r="2.75"/><circle cx="973.9" cy="706.3" r="2.75"/><circle cx="980.2" cy="648.3" r="2.75"/><circle cx="984.9" cy="692.2" r="2.75"/><circle cx="981.5" cy="755.2" r="2.75"/><circle cx="992.0" cy="633.9" r="2.75"/><circle cx="989.0" cy="638.0" r="2.75"/><circle cx="988.7" cy="669.1" r="2.75"/><circle cx="990.9" cy="678.6" r="2.75"/><circle cx="989.5" cy="696.0" r="2.75"/><circle cx="987.9" cy="701.4" r="2.75"/><circle cx="987.6" cy="709.2" r="2.75"/><circle cx="989.4" cy="715.9" r="2.75"/><circle cx="988.5" cy="723.0" r="2.75"/><circle cx="990.5" cy="741.1" r="2.75"/><circle cx="991.1" cy="754.5" r="2.75"/><circle cx="994.7" cy="646.8" r="2.75"/><circle cx="994.9" cy="651.7" r="2.75"/><circle cx="994.4" cy="667.2" r="2.75"/><circle cx="996.4" cy="682.0" r="2.75"/><circle cx="999.1" cy="702.7" r="2.75"/><circle cx="1000.7" cy="636.6" r="2.75"/><circle cx="1000.7" cy="690.7" r="2.75"/><circle cx="1001.9" cy="714.6" r="2.75"/><circle cx="1002.8" cy="738.8" r="2.75"/><circle cx="1011.6" cy="693.8" r="2.75"/><circle cx="1011.8" cy="723.3" r="2.75"/><circle cx="1011.2" cy="737.1" r="2.75"/><circle cx="1015.1" cy="639.2" r="2.75"/><circle cx="1014.0" cy="696.1" r="2.75"/><circle cx="1013.9" cy="726.7" r="2.75"/><circle cx="1024.3" cy="660.9" r="2.75"/><circle cx="1022.4" cy="699.9" r="2.75"/><circle cx="1025.6" cy="710.7" r="2.75"/><circle cx="1023.6" cy="721.5" r="2.75"/><circle cx="1034.3" cy="636.6" r="2.75"/><circle cx="1031.0" cy="653.5" r="2.75"/><circle cx="1030.4" cy="659.6" r="2.75"/><circle cx="1032.8" cy="690.7" r="2.75"/><circle cx="1032.2" cy="693.8" r="2.75"/><circle cx="298.6" cy="852.7" r="2.75"/><circle cx="306.2" cy="833.6" r="2.75"/><circle cx="314.7" cy="853.9" r="2.75"/><circle cx="316.7" cy="806.1" r="2.75"/><circle cx="319.8" cy="775.2" r="2.75"/><circle cx="319.6" cy="820.9" r="2.75"/><circle cx="318.5" cy="824.3" r="2.75"/><circle cx="325.1" cy="829.6" r="2.75"/><circle cx="329.1" cy="829.7" r="2.75"/><circle cx="331.9" cy="775.4" r="2.75"/><circle cx="330.2" cy="834.8" r="2.75"/><circle cx="332.7" cy="853.2" r="2.75"/><circle cx="334.6" cy="761.9" r="2.75"/><circle cx="339.2" cy="785.6" r="2.75"/><circle cx="339.0" cy="817.1" r="2.75"/><circle cx="342.8" cy="741.5" r="2.75"/><circle cx="345.5" cy="840.5" r="2.75"/><circle cx="350.7" cy="746.7" r="2.75"/><circle cx="350.8" cy="755.8" r="2.75"/><circle cx="349.3" cy="778.9" r="2.75"/><circle cx="350.3" cy="799.7" r="2.75"/><circle cx="353.7" cy="786.5" r="2.75"/><circle cx="355.9" cy="810.5" r="2.75"/><circle cx="356.5" cy="793.7" r="2.75"/><circle cx="358.5" cy="829.3" r="2.75"/><circle cx="359.2" cy="841.1" r="2.75"/><circle cx="361.4" cy="821.6" r="2.75"/><circle cx="366.6" cy="754.9" r="2.75"/><circle cx="367.9" cy="734.3" r="2.75"/><circle cx="370.6" cy="793.7" r="2.75"/><circle cx="377.6" cy="829.2" r="2.75"/><circle cx="378.7" cy="740.8" r="2.75"/><circle cx="384.8" cy="771.7" r="2.75"/><circle cx="390.2" cy="806.7" r="2.75"/><circle cx="401.0" cy="793.6" r="2.75"/><circle cx="408.6" cy="834.6" r="2.75"/><circle cx="411.4" cy="816.2" r="2.75"/><circle cx="420.8" cy="814.9" r="2.75"/><circle cx="432.6" cy="833.1" r="2.75"/><circle cx="432.6" cy="855.8" r="2.75"/><circle cx="441.3" cy="834.7" r="2.75"/><circle cx="442.9" cy="839.2" r="2.75"/><circle cx="451.4" cy="842.4" r="2.75"/><circle cx="452.5" cy="845.2" r="2.75"/><circle cx="450.8" cy="857.9" r="2.75"/><circle cx="462.4" cy="853.5" r="2.75"/><circle cx="462.9" cy="857.4" r="2.75"/><circle cx="461.8" cy="862.5" r="2.75"/><circle cx="469.0" cy="865.2" r="2.75"/><circle cx="476.3" cy="870.7" r="2.75"/><circle cx="490.7" cy="873.4" r="2.75"/><circle cx="502.3" cy="875.5" r="2.75"/><circle cx="293.6" cy="844.2" r="2.75"/><circle cx="304.9" cy="837.2" r="2.75"/><circle cx="302.2" cy="847.0" r="2.75"/><circle cx="302.2" cy="849.9" r="2.75"/><circle cx="307.9" cy="817.3" r="2.75"/><circle cx="331.1" cy="742.0" r="2.75"/><circle cx="330.9" cy="755.1" r="2.75"/><circle cx="336.9" cy="749.8" r="2.75"/><circle cx="343.0" cy="721.2" r="2.75"/><circle cx="481.7" cy="869.8" r="2.75"/><circle cx="482.3" cy="874.6" r="2.75"/><circle cx="487.1" cy="876.0" r="2.75"/><circle cx="492.9" cy="874.2" r="2.75"/><circle cx="495.6" cy="875.9" r="2.75"/><circle cx="428.9" cy="825.5" r="2.75"/><circle cx="432.9" cy="826.0" r="2.75"/><circle cx="436.3" cy="837.8" r="2.75"/><circle cx="454.5" cy="854.5" r="2.75"/><circle cx="455.7" cy="845.9" r="2.75"/><circle cx="471.4" cy="856.3" r="2.75"/><circle cx="496.9" cy="873.8" r="2.75"/><circle cx="507.9" cy="877.3" r="2.75"/><circle cx="152.5" cy="556.4" r="2.75"/><circle cx="155.2" cy="540.3" r="2.75"/><circle cx="163.3" cy="541.6" r="2.75"/><circle cx="163.5" cy="553.5" r="2.75"/><circle cx="165.8" cy="557.4" r="2.75"/><circle cx="169.9" cy="522.1" r="2.75"/><circle cx="168.4" cy="536.0" r="2.75"/><circle cx="168.6" cy="539.6" r="2.75"/><circle cx="185.2" cy="539.3" r="2.75"/><circle cx="186.2" cy="532.9" r="2.75"/><circle cx="186.5" cy="541.2" r="2.75"/><circle cx="187.5" cy="556.9" r="2.75"/><circle cx="199.7" cy="529.5" r="2.75"/><circle cx="198.7" cy="535.8" r="2.75"/><circle cx="198.9" cy="541.8" r="2.75"/><circle cx="201.0" cy="531.0" r="2.75"/><circle cx="200.4" cy="543.0" r="2.75"/><circle cx="203.4" cy="565.8" r="2.75"/><circle cx="202.2" cy="570.6" r="2.75"/><circle cx="209.4" cy="511.2" r="2.75"/><circle cx="207.7" cy="562.7" r="2.75"/><circle cx="211.4" cy="541.1" r="2.75"/><circle cx="213.4" cy="552.3" r="2.75"/><circle cx="212.0" cy="560.8" r="2.75"/><circle cx="215.4" cy="504.6" r="2.75"/><circle cx="218.1" cy="524.3" r="2.75"/><circle cx="219.6" cy="529.6" r="2.75"/><circle cx="220.6" cy="572.3" r="2.75"/><circle cx="221.6" cy="576.6" r="2.75"/><circle cx="227.5" cy="518.2" r="2.75"/><circle cx="226.0" cy="545.7" r="2.75"/><circle cx="235.3" cy="522.7" r="2.75"/><circle cx="242.9" cy="530.5" r="2.75"/><circle cx="252.9" cy="534.7" r="2.75"/><circle cx="256.8" cy="530.5" r="2.75"/><circle cx="381.8" cy="386.7" r="2.75"/><circle cx="380.3" cy="391.9" r="2.75"/><circle cx="384.3" cy="386.7" r="2.75"/><circle cx="395.9" cy="410.7" r="2.75"/><circle cx="396.5" cy="427.9" r="2.75"/><circle cx="396.8" cy="399.1" r="2.75"/><circle cx="403.5" cy="429.7" r="2.75"/><circle cx="407.4" cy="394.1" r="2.75"/><circle cx="409.0" cy="403.5" r="2.75"/><circle cx="408.9" cy="419.6" r="2.75"/><circle cx="409.8" cy="402.8" r="2.75"/><circle cx="420.8" cy="398.9" r="2.75"/><circle cx="421.0" cy="419.1" r="2.75"/><circle cx="420.5" cy="426.2" r="2.75"/><circle cx="427.8" cy="413.6" r="2.75"/><circle cx="439.2" cy="412.1" r="2.75"/><circle cx="441.7" cy="398.3" r="2.75"/><circle cx="458.4" cy="443.2" r="2.75"/><circle cx="464.6" cy="436.0" r="2.75"/><circle cx="465.9" cy="450.9" r="2.75"/><circle cx="467.4" cy="457.7" r="2.75"/><circle cx="479.9" cy="441.0" r="2.75"/><circle cx="487.3" cy="466.6" r="2.75"/><circle cx="495.5" cy="462.9" r="2.75"/><circle cx="502.2" cy="459.7" r="2.75"/><circle cx="524.5" cy="443.7" r="2.75"/><circle cx="485.4" cy="471.0" r="2.75"/><circle cx="483.1" cy="476.8" r="2.75"/><circle cx="482.6" cy="494.1" r="2.75"/><circle cx="479.8" cy="505.0" r="2.75"/><circle cx="497.0" cy="500.2" r="2.75"/><circle cx="502.9" cy="526.9" r="2.75"/><circle cx="509.2" cy="499.4" r="2.75"/><circle cx="509.1" cy="505.1" r="2.75"/><circle cx="507.9" cy="517.5" r="2.75"/><circle cx="518.8" cy="488.5" r="2.75"/><circle cx="545.9" cy="472.0" r="2.75"/><circle cx="546.3" cy="492.2" r="2.75"/><circle cx="556.6" cy="482.2" r="2.75"/><circle cx="456.1" cy="528.7" r="2.75"/><circle cx="473.3" cy="547.9" r="2.75"/><circle cx="486.2" cy="580.3" r="2.75"/><circle cx="492.0" cy="587.1" r="2.75"/><circle cx="502.3" cy="578.0" r="2.75"/><circle cx="484.6" cy="531.6" r="2.75"/><circle cx="485.9" cy="535.8" r="2.75"/><circle cx="486.5" cy="555.0" r="2.75"/><circle cx="484.0" cy="574.4" r="2.75"/><circle cx="488.7" cy="542.4" r="2.75"/><circle cx="488.3" cy="560.4" r="2.75"/><circle cx="487.7" cy="563.3" r="2.75"/><circle cx="493.2" cy="525.2" r="2.75"/><circle cx="496.0" cy="571.8" r="2.75"/><circle cx="499.1" cy="577.3" r="2.75"/><circle cx="500.2" cy="525.8" r="2.75"/><circle cx="505.1" cy="563.3" r="2.75"/><circle cx="509.5" cy="539.9" r="2.75"/><circle cx="518.1" cy="537.1" r="2.75"/><circle cx="516.1" cy="546.4" r="2.75"/><circle cx="520.0" cy="546.5" r="2.75"/><circle cx="432.1" cy="529.9" r="2.75"/><circle cx="432.9" cy="538.5" r="2.75"/><circle cx="428.9" cy="540.8" r="2.75"/><circle cx="441.6" cy="525.6" r="2.75"/><circle cx="443.1" cy="537.4" r="2.75"/><circle cx="454.2" cy="527.2" r="2.75"/><circle cx="576.1" cy="473.6" r="2.75"/><circle cx="599.8" cy="470.5" r="2.75"/><circle cx="612.6" cy="456.2" r="2.75"/><circle cx="610.7" cy="461.4" r="2.75"/><circle cx="648.6" cy="455.9" r="2.75"/><circle cx="666.1" cy="445.8" r="2.75"/><circle cx="591.4" cy="409.7" r="2.75"/><circle cx="596.1" cy="416.0" r="2.75"/><circle cx="605.1" cy="421.0" r="2.75"/><circle cx="616.1" cy="398.0" r="2.75"/><circle cx="616.7" cy="416.5" r="2.75"/><circle cx="622.3" cy="397.1" r="2.75"/><circle cx="628.0" cy="419.2" r="2.75"/><circle cx="629.5" cy="414.2" r="2.75"/><circle cx="637.0" cy="418.1" r="2.75"/><circle cx="669.7" cy="428.1" r="2.75"/><circle cx="681.5" cy="428.3" r="2.75"/><circle cx="680.2" cy="447.6" r="2.75"/><circle cx="683.2" cy="466.8" r="2.75"/><circle cx="688.0" cy="458.2" r="2.75"/><circle cx="695.3" cy="468.9" r="2.75"/><circle cx="712.1" cy="449.3" r="2.75"/><circle cx="710.9" cy="457.1" r="2.75"/><circle cx="718.1" cy="445.9" r="2.75"/><circle cx="717.9" cy="454.0" r="2.75"/><circle cx="541.4" cy="210.4" r="2.75"/><circle cx="543.7" cy="228.2" r="2.75"/><circle cx="544.8" cy="246.8" r="2.75"/><circle cx="570.0" cy="222.9" r="2.75"/><circle cx="544.7" cy="315.6" r="2.75"/><circle cx="544.3" cy="317.7" r="2.75"/><circle cx="545.8" cy="311.8" r="2.75"/><circle cx="549.5" cy="316.3" r="2.75"/><circle cx="665.4" cy="172.3" r="2.75"/><circle cx="666.5" cy="177.4" r="2.75"/><circle cx="669.6" cy="164.0" r="2.75"/><circle cx="672.2" cy="181.2" r="2.75"/><circle cx="684.2" cy="139.3" r="2.75"/><circle cx="688.5" cy="176.2" r="2.75"/><circle cx="689.6" cy="145.9" r="2.75"/><circle cx="694.1" cy="134.4" r="2.75"/><circle cx="693.0" cy="148.5" r="2.75"/><circle cx="695.5" cy="136.4" r="2.75"/><circle cx="702.6" cy="155.7" r="2.75"/><circle cx="701.4" cy="164.6" r="2.75"/><circle cx="702.2" cy="171.5" r="2.75"/><circle cx="704.7" cy="128.3" r="2.75"/><circle cx="707.0" cy="126.2" r="2.75"/><circle cx="706.3" cy="128.0" r="2.75"/><circle cx="706.3" cy="136.2" r="2.75"/><circle cx="706.8" cy="161.1" r="2.75"/><circle cx="712.0" cy="132.6" r="2.75"/><circle cx="710.8" cy="135.1" r="2.75"/><circle cx="715.0" cy="160.0" r="2.75"/><circle cx="716.4" cy="163.1" r="2.75"/><circle cx="716.2" cy="198.7" r="2.75"/><circle cx="721.6" cy="185.0" r="2.75"/><circle cx="729.4" cy="160.3" r="2.75"/><circle cx="726.9" cy="166.5" r="2.75"/><circle cx="732.0" cy="154.1" r="2.75"/><circle cx="733.7" cy="155.6" r="2.75"/><circle cx="733.7" cy="185.8" r="2.75"/><circle cx="736.4" cy="181.0" r="2.75"/><circle cx="684.9" cy="159.9" r="2.75"/><circle cx="693.0" cy="170.7" r="2.75"/><circle cx="700.1" cy="160.4" r="2.75"/><circle cx="699.3" cy="187.9" r="2.75"/><circle cx="707.7" cy="157.0" r="2.75"/><circle cx="706.3" cy="186.5" r="2.75"/><circle cx="712.9" cy="148.7" r="2.75"/><circle cx="715.6" cy="162.5" r="2.75"/><circle cx="710.6" cy="190.1" r="2.75"/><circle cx="719.3" cy="183.5" r="2.75"/><circle cx="730.1" cy="194.9" r="2.75"/><circle cx="738.2" cy="178.1" r="2.75"/><circle cx="714.3" cy="194.5" r="2.75"/><circle cx="718.3" cy="198.6" r="2.75"/><circle cx="724.7" cy="188.9" r="2.75"/><circle cx="727.7" cy="229.2" r="2.75"/><circle cx="731.8" cy="195.2" r="2.75"/><circle cx="732.1" cy="205.2" r="2.75"/><circle cx="732.4" cy="233.5" r="2.75"/><circle cx="734.9" cy="220.2" r="2.75"/><circle cx="751.9" cy="201.2" r="2.75"/><circle cx="749.2" cy="220.8" r="2.75"/><circle cx="756.8" cy="244.1" r="2.75"/><circle cx="759.5" cy="251.5" r="2.75"/><circle cx="765.7" cy="260.3" r="2.75"/><circle cx="767.5" cy="263.8" r="2.75"/><circle cx="779.2" cy="266.4" r="2.75"/><circle cx="782.4" cy="272.8" r="2.75"/><circle cx="789.2" cy="269.7" r="2.75"/><circle cx="812.4" cy="235.5" r="2.75"/><circle cx="809.7" cy="239.2" r="2.75"/><circle cx="674.0" cy="201.1" r="2.75"/><circle cx="677.8" cy="209.1" r="2.75"/><circle cx="676.7" cy="225.2" r="2.75"/><circle cx="656.4" cy="249.8" r="2.75"/><circle cx="664.0" cy="250.0" r="2.75"/><circle cx="672.5" cy="242.4" r="2.75"/><circle cx="675.6" cy="251.5" r="2.75"/><circle cx="794.1" cy="279.0" r="2.75"/><circle cx="798.8" cy="276.4" r="2.75"/><circle cx="812.5" cy="277.2" r="2.75"/><circle cx="818.1" cy="285.3" r="2.75"/><circle cx="821.6" cy="287.9" r="2.75"/><circle cx="840.3" cy="288.0" r="2.75"/><circle cx="810.1" cy="279.7" r="2.75"/><circle cx="823.0" cy="290.1" r="2.75"/><circle cx="825.7" cy="278.9" r="2.75"/><circle cx="828.2" cy="285.7" r="2.75"/><circle cx="832.5" cy="282.7" r="2.75"/><circle cx="830.9" cy="293.4" r="2.75"/><circle cx="837.5" cy="288.6" r="2.75"/><circle cx="783.6" cy="291.5" r="2.75"/><circle cx="864.1" cy="365.3" r="2.75"/><circle cx="864.2" cy="366.7" r="2.75"/><circle cx="867.5" cy="368.7" r="2.75"/><circle cx="869.6" cy="371.4" r="2.75"/><circle cx="874.1" cy="367.9" r="2.75"/><circle cx="877.6" cy="376.4" r="2.75"/><circle cx="879.8" cy="372.5" r="2.75"/><circle cx="882.1" cy="377.4" r="2.75"/><circle cx="883.9" cy="370.4" r="2.75"/><circle cx="885.9" cy="373.1" r="2.75"/><circle cx="888.9" cy="365.7" r="2.75"/><circle cx="888.9" cy="370.3" r="2.75"/><circle cx="889.9" cy="365.7" r="2.75"/><circle cx="889.7" cy="369.4" r="2.75"/><circle cx="892.2" cy="366.8" r="2.75"/><circle cx="893.9" cy="375.0" r="2.75"/><circle cx="894.5" cy="371.1" r="2.75"/><circle cx="897.6" cy="372.9" r="2.75"/><circle cx="903.2" cy="375.2" r="2.75"/><circle cx="934.6" cy="363.4" r="2.75"/><circle cx="914.2" cy="370.9" r="2.75"/><circle cx="914.5" cy="373.5" r="2.75"/><circle cx="920.0" cy="376.6" r="2.75"/><circle cx="921.2" cy="366.0" r="2.75"/><circle cx="922.9" cy="376.1" r="2.75"/><circle cx="931.4" cy="370.1" r="2.75"/><circle cx="932.3" cy="375.8" r="2.75"/><circle cx="933.4" cy="368.5" r="2.75"/><circle cx="934.3" cy="371.1" r="2.75"/><circle cx="934.3" cy="374.3" r="2.75"/><circle cx="934.6" cy="376.0" r="2.75"/><circle cx="937.5" cy="371.5" r="2.75"/><circle cx="939.5" cy="370.2" r="2.75"/><circle cx="942.2" cy="376.3" r="2.75"/><circle cx="944.7" cy="375.6" r="2.75"/><circle cx="947.0" cy="380.0" r="2.75"/><circle cx="950.3" cy="381.7" r="2.75"/><circle cx="952.2" cy="365.3" r="2.75"/><circle cx="953.2" cy="371.7" r="2.75"/><circle cx="953.2" cy="375.6" r="2.75"/><circle cx="955.2" cy="378.0" r="2.75"/><circle cx="957.9" cy="369.5" r="2.75"/><circle cx="957.7" cy="372.7" r="2.75"/><circle cx="960.3" cy="365.7" r="2.75"/><circle cx="959.7" cy="368.0" r="2.75"/><circle cx="963.9" cy="367.6" r="2.75"/><circle cx="966.8" cy="370.0" r="2.75"/><circle cx="967.6" cy="372.0" r="2.75"/><circle cx="967.8" cy="373.1" r="2.75"/><circle cx="971.5" cy="370.4" r="2.75"/><circle cx="932.8" cy="392.7" r="2.75"/><circle cx="934.9" cy="395.5" r="2.75"/><circle cx="933.2" cy="397.2" r="2.75"/><circle cx="939.1" cy="391.4" r="2.75"/><circle cx="900.6" cy="568.6" r="2.75"/><circle cx="904.4" cy="560.6" r="2.75"/><circle cx="904.7" cy="563.0" r="2.75"/><circle cx="908.6" cy="548.7" r="2.75"/><circle cx="905.9" cy="556.6" r="2.75"/><circle cx="908.1" cy="557.3" r="2.75"/><circle cx="911.4" cy="548.3" r="2.75"/><circle cx="911.5" cy="558.7" r="2.75"/><circle cx="910.4" cy="560.3" r="2.75"/><circle cx="913.5" cy="546.7" r="2.75"/><circle cx="916.6" cy="538.7" r="2.75"/><circle cx="601.9" cy="668.4" r="2.75"/><circle cx="611.2" cy="665.3" r="2.75"/><circle cx="615.2" cy="643.2" r="2.75"/><circle cx="617.5" cy="691.2" r="2.75"/><circle cx="625.8" cy="674.9" r="2.75"/><circle cx="653.6" cy="694.0" r="2.75"/><circle cx="658.1" cy="699.8" r="2.75"/><circle cx="564.9" cy="771.3" r="2.75"/><circle cx="568.5" cy="765.8" r="2.75"/><circle cx="572.8" cy="777.9" r="2.75"/><circle cx="737.0" cy="715.9" r="2.75"/><circle cx="802.9" cy="791.2" r="2.75"/><circle cx="806.9" cy="787.5" r="2.75"/><circle cx="806.1" cy="792.1" r="2.75"/><circle cx="807.5" cy="796.9" r="2.75"/><circle cx="697.7" cy="845.1" r="2.75"/><circle cx="701.7" cy="848.2" r="2.75"/><circle cx="703.2" cy="838.8" r="2.75"/><circle cx="710.5" cy="846.6" r="2.75"/><circle cx="710.2" cy="854.3" r="2.75"/><circle cx="714.2" cy="848.0" r="2.75"/><circle cx="713.0" cy="855.0" r="2.75"/><circle cx="716.9" cy="845.0" r="2.75"/><circle cx="714.7" cy="852.6" r="2.75"/><circle cx="718.8" cy="842.2" r="2.75"/><circle cx="718.5" cy="842.6" r="2.75"/><circle cx="720.7" cy="841.1" r="2.75"/><circle cx="722.0" cy="853.0" r="2.75"/><circle cx="720.5" cy="857.6" r="2.75"/><circle cx="724.0" cy="849.2" r="2.75"/><circle cx="479.6" cy="351.7" r="2.75"/><circle cx="485.1" cy="354.1" r="2.75"/><circle cx="488.3" cy="344.6" r="2.75"/><circle cx="487.7" cy="346.1" r="2.75"/><circle cx="488.7" cy="359.7" r="2.75"/><circle cx="489.4" cy="355.5" r="2.75"/><circle cx="492.2" cy="356.7" r="2.75"/><circle cx="495.5" cy="347.1" r="2.75"/><circle cx="544.9" cy="312.5" r="2.75"/><circle cx="551.3" cy="311.4" r="2.75"/><circle cx="508.3" cy="909.1" r="2.75"/><circle cx="256.7" cy="495.3" r="2.75"/><circle cx="270.0" cy="536.0" r="2.75"/><circle cx="200.0" cy="506.0" r="2.75"/><circle cx="564.9" cy="526.3" r="2.75"/><circle cx="575.6" cy="533.4" r="2.75"/><circle cx="577.1" cy="535.7" r="2.75"/><circle cx="580.7" cy="538.3" r="2.75"/><circle cx="573.8" cy="248.5" r="2.75"/><circle cx="586.5" cy="247.8" r="2.75"/><circle cx="590.2" cy="245.5" r="2.75"/><circle cx="633.0" cy="243.2" r="2.75"/><circle cx="638.2" cy="245.8" r="2.75"/><circle cx="664.5" cy="242.5" r="2.75"/><circle cx="669.0" cy="241.0" r="2.75"/><circle cx="567.8" cy="218.5" r="2.75"/><circle cx="548.7" cy="218.8" r="2.75"/><circle cx="545.5" cy="244.0" r="2.75"/><circle cx="584.2" cy="232.4" r="2.75"/><circle cx="594.0" cy="229.8" r="2.75"/><circle cx="598.5" cy="231.2" r="2.75"/><circle cx="610.2" cy="239.2" r="2.75"/><circle cx="695.0" cy="260.0" r="2.75"/><circle cx="740.0" cy="276.7" r="2.75"/><circle cx="746.7" cy="271.7" r="2.75"/><circle cx="751.7" cy="268.3" r="2.75"/><circle cx="775.0" cy="286.7" r="2.75"/><circle cx="776.7" cy="293.3" r="2.75"/><circle cx="816.7" cy="310.0" r="2.75"/><circle cx="733.3" cy="520.2" r="2.75"/><circle cx="742.7" cy="537.9" r="2.75"/><circle cx="741.7" cy="550.4" r="2.75"/><circle cx="747.9" cy="549.6" r="2.75"/><circle cx="770.8" cy="587.5" r="2.75"/><circle cx="775.4" cy="598.3" r="2.75"/><circle cx="714.6" cy="588.5" r="2.75"/><circle cx="901.5" cy="596.9" r="2.75"/><circle cx="602.2" cy="661.5" r="2.75"/><circle cx="610.8" cy="660.0" r="2.75"/><circle cx="608.6" cy="666.5" r="2.75"/><circle cx="610.0" cy="669.0" r="2.75"/><circle cx="626.3" cy="667.1" r="2.75"/><circle cx="629.9" cy="663.3" r="2.75"/><circle cx="643.3" cy="662.6" r="2.75"/><circle cx="646.9" cy="664.7" r="2.75"/><circle cx="596.9" cy="676.0" r="2.75"/><circle cx="612.2" cy="679.6" r="2.75"/><circle cx="615.0" cy="684.3" r="2.75"/><circle cx="627.8" cy="683.1" r="2.75"/><circle cx="629.2" cy="686.7" r="2.75"/><circle cx="605.8" cy="686.7" r="2.75"/><circle cx="613.6" cy="693.8" r="2.75"/><circle cx="621.4" cy="697.3" r="2.75"/><circle cx="630.9" cy="695.9" r="2.75"/><circle cx="639.8" cy="706.5" r="2.75"/><circle cx="641.9" cy="707.2" r="2.75"/><circle cx="649.0" cy="684.3" r="2.75"/><circle cx="651.1" cy="708.6" r="2.75"/><circle cx="671.4" cy="713.9" r="2.75"/><circle cx="675.9" cy="717.8" r="2.75"/><circle cx="673.8" cy="731.3" r="2.75"/><circle cx="605.1" cy="703.7" r="2.75"/><circle cx="607.2" cy="704.4" r="2.75"/><circle cx="749.9" cy="788.8" r="2.75"/><circle cx="750.3" cy="794.9" r="2.75"/><circle cx="519.7" cy="972.8" r="2.75"/><circle cx="519.7" cy="977.1" r="2.75"/><circle cx="524.0" cy="981.4" r="2.75"/><circle cx="517.5" cy="988.6" r="2.75"/><circle cx="521.4" cy="989.0" r="2.75"/><circle cx="532.7" cy="990.1" r="2.75"/><circle cx="525.7" cy="1004.2" r="2.75"/><circle cx="531.6" cy="1003.1" r="2.75"/><circle cx="526.2" cy="1011.8" r="2.75"/><circle cx="532.7" cy="1010.7" r="2.75"/><circle cx="532.2" cy="1014.4" r="2.75"/><circle cx="517.9" cy="1017.6" r="2.75"/><circle cx="516.4" cy="1018.9" r="2.75"/><circle cx="521.8" cy="1016.1" r="2.75"/><circle cx="439.9" cy="1042.7" r="2.75"/><circle cx="659.4" cy="983.6" r="2.75"/></g><g fill="#aa89e7"><circle cx="955.6" cy="701.7" r="2.75"/><circle cx="961.9" cy="678.9" r="2.75"/><circle cx="960.6" cy="737.5" r="2.75"/><circle cx="962.8" cy="653.3" r="2.75"/><circle cx="964.8" cy="700.7" r="2.75"/><circle cx="967.6" cy="711.1" r="2.75"/><circle cx="967.3" cy="744.2" r="2.75"/><circle cx="971.0" cy="637.7" r="2.75"/><circle cx="973.2" cy="748.9" r="2.75"/><circle cx="974.7" cy="704.2" r="2.75"/><circle cx="977.4" cy="737.8" r="2.75"/><circle cx="982.2" cy="670.8" r="2.75"/><circle cx="984.1" cy="641.4" r="2.75"/><circle cx="990.7" cy="760.4" r="2.75"/><circle cx="1011.2" cy="732.5" r="2.75"/><circle cx="1021.6" cy="628.7" r="2.75"/><circle cx="1026.4" cy="757.1" r="2.75"/><circle cx="1028.6" cy="698.0" r="2.75"/><circle cx="1037.7" cy="676.1" r="2.75"/><circle cx="1037.6" cy="739.3" r="2.75"/><circle cx="1041.4" cy="643.4" r="2.75"/><circle cx="1045.4" cy="677.0" r="2.75"/><circle cx="1054.4" cy="663.0" r="2.75"/><circle cx="1053.6" cy="671.9" r="2.75"/><circle cx="1052.6" cy="685.4" r="2.75"/><circle cx="923.4" cy="758.1" r="2.75"/><circle cx="954.8" cy="756.1" r="2.75"/><circle cx="937.6" cy="689.6" r="2.75"/><circle cx="937.0" cy="710.6" r="2.75"/><circle cx="912.0" cy="708.3" r="2.75"/><circle cx="914.5" cy="711.2" r="2.75"/><circle cx="914.8" cy="719.3" r="2.75"/><circle cx="924.6" cy="704.7" r="2.75"/><circle cx="955.1" cy="693.6" r="2.75"/><circle cx="956.6" cy="712.5" r="2.75"/><circle cx="952.4" cy="717.3" r="2.75"/><circle cx="957.6" cy="727.0" r="2.75"/><circle cx="970.5" cy="669.4" r="2.75"/><circle cx="965.2" cy="735.4" r="2.75"/><circle cx="982.6" cy="674.1" r="2.75"/><circle cx="978.6" cy="702.7" r="2.75"/><circle cx="982.8" cy="758.1" r="2.75"/><circle cx="991.9" cy="656.1" r="2.75"/><circle cx="994.4" cy="633.3" r="2.75"/><circle cx="994.4" cy="657.0" r="2.75"/><circle cx="993.7" cy="676.0" r="2.75"/><circle cx="998.2" cy="714.1" r="2.75"/><circle cx="1003.4" cy="634.0" r="2.75"/><circle cx="1001.4" cy="679.3" r="2.75"/><circle cx="1008.7" cy="667.0" r="2.75"/><circle cx="1007.2" cy="705.6" r="2.75"/><circle cx="1015.5" cy="679.0" r="2.75"/><circle cx="1014.0" cy="706.6" r="2.75"/><circle cx="1019.3" cy="714.0" r="2.75"/><circle cx="1018.8" cy="732.8" r="2.75"/><circle cx="1024.4" cy="641.6" r="2.75"/><circle cx="1022.9" cy="687.2" r="2.75"/><circle cx="1022.2" cy="717.2" r="2.75"/><circle cx="1028.8" cy="644.2" r="2.75"/><circle cx="312.9" cy="779.1" r="2.75"/><circle cx="313.3" cy="795.6" r="2.75"/><circle cx="322.2" cy="786.6" r="2.75"/><circle cx="322.9" cy="753.0" r="2.75"/><circle cx="322.8" cy="846.7" r="2.75"/><circle cx="326.8" cy="824.7" r="2.75"/><circle cx="327.1" cy="833.2" r="2.75"/><circle cx="336.3" cy="804.4" r="2.75"/><circle cx="336.6" cy="849.0" r="2.75"/><circle cx="335.9" cy="856.7" r="2.75"/><circle cx="337.7" cy="837.8" r="2.75"/><circle cx="341.5" cy="844.1" r="2.75"/><circle cx="355.8" cy="741.9" r="2.75"/><circle cx="355.4" cy="795.9" r="2.75"/><circle cx="361.7" cy="779.5" r="2.75"/><circle cx="361.1" cy="845.9" r="2.75"/><circle cx="366.4" cy="823.3" r="2.75"/><circle cx="370.4" cy="771.7" r="2.75"/><circle cx="372.7" cy="779.1" r="2.75"/><circle cx="374.1" cy="822.4" r="2.75"/><circle cx="376.1" cy="739.9" r="2.75"/><circle cx="381.0" cy="741.6" r="2.75"/><circle cx="382.5" cy="752.0" r="2.75"/><circle cx="387.2" cy="729.7" r="2.75"/><circle cx="389.8" cy="779.8" r="2.75"/><circle cx="386.5" cy="856.3" r="2.75"/><circle cx="400.0" cy="832.9" r="2.75"/><circle cx="410.2" cy="823.2" r="2.75"/><circle cx="414.4" cy="810.6" r="2.75"/><circle cx="418.9" cy="839.6" r="2.75"/><circle cx="436.1" cy="836.7" r="2.75"/><circle cx="440.9" cy="831.3" r="2.75"/><circle cx="493.7" cy="873.6" r="2.75"/><circle cx="498.1" cy="872.4" r="2.75"/><circle cx="294.0" cy="818.5" r="2.75"/><circle cx="292.7" cy="834.0" r="2.75"/><circle cx="296.5" cy="818.2" r="2.75"/><circle cx="305.2" cy="827.4" r="2.75"/><circle cx="309.0" cy="854.1" r="2.75"/><circle cx="308.0" cy="857.2" r="2.75"/><circle cx="324.5" cy="741.6" r="2.75"/><circle cx="332.5" cy="734.7" r="2.75"/><circle cx="329.3" cy="743.8" r="2.75"/><circle cx="335.9" cy="739.7" r="2.75"/><circle cx="341.4" cy="755.6" r="2.75"/><circle cx="491.6" cy="871.9" r="2.75"/><circle cx="421.1" cy="848.3" r="2.75"/><circle cx="433.2" cy="834.7" r="2.75"/><circle cx="434.8" cy="857.9" r="2.75"/><circle cx="441.6" cy="848.6" r="2.75"/><circle cx="465.2" cy="865.9" r="2.75"/><circle cx="471.0" cy="851.6" r="2.75"/><circle cx="473.8" cy="863.5" r="2.75"/><circle cx="512.8" cy="876.8" r="2.75"/><circle cx="157.2" cy="537.0" r="2.75"/><circle cx="165.8" cy="562.3" r="2.75"/><circle cx="192.0" cy="509.8" r="2.75"/><circle cx="192.7" cy="550.2" r="2.75"/><circle cx="190.8" cy="559.9" r="2.75"/><circle cx="198.8" cy="532.3" r="2.75"/><circle cx="199.5" cy="570.7" r="2.75"/><circle cx="203.8" cy="543.2" r="2.75"/><circle cx="208.9" cy="549.4" r="2.75"/><circle cx="220.5" cy="509.8" r="2.75"/><circle cx="228.3" cy="527.7" r="2.75"/><circle cx="232.6" cy="518.4" r="2.75"/><circle cx="249.3" cy="529.5" r="2.75"/><circle cx="381.5" cy="408.0" r="2.75"/><circle cx="404.3" cy="436.4" r="2.75"/><circle cx="423.3" cy="436.9" r="2.75"/><circle cx="429.5" cy="391.9" r="2.75"/><circle cx="437.0" cy="415.0" r="2.75"/><circle cx="448.7" cy="415.4" r="2.75"/><circle cx="447.5" cy="441.9" r="2.75"/><circle cx="487.0" cy="447.8" r="2.75"/><circle cx="506.4" cy="453.6" r="2.75"/><circle cx="518.2" cy="445.4" r="2.75"/><circle cx="486.2" cy="514.1" r="2.75"/><circle cx="509.0" cy="525.3" r="2.75"/><circle cx="515.1" cy="522.7" r="2.75"/><circle cx="528.0" cy="481.8" r="2.75"/><circle cx="524.1" cy="508.4" r="2.75"/><circle cx="562.3" cy="477.5" r="2.75"/><circle cx="438.5" cy="535.3" r="2.75"/><circle cx="442.7" cy="568.2" r="2.75"/><circle cx="458.6" cy="523.6" r="2.75"/><circle cx="477.7" cy="543.5" r="2.75"/><circle cx="492.9" cy="524.6" r="2.75"/><circle cx="481.7" cy="571.8" r="2.75"/><circle cx="490.2" cy="527.5" r="2.75"/><circle cx="487.1" cy="538.1" r="2.75"/><circle cx="488.7" cy="571.4" r="2.75"/><circle cx="502.7" cy="554.0" r="2.75"/><circle cx="501.1" cy="555.2" r="2.75"/><circle cx="500.4" cy="572.5" r="2.75"/><circle cx="513.9" cy="560.1" r="2.75"/><circle cx="441.5" cy="539.4" r="2.75"/><circle cx="442.8" cy="542.2" r="2.75"/><circle cx="552.6" cy="479.4" r="2.75"/><circle cx="581.0" cy="464.4" r="2.75"/><circle cx="606.1" cy="456.6" r="2.75"/><circle cx="615.1" cy="449.0" r="2.75"/><circle cx="640.1" cy="442.6" r="2.75"/><circle cx="653.0" cy="454.3" r="2.75"/><circle cx="658.8" cy="452.4" r="2.75"/><circle cx="619.3" cy="420.3" r="2.75"/><circle cx="626.8" cy="422.4" r="2.75"/><circle cx="674.5" cy="445.8" r="2.75"/><circle cx="682.8" cy="433.5" r="2.75"/><circle cx="688.7" cy="468.0" r="2.75"/><circle cx="693.3" cy="433.1" r="2.75"/><circle cx="697.8" cy="461.4" r="2.75"/><circle cx="703.9" cy="429.0" r="2.75"/><circle cx="707.8" cy="452.5" r="2.75"/><circle cx="542.3" cy="250.4" r="2.75"/><circle cx="552.0" cy="238.6" r="2.75"/><circle cx="572.2" cy="225.1" r="2.75"/><circle cx="546.3" cy="313.0" r="2.75"/><circle cx="550.2" cy="312.6" r="2.75"/><circle cx="681.5" cy="173.0" r="2.75"/><circle cx="682.9" cy="121.2" r="2.75"/><circle cx="683.7" cy="128.2" r="2.75"/><circle cx="683.0" cy="132.9" r="2.75"/><circle cx="683.7" cy="155.9" r="2.75"/><circle cx="687.6" cy="149.1" r="2.75"/><circle cx="689.0" cy="157.4" r="2.75"/><circle cx="691.4" cy="180.0" r="2.75"/><circle cx="698.4" cy="124.7" r="2.75"/><circle cx="706.2" cy="189.3" r="2.75"/><circle cx="713.1" cy="170.4" r="2.75"/><circle cx="717.5" cy="156.1" r="2.75"/><circle cx="690.7" cy="154.8" r="2.75"/><circle cx="699.3" cy="164.0" r="2.75"/><circle cx="696.4" cy="172.7" r="2.75"/><circle cx="708.4" cy="162.3" r="2.75"/><circle cx="709.1" cy="175.9" r="2.75"/><circle cx="710.1" cy="173.9" r="2.75"/><circle cx="721.2" cy="165.3" r="2.75"/><circle cx="729.4" cy="190.5" r="2.75"/><circle cx="728.5" cy="206.2" r="2.75"/><circle cx="732.9" cy="193.6" r="2.75"/><circle cx="738.8" cy="184.2" r="2.75"/><circle cx="738.6" cy="197.0" r="2.75"/><circle cx="759.4" cy="215.1" r="2.75"/><circle cx="761.9" cy="216.5" r="2.75"/><circle cx="764.6" cy="221.4" r="2.75"/><circle cx="764.9" cy="247.9" r="2.75"/><circle cx="777.6" cy="255.5" r="2.75"/><circle cx="779.7" cy="268.1" r="2.75"/><circle cx="787.8" cy="244.3" r="2.75"/><circle cx="792.8" cy="260.8" r="2.75"/><circle cx="790.7" cy="267.1" r="2.75"/><circle cx="796.7" cy="222.9" r="2.75"/><circle cx="799.8" cy="249.6" r="2.75"/><circle cx="804.4" cy="212.0" r="2.75"/><circle cx="657.2" cy="240.6" r="2.75"/><circle cx="796.4" cy="270.6" r="2.75"/><circle cx="800.6" cy="282.5" r="2.75"/><circle cx="805.4" cy="293.8" r="2.75"/><circle cx="832.9" cy="279.3" r="2.75"/><circle cx="835.6" cy="282.9" r="2.75"/><circle cx="811.9" cy="280.0" r="2.75"/><circle cx="857.1" cy="363.0" r="2.75"/><circle cx="866.0" cy="369.6" r="2.75"/><circle cx="867.0" cy="372.2" r="2.75"/><circle cx="870.9" cy="367.3" r="2.75"/><circle cx="871.1" cy="375.6" r="2.75"/><circle cx="873.5" cy="369.2" r="2.75"/><circle cx="875.9" cy="372.9" r="2.75"/><circle cx="878.4" cy="367.4" r="2.75"/><circle cx="879.5" cy="375.7" r="2.75"/><circle cx="885.2" cy="366.2" r="2.75"/><circle cx="886.4" cy="376.6" r="2.75"/><circle cx="890.8" cy="375.2" r="2.75"/><circle cx="907.3" cy="372.8" r="2.75"/><circle cx="925.2" cy="367.1" r="2.75"/><circle cx="927.7" cy="374.8" r="2.75"/><circle cx="926.6" cy="376.0" r="2.75"/><circle cx="929.9" cy="369.8" r="2.75"/><circle cx="930.1" cy="371.0" r="2.75"/><circle cx="937.4" cy="367.6" r="2.75"/><circle cx="940.3" cy="369.3" r="2.75"/><circle cx="940.9" cy="365.9" r="2.75"/><circle cx="940.9" cy="369.1" r="2.75"/><circle cx="956.8" cy="376.3" r="2.75"/><circle cx="962.1" cy="365.3" r="2.75"/><circle cx="965.8" cy="371.2" r="2.75"/><circle cx="964.3" cy="373.4" r="2.75"/><circle cx="964.6" cy="375.6" r="2.75"/><circle cx="970.9" cy="367.8" r="2.75"/><circle cx="935.7" cy="393.4" r="2.75"/><circle cx="754.5" cy="550.2" r="2.75"/><circle cx="613.7" cy="673.6" r="2.75"/><circle cx="617.7" cy="675.8" r="2.75"/><circle cx="632.4" cy="695.1" r="2.75"/><circle cx="643.5" cy="691.3" r="2.75"/><circle cx="549.7" cy="780.1" r="2.75"/><circle cx="560.6" cy="767.4" r="2.75"/><circle cx="805.4" cy="788.1" r="2.75"/><circle cx="809.1" cy="791.5" r="2.75"/><circle cx="694.4" cy="849.8" r="2.75"/><circle cx="700.4" cy="844.6" r="2.75"/><circle cx="700.3" cy="853.3" r="2.75"/><circle cx="702.7" cy="857.4" r="2.75"/><circle cx="707.8" cy="851.7" r="2.75"/><circle cx="712.7" cy="843.0" r="2.75"/><circle cx="718.7" cy="851.5" r="2.75"/><circle cx="721.0" cy="849.3" r="2.75"/><circle cx="720.7" cy="854.9" r="2.75"/><circle cx="480.4" cy="354.2" r="2.75"/><circle cx="484.2" cy="348.5" r="2.75"/><circle cx="489.7" cy="346.2" r="2.75"/><circle cx="489.6" cy="350.4" r="2.75"/><circle cx="494.3" cy="351.3" r="2.75"/><circle cx="901.5" cy="597.1" r="2.75"/><circle cx="929.2" cy="640.8" r="2.75"/><circle cx="946.5" cy="660.2" r="2.75"/><circle cx="929.2" cy="672.7" r="2.75"/><circle cx="908.3" cy="737.9" r="2.75"/><circle cx="919.8" cy="779.0" r="2.75"/><circle cx="733.3" cy="519.5" r="2.75"/><circle cx="470.8" cy="428.5" r="2.75"/><circle cx="504.9" cy="394.4" r="2.75"/><circle cx="511.4" cy="413.9" r="2.75"/><circle cx="521.1" cy="422.0" r="2.75"/><circle cx="512.0" cy="435.0" r="2.75"/><circle cx="526.0" cy="448.0" r="2.75"/><circle cx="558.0" cy="520.5" r="2.75"/><circle cx="572.3" cy="530.1" r="2.75"/><circle cx="596.6" cy="721.4" r="2.75"/><circle cx="588.1" cy="737.7" r="2.75"/><circle cx="584.5" cy="741.9" r="2.75"/><circle cx="568.2" cy="762.5" r="2.75"/><circle cx="720.0" cy="820.2" r="2.75"/><circle cx="730.8" cy="854.9" r="2.75"/><circle cx="735.2" cy="854.9" r="2.75"/><circle cx="725.4" cy="858.2" r="2.75"/><circle cx="713.9" cy="838.2" r="2.75"/><circle cx="727.6" cy="846.2" r="2.75"/><circle cx="627.9" cy="876.6" r="2.75"/><circle cx="632.7" cy="899.3" r="2.75"/><circle cx="638.8" cy="905.4" r="2.75"/><circle cx="635.5" cy="912.3" r="2.75"/><circle cx="632.2" cy="916.7" r="2.75"/><circle cx="629.0" cy="923.2" r="2.75"/><circle cx="722.2" cy="940.5" r="2.75"/><circle cx="714.1" cy="950.2" r="2.75"/></g><g fill="#a480ea"><circle cx="973.4" cy="634.4" r="2.75"/><circle cx="1005.7" cy="735.5" r="2.75"/><circle cx="1024.3" cy="735.4" r="2.75"/><circle cx="954.1" cy="684.9" r="2.75"/><circle cx="917.4" cy="715.3" r="2.75"/><circle cx="964.4" cy="697.6" r="2.75"/><circle cx="1022.2" cy="669.6" r="2.75"/><circle cx="1035.5" cy="664.7" r="2.75"/><circle cx="296.4" cy="836.6" r="2.75"/><circle cx="371.8" cy="750.3" r="2.75"/><circle cx="431.5" cy="846.6" r="2.75"/><circle cx="449.1" cy="845.1" r="2.75"/><circle cx="487.9" cy="870.5" r="2.75"/><circle cx="216.4" cy="532.2" r="2.75"/><circle cx="250.5" cy="543.6" r="2.75"/><circle cx="413.2" cy="421.1" r="2.75"/><circle cx="424.3" cy="390.3" r="2.75"/><circle cx="440.0" cy="407.6" r="2.75"/><circle cx="502.9" cy="519.1" r="2.75"/><circle cx="496.4" cy="535.0" r="2.75"/><circle cx="508.5" cy="554.1" r="2.75"/><circle cx="519.9" cy="556.6" r="2.75"/><circle cx="631.2" cy="461.0" r="2.75"/><circle cx="631.4" cy="466.8" r="2.75"/><circle cx="590.5" cy="406.2" r="2.75"/><circle cx="597.6" cy="395.8" r="2.75"/><circle cx="543.0" cy="215.2" r="2.75"/><circle cx="554.8" cy="211.8" r="2.75"/><circle cx="696.8" cy="187.6" r="2.75"/><circle cx="713.8" cy="178.4" r="2.75"/><circle cx="719.1" cy="162.0" r="2.75"/><circle cx="745.9" cy="232.7" r="2.75"/><circle cx="750.8" cy="235.3" r="2.75"/><circle cx="759.8" cy="226.3" r="2.75"/><circle cx="770.2" cy="226.3" r="2.75"/><circle cx="802.8" cy="283.3" r="2.75"/><circle cx="817.4" cy="273.9" r="2.75"/><circle cx="820.2" cy="278.3" r="2.75"/><circle cx="834.7" cy="285.7" r="2.75"/><circle cx="937.5" cy="373.9" r="2.75"/><circle cx="607.5" cy="669.4" r="2.75"/><circle cx="804.2" cy="785.0" r="2.75"/><circle cx="699.5" cy="849.3" r="2.75"/><circle cx="490.5" cy="361.5" r="2.75"/><circle cx="584.5" cy="428.5" r="2.75"/><circle cx="597.5" cy="446.4" r="2.75"/><circle cx="562.3" cy="522.3" r="2.75"/><circle cx="591.7" cy="546.0" r="2.75"/><circle cx="594.7" cy="550.2" r="2.75"/><circle cx="597.8" cy="551.6" r="2.75"/></g><g fill="#9d77ec"><circle cx="960.6" cy="701.9" r="2.75"/><circle cx="965.2" cy="706.7" r="2.75"/><circle cx="1003.5" cy="761.1" r="2.75"/><circle cx="1011.2" cy="713.2" r="2.75"/><circle cx="1027.6" cy="626.8" r="2.75"/><circle cx="959.3" cy="684.0" r="2.75"/><circle cx="966.4" cy="715.1" r="2.75"/><circle cx="976.2" cy="690.6" r="2.75"/><circle cx="971.8" cy="716.1" r="2.75"/><circle cx="984.5" cy="678.2" r="2.75"/><circle cx="991.0" cy="728.6" r="2.75"/><circle cx="995.0" cy="747.2" r="2.75"/><circle cx="1012.5" cy="643.0" r="2.75"/><circle cx="1019.7" cy="675.7" r="2.75"/><circle cx="1021.8" cy="673.6" r="2.75"/><circle cx="288.9" cy="815.5" r="2.75"/><circle cx="493.1" cy="880.1" r="2.75"/><circle cx="423.9" cy="825.7" r="2.75"/><circle cx="183.8" cy="563.2" r="2.75"/><circle cx="222.9" cy="516.9" r="2.75"/><circle cx="221.7" cy="526.1" r="2.75"/><circle cx="230.2" cy="512.4" r="2.75"/><circle cx="235.0" cy="552.1" r="2.75"/><circle cx="402.4" cy="432.7" r="2.75"/><circle cx="428.1" cy="402.7" r="2.75"/><circle cx="431.1" cy="418.6" r="2.75"/><circle cx="468.2" cy="528.7" r="2.75"/><circle cx="510.1" cy="555.0" r="2.75"/><circle cx="483.3" cy="550.4" r="2.75"/><circle cx="504.4" cy="532.4" r="2.75"/><circle cx="541.0" cy="234.4" r="2.75"/><circle cx="712.2" cy="204.4" r="2.75"/><circle cx="714.2" cy="222.8" r="2.75"/><circle cx="760.6" cy="235.3" r="2.75"/><circle cx="777.3" cy="221.0" r="2.75"/><circle cx="831.1" cy="277.2" r="2.75"/><circle cx="818.3" cy="289.4" r="2.75"/><circle cx="777.6" cy="309.8" r="2.75"/><circle cx="871.4" cy="373.5" r="2.75"/><circle cx="875.9" cy="375.4" r="2.75"/><circle cx="923.7" cy="372.1" r="2.75"/><circle cx="926.1" cy="401.3" r="2.75"/><circle cx="587.9" cy="544.4" r="2.75"/><circle cx="546.5" cy="314.5" r="2.75"/><circle cx="481.5" cy="352.0" r="2.75"/><circle cx="481.5" cy="356.5" r="2.75"/><circle cx="489.5" cy="357.5" r="2.75"/></g><g fill="#966eee"><circle cx="1004.0" cy="766.9" r="2.75"/><circle cx="1016.1" cy="669.0" r="2.75"/><circle cx="1036.6" cy="730.9" r="2.75"/><circle cx="899.9" cy="717.2" r="2.75"/><circle cx="960.2" cy="708.3" r="2.75"/><circle cx="1009.6" cy="636.2" r="2.75"/><circle cx="341.9" cy="857.1" r="2.75"/><circle cx="364.2" cy="783.4" r="2.75"/><circle cx="413.4" cy="834.8" r="2.75"/><circle cx="306.7" cy="844.0" r="2.75"/><circle cx="500.0" cy="880.9" r="2.75"/><circle cx="450.2" cy="848.7" r="2.75"/><circle cx="414.7" cy="403.0" r="2.75"/><circle cx="488.5" cy="509.0" r="2.75"/><circle cx="424.8" cy="559.5" r="2.75"/><circle cx="464.5" cy="569.0" r="2.75"/><circle cx="508.7" cy="563.7" r="2.75"/><circle cx="696.1" cy="461.6" r="2.75"/><circle cx="705.4" cy="467.7" r="2.75"/><circle cx="709.5" cy="450.5" r="2.75"/><circle cx="664.5" cy="157.7" r="2.75"/><circle cx="718.3" cy="178.6" r="2.75"/><circle cx="753.5" cy="218.5" r="2.75"/><circle cx="766.1" cy="252.0" r="2.75"/><circle cx="804.7" cy="237.6" r="2.75"/><circle cx="808.8" cy="241.5" r="2.75"/><circle cx="809.8" cy="292.2" r="2.75"/><circle cx="831.6" cy="295.9" r="2.75"/><circle cx="885.4" cy="369.8" r="2.75"/><circle cx="888.4" cy="376.9" r="2.75"/><circle cx="950.5" cy="368.1" r="2.75"/><circle cx="485.6" cy="352.1" r="2.75"/><circle cx="537.8" cy="224.5" r="2.75"/><circle cx="552.8" cy="217.3" r="2.75"/><circle cx="549.0" cy="227.5" r="2.75"/><circle cx="554.2" cy="224.8" r="2.75"/><circle cx="551.2" cy="234.2" r="2.75"/><circle cx="563.7" cy="223.3" r="2.75"/><circle cx="618.1" cy="667.1" r="2.75"/><circle cx="641.9" cy="674.6" r="2.75"/><circle cx="627.8" cy="680.3" r="2.75"/><circle cx="605.1" cy="688.4" r="2.75"/><circle cx="635.5" cy="701.5" r="2.75"/></g><g fill="#8e65f0"><circle cx="976.9" cy="697.7" r="2.75"/><circle cx="974.0" cy="757.5" r="2.75"/><circle cx="417.9" cy="409.4" r="2.75"/><circle cx="529.1" cy="517.4" r="2.75"/><circle cx="516.9" cy="564.7" r="2.75"/><circle cx="542.4" cy="472.9" r="2.75"/><circle cx="636.5" cy="463.8" r="2.75"/><circle cx="606.5" cy="404.9" r="2.75"/><circle cx="543.2" cy="224.5" r="2.75"/><circle cx="697.5" cy="179.3" r="2.75"/><circle cx="726.9" cy="167.0" r="2.75"/><circle cx="783.1" cy="261.5" r="2.75"/><circle cx="838.2" cy="281.6" r="2.75"/><circle cx="861.8" cy="366.4" r="2.75"/><circle cx="898.1" cy="373.7" r="2.75"/><circle cx="711.5" cy="841.9" r="2.75"/><circle cx="711.6" cy="849.5" r="2.75"/></g><g fill="#855bf2"><circle cx="978.6" cy="652.1" r="2.75"/><circle cx="980.0" cy="724.1" r="2.75"/><circle cx="992.0" cy="654.6" r="2.75"/><circle cx="953.4" cy="704.8" r="2.75"/><circle cx="987.2" cy="675.6" r="2.75"/><circle cx="1035.8" cy="633.7" r="2.75"/><circle cx="377.0" cy="765.4" r="2.75"/><circle cx="295.4" cy="827.8" r="2.75"/><circle cx="308.2" cy="818.2" r="2.75"/><circle cx="158.4" cy="552.1" r="2.75"/><circle cx="186.6" cy="526.4" r="2.75"/><circle cx="612.7" cy="387.7" r="2.75"/><circle cx="712.0" cy="191.3" r="2.75"/><circle cx="770.9" cy="219.3" r="2.75"/><circle cx="807.4" cy="777.7" r="2.75"/></g><g fill="#7c51f4"><circle cx="501.8" cy="584.5" r="2.75"/></g><g fill="#0000ff"><circle cx="525.4" cy="495.1" r="2.75"/></g>
<g stroke="#000" stroke-width="3" fill="none">
<line x1="95.5" y1="51" x2="95.5" y2="1121"/>
<line x1="94" y1="1119.5" x2="1118" y2="1119.5"/>
<line x1="90" y1="277.3" x2="95" y2="277.3"/>
<line x1="90" y1="571.3" x2="95" y2="571.3"/>
<line x1="90" y1="865.3" x2="95" y2="865.3"/>
<line x1="141" y1="1120" x2="141" y2="1124.5"/>
<line x1="306.9" y1="1120" x2="306.9" y2="1124.5"/>
<line x1="472.7" y1="1120" x2="472.7" y2="1124.5"/>
<line x1="638.6" y1="1120" x2="638.6" y2="1124.5"/>
<line x1="804.5" y1="1120" x2="804.5" y2="1124.5"/>
<line x1="970.3" y1="1120" x2="970.3" y2="1124.5"/>
</g>
<g font-size="31.5" text-anchor="end">
<text transform="translate(88.5,288) scale(0.952,1)"><tspan class="one">1</tspan>0</text>
<text transform="translate(88.5,582) scale(0.952,1)">0</text>
<text transform="translate(88.3,876) scale(0.952,1)">-<tspan class="one">1</tspan>0</text>
</g>
<g font-size="31.5" text-anchor="middle">
<text transform="translate(141,1148) scale(0.952,1)">-<tspan class="one">1</tspan>5</text>
<text transform="translate(306.9,1148) scale(0.952,1)">-<tspan class="one">1</tspan>0</text>
<text transform="translate(472.7,1148) scale(0.952,1)">-5</text>
<text transform="translate(638.6,1148) scale(0.952,1)">0</text>
<text transform="translate(804.5,1148) scale(0.952,1)">5</text>
<text transform="translate(970.3,1148) scale(0.952,1)"><tspan class="one">1</tspan>0</text>
</g>
<text transform="translate(528.6,1181) scale(0.955,1)" font-size="32">umapNC_<tspan class="one">1</tspan></text>
<text transform="translate(34.5,585.4) rotate(-90) scale(0.955,1)" font-size="32" text-anchor="middle">umapNC_2</text>
<text x="567.1" y="36.9" font-size="34.5" font-weight="bold">Ten</text>
<path d="M628.3,17.3 C631.6,17 633.6,15 634.1,12.4 L639.1,12.4 L639.1,36.9 L633.9,36.9 L633.9,20.2 L628.3,20.2 Z" fill="#000"/>
<defs><linearGradient id="lg" x1="0" y1="1" x2="0" y2="0">
<stop offset="0" stop-color="#d3d3d3"/><stop offset="0.1" stop-color="#cac0d9"/><stop offset="0.2" stop-color="#c1aede"/><stop offset="0.3" stop-color="#b69ce3"/><stop offset="0.4" stop-color="#aa89e7"/><stop offset="0.5" stop-color="#9d77ec"/><stop offset="0.6" stop-color="#8e65f0"/><stop offset="0.7" stop-color="#7c51f4"/><stop offset="0.8" stop-color="#673df8"/><stop offset="0.9" stop-color="#4926fb"/><stop offset="1" stop-color="#0000ff"/>
</linearGradient></defs>
<rect x="1130.2" y="547.6" width="15.4" height="76.4" fill="url(#lg)"/>
<g stroke="#fff" stroke-width="1" opacity="0.6">
<line x1="1130.2" y1="550.3" x2="1133.3" y2="550.3"/><line x1="1142.5" y1="550.3" x2="1145.6" y2="550.3"/>
<line x1="1130.2" y1="569.1" x2="1133.3" y2="569.1"/><line x1="1142.5" y1="569.1" x2="1145.6" y2="569.1"/>
<line x1="1130.2" y1="587.4" x2="1133.3" y2="587.4"/><line x1="1142.5" y1="587.4" x2="1145.6" y2="587.4"/>
<line x1="1130.2" y1="605.4" x2="1133.3" y2="605.4"/><line x1="1142.5" y1="605.4" x2="1145.6" y2="605.4"/>
</g>
<g font-size="25">
<text x="1152.8" y="559.8">2.0</text>
<text x="1152.8" y="578.2"><tspan class="one">1</tspan>.5</text>
<text x="1152.8" y="596.6"><tspan class="one">1</tspan>.0</text>
<text x="1152.8" y="615">0.5</text>
<text x="1152.8" y="633.4">0.0</text>
</g>
<g fill="#000"><path transform="translate(55.133,288.000) scale(1.000)" d="M2.9,-18.2 C5.5,-18.5 7.2,-19.8 7.8,-22 L10.6,-22 L10.6,0 L7.6,0 L7.6,-15.8 C6.3,-15.2 4.6,-15.1 2.9,-15.2 Z"/><path transform="translate(54.933,876.000) scale(1.000)" d="M2.9,-18.2 C5.5,-18.5 7.2,-19.8 7.8,-22 L10.6,-22 L10.6,0 L7.6,0 L7.6,-15.8 C6.3,-15.2 4.6,-15.1 2.9,-15.2 Z"/><path transform="translate(129.314,1148.000) scale(1.000)" d="M2.9,-18.2 C5.5,-18.5 7.2,-19.8 7.8,-22 L10.6,-22 L10.6,0 L7.6,0 L7.6,-15.8 C6.3,-15.2 4.6,-15.1 2.9,-15.2 Z"/><path transform="translate(295.214,1148.000) scale(1.000)" d="M2.9,-18.2 C5.5,-18.5 7.2,-19.8 7.8,-22 L10.6,-22 L10.6,0 L7.6,0 L7.6,-15.8 C6.3,-15.2 4.6,-15.1 2.9,-15.2 Z"/><path transform="translate(953.616,1148.000) scale(1.000)" d="M2.9,-18.2 C5.5,-18.5 7.2,-19.8 7.8,-22 L10.6,-22 L10.6,0 L7.6,0 L7.6,-15.8 C6.3,-15.2 4.6,-15.1 2.9,-15.2 Z"/><path transform="translate(666.089,1181.000) scale(1.000)" d="M2.9,-18.2 C5.5,-18.5 7.2,-19.8 7.8,-22 L10.6,-22 L10.6,0 L7.6,0 L7.6,-15.8 C6.3,-15.2 4.6,-15.1 2.9,-15.2 Z"/><path transform="translate(1152.800,578.200) scale(0.833)" d="M2.9,-18.2 C5.5,-18.5 7.2,-19.8 7.8,-22 L10.6,-22 L10.6,0 L7.6,0 L7.6,-15.8 C6.3,-15.2 4.6,-15.1 2.9,-15.2 Z"/><path transform="translate(1152.800,596.600) scale(0.833)" d="M2.9,-18.2 C5.5,-18.5 7.2,-19.8 7.8,-22 L10.6,-22 L10.6,0 L7.6,0 L7.6,-15.8 C6.3,-15.2 4.6,-15.1 2.9,-15.2 Z"/></g>
</svg>
</body></html>
